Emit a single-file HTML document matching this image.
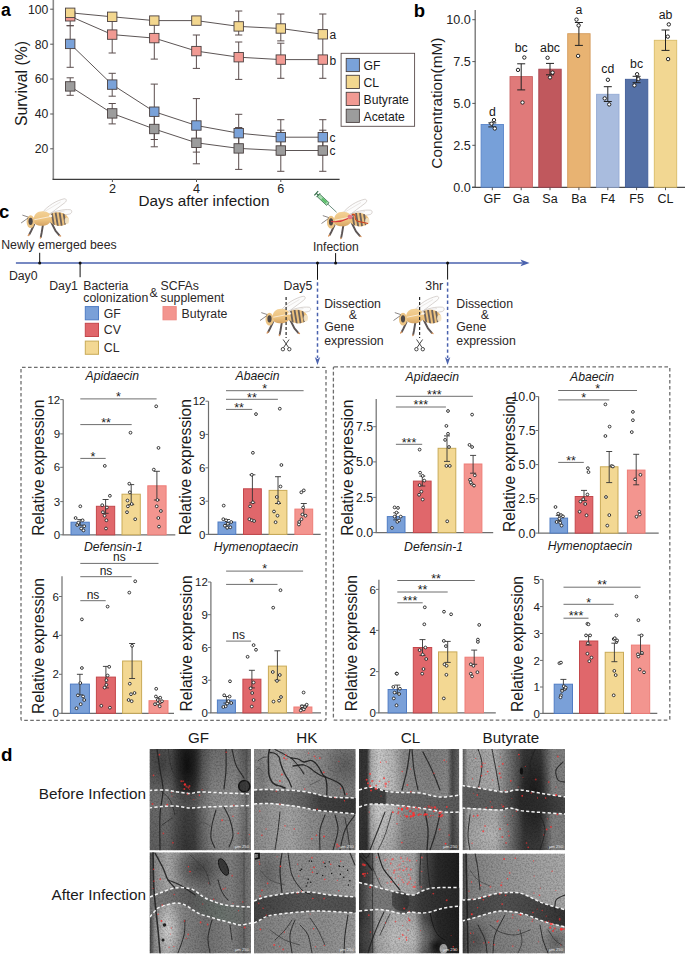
<!DOCTYPE html>
<html><head><meta charset="utf-8"><style>
html,body{margin:0;padding:0;background:#fff;}
svg{display:block;}
text{font-family:"Liberation Sans", sans-serif;}
</style></head><body>
<svg width="685" height="955" viewBox="0 0 685 955">
<defs>
<linearGradient id="thg" x1="0" y1="0" x2="0" y2="1"><stop offset="0" stop-color="#f3d196"/><stop offset="0.6" stop-color="#ecc27f"/><stop offset="1" stop-color="#d5a464"/></linearGradient>
<clipPath id="abdclip"><ellipse cx="38" cy="20.6" rx="10.2" ry="6.8" transform="rotate(8 38 20.6)"/></clipPath>
<filter id="grain" x="0" y="0" width="1" height="1" color-interpolation-filters="sRGB"><feTurbulence type="fractalNoise" baseFrequency="0.6" numOctaves="2" seed="7" result="t"/><feColorMatrix in="t" type="matrix" values="0 0 0 0 0  0 0 0 0 0  0 0 0 0 0  1.6 0 0 0 -0.62"/></filter><clipPath id="clip_gfb"><rect x="149.5" y="749" width="101.5" height="101.4"/></clipPath><linearGradient id="g_gfb" gradientUnits="userSpaceOnUse" x1="149.5" y1="0" x2="251" y2="0"><stop offset="0" stop-color="#626262" stop-opacity="1"/><stop offset="0.18" stop-color="#666" stop-opacity="1"/><stop offset="0.27" stop-color="#474747" stop-opacity="1"/><stop offset="0.35" stop-color="#383838" stop-opacity="1"/><stop offset="0.44" stop-color="#3c3c3c" stop-opacity="1"/><stop offset="0.52" stop-color="#626262" stop-opacity="1"/><stop offset="0.62" stop-color="#858585" stop-opacity="1"/><stop offset="0.85" stop-color="#8c8c8c" stop-opacity="1"/><stop offset="0.93" stop-color="#6e6e6e" stop-opacity="1"/><stop offset="1" stop-color="#808080" stop-opacity="1"/></linearGradient><linearGradient id="v_gfb" gradientUnits="userSpaceOnUse" x1="0" y1="749" x2="0" y2="850.4"><stop offset="0" stop-color="#000" stop-opacity="0.18"/><stop offset="0.4" stop-color="#000" stop-opacity="0.02"/><stop offset="0.6" stop-color="#fff" stop-opacity="0.04"/><stop offset="1" stop-color="#000" stop-opacity="0.04"/></linearGradient><radialGradient id="b_gfb1"><stop offset="0" stop-color="#0a0a0a" stop-opacity="0.85"/><stop offset="1" stop-color="#0a0a0a" stop-opacity="0"/></radialGradient><radialGradient id="b_gfb2"><stop offset="0" stop-color="#222" stop-opacity="0.4"/><stop offset="1" stop-color="#222" stop-opacity="0"/></radialGradient><clipPath id="clip_hkb"><rect x="254" y="749" width="101.7" height="101.2"/></clipPath><linearGradient id="g_hkb" gradientUnits="userSpaceOnUse" x1="254" y1="0" x2="355.7" y2="0"><stop offset="0" stop-color="#8a8a8a" stop-opacity="1"/><stop offset="0.2" stop-color="#9a9a9a" stop-opacity="1"/><stop offset="0.35" stop-color="#a4a4a4" stop-opacity="1"/><stop offset="0.55" stop-color="#8e8e8e" stop-opacity="1"/><stop offset="0.8" stop-color="#7e7e7e" stop-opacity="1"/><stop offset="1" stop-color="#7a7a7a" stop-opacity="1"/></linearGradient><radialGradient id="b_hkb1"><stop offset="0" stop-color="#333" stop-opacity="0.4"/><stop offset="1" stop-color="#333" stop-opacity="0"/></radialGradient><linearGradient id="gut_hkb" gradientUnits="userSpaceOnUse" x1="254" y1="0" x2="355.7" y2="0"><stop offset="0" stop-color="#5a5a5a" stop-opacity="1"/><stop offset="0.3" stop-color="#6e6e6e" stop-opacity="1"/><stop offset="0.5" stop-color="#5e5e5e" stop-opacity="1"/><stop offset="0.65" stop-color="#3e3e3e" stop-opacity="1"/><stop offset="1" stop-color="#363636" stop-opacity="1"/></linearGradient><radialGradient id="b_hkb2"><stop offset="0" stop-color="#444" stop-opacity="0.3"/><stop offset="1" stop-color="#444" stop-opacity="0"/></radialGradient><clipPath id="clip_clb"><rect x="359" y="749" width="100.3" height="101.2"/></clipPath><linearGradient id="g_clb" gradientUnits="userSpaceOnUse" x1="359" y1="0" x2="459.3" y2="0"><stop offset="0" stop-color="#3a3a3a" stop-opacity="1"/><stop offset="0.08" stop-color="#363636" stop-opacity="1"/><stop offset="0.12" stop-color="#b0b0b0" stop-opacity="1"/><stop offset="0.2" stop-color="#d2d2d2" stop-opacity="1"/><stop offset="0.34" stop-color="#bcbcbc" stop-opacity="1"/><stop offset="0.45" stop-color="#8e8e8e" stop-opacity="1"/><stop offset="0.7" stop-color="#848484" stop-opacity="1"/><stop offset="0.88" stop-color="#8a8a8a" stop-opacity="1"/><stop offset="0.93" stop-color="#4a4a4a" stop-opacity="1"/><stop offset="1" stop-color="#6e6e6e" stop-opacity="1"/></linearGradient><linearGradient id="v_clb" gradientUnits="userSpaceOnUse" x1="0" y1="749" x2="0" y2="850.2"><stop offset="0" stop-color="#000" stop-opacity="0.05"/><stop offset="0.5" stop-color="#000" stop-opacity="0"/><stop offset="1" stop-color="#000" stop-opacity="0.14"/></linearGradient><linearGradient id="gut_clb" gradientUnits="userSpaceOnUse" x1="359" y1="0" x2="459.3" y2="0"><stop offset="0" stop-color="#3a3a3a" stop-opacity="1"/><stop offset="0.26" stop-color="#383838" stop-opacity="1"/><stop offset="0.28" stop-color="#6e6e6e" stop-opacity="1"/><stop offset="0.6" stop-color="#666" stop-opacity="1"/><stop offset="1" stop-color="#5a5a5a" stop-opacity="1"/></linearGradient><clipPath id="clip_bub"><rect x="462.5" y="749" width="102.5" height="101.2"/></clipPath><linearGradient id="g_bub" gradientUnits="userSpaceOnUse" x1="462.5" y1="0" x2="565" y2="0"><stop offset="0" stop-color="#5a5a5a" stop-opacity="1"/><stop offset="0.05" stop-color="#9e9e9e" stop-opacity="1"/><stop offset="0.32" stop-color="#aaaaaa" stop-opacity="1"/><stop offset="0.45" stop-color="#767676" stop-opacity="1"/><stop offset="0.6" stop-color="#363636" stop-opacity="1"/><stop offset="0.76" stop-color="#3a3a3a" stop-opacity="1"/><stop offset="0.88" stop-color="#808080" stop-opacity="1"/><stop offset="1" stop-color="#7e7e7e" stop-opacity="1"/></linearGradient><radialGradient id="b_bub1"><stop offset="0" stop-color="#0a0a0a" stop-opacity="0.65"/><stop offset="1" stop-color="#0a0a0a" stop-opacity="0"/></radialGradient><radialGradient id="b_bub2"><stop offset="0" stop-color="#ccc" stop-opacity="0.35"/><stop offset="1" stop-color="#ccc" stop-opacity="0"/></radialGradient><linearGradient id="gut_bub" gradientUnits="userSpaceOnUse" x1="462.5" y1="0" x2="565" y2="0"><stop offset="0" stop-color="#5e5e5e" stop-opacity="1"/><stop offset="0.38" stop-color="#5a5a5a" stop-opacity="1"/><stop offset="0.56" stop-color="#2a2a2a" stop-opacity="1"/><stop offset="0.8" stop-color="#303030" stop-opacity="1"/><stop offset="1" stop-color="#444" stop-opacity="1"/></linearGradient><clipPath id="clip_gfa"><rect x="149.5" y="852.3" width="101.5" height="101.2"/></clipPath><linearGradient id="g_gfa" gradientUnits="userSpaceOnUse" x1="149.5" y1="0" x2="251" y2="0"><stop offset="0" stop-color="#3a3a3a" stop-opacity="1"/><stop offset="0.05" stop-color="#8a8a8a" stop-opacity="1"/><stop offset="0.18" stop-color="#a8a8a8" stop-opacity="1"/><stop offset="0.35" stop-color="#828282" stop-opacity="1"/><stop offset="0.55" stop-color="#707070" stop-opacity="1"/><stop offset="0.8" stop-color="#808080" stop-opacity="1"/><stop offset="0.92" stop-color="#6a6a6a" stop-opacity="1"/><stop offset="1" stop-color="#7a7a7a" stop-opacity="1"/></linearGradient><radialGradient id="b_gfa1"><stop offset="0" stop-color="#222" stop-opacity="0.55"/><stop offset="1" stop-color="#222" stop-opacity="0"/></radialGradient><radialGradient id="b_gfa2"><stop offset="0" stop-color="#e6e6e6" stop-opacity="0.65"/><stop offset="1" stop-color="#e6e6e6" stop-opacity="0"/></radialGradient><linearGradient id="gut_gfa" gradientUnits="userSpaceOnUse" x1="149.5" y1="0" x2="251" y2="0"><stop offset="0" stop-color="#7a7a7a" stop-opacity="1"/><stop offset="0.4" stop-color="#555" stop-opacity="1"/><stop offset="0.7" stop-color="#66706a" stop-opacity="1"/><stop offset="1" stop-color="#707070" stop-opacity="1"/></linearGradient><clipPath id="clip_hka"><rect x="254" y="852.8" width="101.7" height="100.7"/></clipPath><linearGradient id="g_hka" gradientUnits="userSpaceOnUse" x1="254" y1="0" x2="355.7" y2="0"><stop offset="0" stop-color="#7e7e7e" stop-opacity="1"/><stop offset="0.3" stop-color="#8a8a8a" stop-opacity="1"/><stop offset="0.7" stop-color="#8e8e8e" stop-opacity="1"/><stop offset="1" stop-color="#9a9a9a" stop-opacity="1"/></linearGradient><radialGradient id="b_hka1"><stop offset="0" stop-color="#333" stop-opacity="0.35"/><stop offset="1" stop-color="#333" stop-opacity="0"/></radialGradient><linearGradient id="gut_hka" gradientUnits="userSpaceOnUse" x1="254" y1="0" x2="355.7" y2="0"><stop offset="0" stop-color="#3e3e3e" stop-opacity="1"/><stop offset="0.5" stop-color="#525252" stop-opacity="1"/><stop offset="1" stop-color="#4a4a4a" stop-opacity="1"/></linearGradient><clipPath id="clip_cla"><rect x="359" y="852.8" width="100.3" height="100.7"/></clipPath><linearGradient id="g_cla" gradientUnits="userSpaceOnUse" x1="359" y1="0" x2="459.3" y2="0"><stop offset="0" stop-color="#2e2e2e" stop-opacity="1"/><stop offset="0.11" stop-color="#484848" stop-opacity="1"/><stop offset="0.17" stop-color="#9a9a9a" stop-opacity="1"/><stop offset="0.35" stop-color="#b0b0b0" stop-opacity="1"/><stop offset="0.55" stop-color="#a2a2a2" stop-opacity="1"/><stop offset="0.64" stop-color="#505050" stop-opacity="1"/><stop offset="0.78" stop-color="#2a2a2a" stop-opacity="1"/><stop offset="1" stop-color="#1e1e1e" stop-opacity="1"/></linearGradient><radialGradient id="b_cla1"><stop offset="0" stop-color="#cfcfcf" stop-opacity="0.6"/><stop offset="1" stop-color="#cfcfcf" stop-opacity="0"/></radialGradient><radialGradient id="b_cla2"><stop offset="0" stop-color="#000" stop-opacity="0.6"/><stop offset="1" stop-color="#000" stop-opacity="0"/></radialGradient><radialGradient id="b_cla3"><stop offset="0" stop-color="#555" stop-opacity="0.5"/><stop offset="1" stop-color="#555" stop-opacity="0"/></radialGradient><linearGradient id="gut_cla" gradientUnits="userSpaceOnUse" x1="359" y1="0" x2="459.3" y2="0"><stop offset="0" stop-color="#3a3a3a" stop-opacity="1"/><stop offset="0.14" stop-color="#777" stop-opacity="1"/><stop offset="0.34" stop-color="#747474" stop-opacity="1"/><stop offset="0.45" stop-color="#454545" stop-opacity="1"/><stop offset="0.6" stop-color="#383838" stop-opacity="1"/><stop offset="1" stop-color="#2a2a2a" stop-opacity="1"/></linearGradient><clipPath id="clip_bua"><rect x="462.5" y="853.5" width="102.5" height="100.0"/></clipPath><linearGradient id="g_bua" gradientUnits="userSpaceOnUse" x1="462.5" y1="0" x2="565" y2="0"><stop offset="0" stop-color="#404040" stop-opacity="1"/><stop offset="0.06" stop-color="#7e7e7e" stop-opacity="1"/><stop offset="0.3" stop-color="#909090" stop-opacity="1"/><stop offset="0.7" stop-color="#a0a0a0" stop-opacity="1"/><stop offset="1" stop-color="#aaaaaa" stop-opacity="1"/></linearGradient><linearGradient id="v_bua" gradientUnits="userSpaceOnUse" x1="0" y1="900" x2="0" y2="953.5"><stop offset="0" stop-color="#000" stop-opacity="0"/><stop offset="0.3" stop-color="#000" stop-opacity="0.1"/><stop offset="1" stop-color="#000" stop-opacity="0.15"/></linearGradient><radialGradient id="b_bua1"><stop offset="0" stop-color="#222" stop-opacity="0.4"/><stop offset="1" stop-color="#222" stop-opacity="0"/></radialGradient><radialGradient id="b_bua2"><stop offset="0" stop-color="#222" stop-opacity="0.4"/><stop offset="1" stop-color="#222" stop-opacity="0"/></radialGradient><linearGradient id="gut_bua" gradientUnits="userSpaceOnUse" x1="462.5" y1="0" x2="565" y2="0"><stop offset="0" stop-color="#404040" stop-opacity="1"/><stop offset="0.4" stop-color="#4c4c4c" stop-opacity="1"/><stop offset="0.7" stop-color="#3e3e3e" stop-opacity="1"/><stop offset="1" stop-color="#282828" stop-opacity="1"/></linearGradient></defs>
<text x="1.0" y="15.9" font-size="17.6" text-anchor="start" font-weight="bold" fill="#000" >a</text>
<line x1="53.3" y1="0.0" x2="53.3" y2="179.3" stroke="#8a8a8a" stroke-width="1.6" />
<line x1="52.5" y1="179.3" x2="339.6" y2="179.3" stroke="#3c3c3c" stroke-width="1.2" />
<line x1="50.2" y1="9.2" x2="53.3" y2="9.2" stroke="#555" stroke-width="1" />
<text x="48.3" y="13.5" font-size="12.2" text-anchor="end" fill="#222" >100</text>
<line x1="50.2" y1="44.2" x2="53.3" y2="44.2" stroke="#555" stroke-width="1" />
<text x="48.3" y="48.5" font-size="12.2" text-anchor="end" fill="#222" >80</text>
<line x1="50.2" y1="79.0" x2="53.3" y2="79.0" stroke="#555" stroke-width="1" />
<text x="48.3" y="83.3" font-size="12.2" text-anchor="end" fill="#222" >60</text>
<line x1="50.2" y1="114.0" x2="53.3" y2="114.0" stroke="#555" stroke-width="1" />
<text x="48.3" y="118.3" font-size="12.2" text-anchor="end" fill="#222" >40</text>
<line x1="50.2" y1="148.8" x2="53.3" y2="148.8" stroke="#555" stroke-width="1" />
<text x="48.3" y="153.1" font-size="12.2" text-anchor="end" fill="#222" >20</text>
<line x1="112.4" y1="179.3" x2="112.4" y2="182.0" stroke="#555" stroke-width="1" />
<text x="112.4" y="192.8" font-size="12.6" text-anchor="middle" fill="#222" >2</text>
<line x1="196.5" y1="179.3" x2="196.5" y2="182.0" stroke="#555" stroke-width="1" />
<text x="196.5" y="192.8" font-size="12.6" text-anchor="middle" fill="#222" >4</text>
<line x1="280.8" y1="179.3" x2="280.8" y2="182.0" stroke="#555" stroke-width="1" />
<text x="280.8" y="192.8" font-size="12.6" text-anchor="middle" fill="#222" >6</text>
<text x="204.0" y="205.6" font-size="15.3" text-anchor="middle" fill="#1a1a1a" >Days after infection</text>
<text transform="translate(26.5,83.5) rotate(-90)" font-size="15.8" text-anchor="middle" fill="#1a1a1a">Survival (%)</text>
<line x1="238.7" y1="11.0" x2="238.7" y2="35.0" stroke="#5b4d4d" stroke-width="1" />
<line x1="235.1" y1="11.0" x2="242.3" y2="11.0" stroke="#5b4d4d" stroke-width="1" />
<line x1="235.1" y1="35.0" x2="242.3" y2="35.0" stroke="#5b4d4d" stroke-width="1" />
<line x1="280.8" y1="14.0" x2="280.8" y2="40.9" stroke="#5b4d4d" stroke-width="1" />
<line x1="277.2" y1="14.0" x2="284.4" y2="14.0" stroke="#5b4d4d" stroke-width="1" />
<line x1="277.2" y1="40.9" x2="284.4" y2="40.9" stroke="#5b4d4d" stroke-width="1" />
<line x1="322.8" y1="14.0" x2="322.8" y2="57.5" stroke="#5b4d4d" stroke-width="1" />
<line x1="319.2" y1="14.0" x2="326.4" y2="14.0" stroke="#5b4d4d" stroke-width="1" />
<line x1="319.2" y1="57.5" x2="326.4" y2="57.5" stroke="#5b4d4d" stroke-width="1" />
<line x1="70.2" y1="16.3" x2="70.2" y2="25.7" stroke="#5b4d4d" stroke-width="1" />
<line x1="66.6" y1="16.3" x2="73.8" y2="16.3" stroke="#5b4d4d" stroke-width="1" />
<line x1="66.6" y1="25.7" x2="73.8" y2="25.7" stroke="#5b4d4d" stroke-width="1" />
<line x1="112.2" y1="16.8" x2="112.2" y2="53.0" stroke="#5b4d4d" stroke-width="1" />
<line x1="108.6" y1="16.8" x2="115.8" y2="16.8" stroke="#5b4d4d" stroke-width="1" />
<line x1="108.6" y1="53.0" x2="115.8" y2="53.0" stroke="#5b4d4d" stroke-width="1" />
<line x1="154.3" y1="20.6" x2="154.3" y2="59.1" stroke="#5b4d4d" stroke-width="1" />
<line x1="150.7" y1="20.6" x2="157.9" y2="20.6" stroke="#5b4d4d" stroke-width="1" />
<line x1="150.7" y1="59.1" x2="157.9" y2="59.1" stroke="#5b4d4d" stroke-width="1" />
<line x1="196.4" y1="35.0" x2="196.4" y2="68.4" stroke="#5b4d4d" stroke-width="1" />
<line x1="192.8" y1="35.0" x2="200.0" y2="35.0" stroke="#5b4d4d" stroke-width="1" />
<line x1="192.8" y1="68.4" x2="200.0" y2="68.4" stroke="#5b4d4d" stroke-width="1" />
<line x1="238.7" y1="42.0" x2="238.7" y2="79.4" stroke="#5b4d4d" stroke-width="1" />
<line x1="235.1" y1="42.0" x2="242.3" y2="42.0" stroke="#5b4d4d" stroke-width="1" />
<line x1="235.1" y1="79.4" x2="242.3" y2="79.4" stroke="#5b4d4d" stroke-width="1" />
<line x1="280.8" y1="43.2" x2="280.8" y2="78.3" stroke="#5b4d4d" stroke-width="1" />
<line x1="277.2" y1="43.2" x2="284.4" y2="43.2" stroke="#5b4d4d" stroke-width="1" />
<line x1="277.2" y1="78.3" x2="284.4" y2="78.3" stroke="#5b4d4d" stroke-width="1" />
<line x1="322.8" y1="59.6" x2="322.8" y2="78.3" stroke="#5b4d4d" stroke-width="1" />
<line x1="319.2" y1="59.6" x2="326.4" y2="59.6" stroke="#5b4d4d" stroke-width="1" />
<line x1="319.2" y1="78.3" x2="326.4" y2="78.3" stroke="#5b4d4d" stroke-width="1" />
<line x1="70.2" y1="25.7" x2="70.2" y2="67.3" stroke="#5b4d4d" stroke-width="1" />
<line x1="66.6" y1="25.7" x2="73.8" y2="25.7" stroke="#5b4d4d" stroke-width="1" />
<line x1="66.6" y1="67.3" x2="73.8" y2="67.3" stroke="#5b4d4d" stroke-width="1" />
<line x1="112.2" y1="73.3" x2="112.2" y2="96.2" stroke="#5b4d4d" stroke-width="1" />
<line x1="108.6" y1="73.3" x2="115.8" y2="73.3" stroke="#5b4d4d" stroke-width="1" />
<line x1="108.6" y1="96.2" x2="115.8" y2="96.2" stroke="#5b4d4d" stroke-width="1" />
<line x1="154.3" y1="84.1" x2="154.3" y2="139.5" stroke="#5b4d4d" stroke-width="1" />
<line x1="150.7" y1="84.1" x2="157.9" y2="84.1" stroke="#5b4d4d" stroke-width="1" />
<line x1="150.7" y1="139.5" x2="157.9" y2="139.5" stroke="#5b4d4d" stroke-width="1" />
<line x1="196.4" y1="98.6" x2="196.4" y2="152.1" stroke="#5b4d4d" stroke-width="1" />
<line x1="192.8" y1="98.6" x2="200.0" y2="98.6" stroke="#5b4d4d" stroke-width="1" />
<line x1="192.8" y1="152.1" x2="200.0" y2="152.1" stroke="#5b4d4d" stroke-width="1" />
<line x1="238.7" y1="114.3" x2="238.7" y2="152.0" stroke="#5b4d4d" stroke-width="1" />
<line x1="235.1" y1="114.3" x2="242.3" y2="114.3" stroke="#5b4d4d" stroke-width="1" />
<line x1="235.1" y1="152.0" x2="242.3" y2="152.0" stroke="#5b4d4d" stroke-width="1" />
<line x1="280.8" y1="119.7" x2="280.8" y2="155.0" stroke="#5b4d4d" stroke-width="1" />
<line x1="277.2" y1="119.7" x2="284.4" y2="119.7" stroke="#5b4d4d" stroke-width="1" />
<line x1="277.2" y1="155.0" x2="284.4" y2="155.0" stroke="#5b4d4d" stroke-width="1" />
<line x1="322.8" y1="119.7" x2="322.8" y2="155.0" stroke="#5b4d4d" stroke-width="1" />
<line x1="319.2" y1="119.7" x2="326.4" y2="119.7" stroke="#5b4d4d" stroke-width="1" />
<line x1="319.2" y1="155.0" x2="326.4" y2="155.0" stroke="#5b4d4d" stroke-width="1" />
<line x1="70.2" y1="77.8" x2="70.2" y2="95.3" stroke="#5b4d4d" stroke-width="1" />
<line x1="66.6" y1="77.8" x2="73.8" y2="77.8" stroke="#5b4d4d" stroke-width="1" />
<line x1="66.6" y1="95.3" x2="73.8" y2="95.3" stroke="#5b4d4d" stroke-width="1" />
<line x1="112.2" y1="103.5" x2="112.2" y2="123.9" stroke="#5b4d4d" stroke-width="1" />
<line x1="108.6" y1="103.5" x2="115.8" y2="103.5" stroke="#5b4d4d" stroke-width="1" />
<line x1="108.6" y1="123.9" x2="115.8" y2="123.9" stroke="#5b4d4d" stroke-width="1" />
<line x1="154.3" y1="112.0" x2="154.3" y2="146.8" stroke="#5b4d4d" stroke-width="1" />
<line x1="150.7" y1="112.0" x2="157.9" y2="112.0" stroke="#5b4d4d" stroke-width="1" />
<line x1="150.7" y1="146.8" x2="157.9" y2="146.8" stroke="#5b4d4d" stroke-width="1" />
<line x1="196.4" y1="125.0" x2="196.4" y2="163.8" stroke="#5b4d4d" stroke-width="1" />
<line x1="192.8" y1="125.0" x2="200.0" y2="125.0" stroke="#5b4d4d" stroke-width="1" />
<line x1="192.8" y1="163.8" x2="200.0" y2="163.8" stroke="#5b4d4d" stroke-width="1" />
<line x1="238.7" y1="127.5" x2="238.7" y2="169.4" stroke="#5b4d4d" stroke-width="1" />
<line x1="235.1" y1="127.5" x2="242.3" y2="127.5" stroke="#5b4d4d" stroke-width="1" />
<line x1="235.1" y1="169.4" x2="242.3" y2="169.4" stroke="#5b4d4d" stroke-width="1" />
<line x1="280.8" y1="130.2" x2="280.8" y2="171.3" stroke="#5b4d4d" stroke-width="1" />
<line x1="277.2" y1="130.2" x2="284.4" y2="130.2" stroke="#5b4d4d" stroke-width="1" />
<line x1="277.2" y1="171.3" x2="284.4" y2="171.3" stroke="#5b4d4d" stroke-width="1" />
<line x1="322.8" y1="130.2" x2="322.8" y2="171.3" stroke="#5b4d4d" stroke-width="1" />
<line x1="319.2" y1="130.2" x2="326.4" y2="130.2" stroke="#5b4d4d" stroke-width="1" />
<line x1="319.2" y1="171.3" x2="326.4" y2="171.3" stroke="#5b4d4d" stroke-width="1" />
<polyline points="70.2,12.8 112.2,16.8 154.3,20.6 196.4,20.6 238.7,26.4 280.8,28.5 322.8,34.3" fill="none" stroke="#4a4242" stroke-width="0.9"/>
<polyline points="70.2,16.3 112.2,34.6 154.3,38.1 196.4,51.1 238.7,57.2 280.8,59.6 322.8,59.6" fill="none" stroke="#4a4242" stroke-width="0.9"/>
<polyline points="70.2,43.9 112.2,84.6 154.3,111.7 196.4,125.5 238.7,133.2 280.8,137.2 322.8,137.2" fill="none" stroke="#4a4242" stroke-width="0.9"/>
<polyline points="70.2,86.4 112.2,113.4 154.3,129.0 196.4,142.8 238.7,148.4 280.8,150.5 322.8,150.5" fill="none" stroke="#4a4242" stroke-width="0.9"/>
<rect x="65.5" y="81.7" width="9.4" height="9.4" fill="#9c9c9c" stroke="#4a4040" stroke-width="0.9" />
<rect x="107.5" y="108.7" width="9.4" height="9.4" fill="#9c9c9c" stroke="#4a4040" stroke-width="0.9" />
<rect x="149.6" y="124.3" width="9.4" height="9.4" fill="#9c9c9c" stroke="#4a4040" stroke-width="0.9" />
<rect x="191.7" y="138.1" width="9.4" height="9.4" fill="#9c9c9c" stroke="#4a4040" stroke-width="0.9" />
<rect x="234.0" y="143.7" width="9.4" height="9.4" fill="#9c9c9c" stroke="#4a4040" stroke-width="0.9" />
<rect x="276.1" y="145.8" width="9.4" height="9.4" fill="#9c9c9c" stroke="#4a4040" stroke-width="0.9" />
<rect x="318.1" y="145.8" width="9.4" height="9.4" fill="#9c9c9c" stroke="#4a4040" stroke-width="0.9" />
<rect x="65.5" y="39.2" width="9.4" height="9.4" fill="#7aa2d9" stroke="#4a4040" stroke-width="0.9" />
<rect x="107.5" y="79.9" width="9.4" height="9.4" fill="#7aa2d9" stroke="#4a4040" stroke-width="0.9" />
<rect x="149.6" y="107.0" width="9.4" height="9.4" fill="#7aa2d9" stroke="#4a4040" stroke-width="0.9" />
<rect x="191.7" y="120.8" width="9.4" height="9.4" fill="#7aa2d9" stroke="#4a4040" stroke-width="0.9" />
<rect x="234.0" y="128.5" width="9.4" height="9.4" fill="#7aa2d9" stroke="#4a4040" stroke-width="0.9" />
<rect x="276.1" y="132.5" width="9.4" height="9.4" fill="#7aa2d9" stroke="#4a4040" stroke-width="0.9" />
<rect x="318.1" y="132.5" width="9.4" height="9.4" fill="#7aa2d9" stroke="#4a4040" stroke-width="0.9" />
<rect x="65.5" y="11.6" width="9.4" height="9.4" fill="#f19a93" stroke="#4a4040" stroke-width="0.9" />
<rect x="107.5" y="29.9" width="9.4" height="9.4" fill="#f19a93" stroke="#4a4040" stroke-width="0.9" />
<rect x="149.6" y="33.4" width="9.4" height="9.4" fill="#f19a93" stroke="#4a4040" stroke-width="0.9" />
<rect x="191.7" y="46.4" width="9.4" height="9.4" fill="#f19a93" stroke="#4a4040" stroke-width="0.9" />
<rect x="234.0" y="52.5" width="9.4" height="9.4" fill="#f19a93" stroke="#4a4040" stroke-width="0.9" />
<rect x="276.1" y="54.9" width="9.4" height="9.4" fill="#f19a93" stroke="#4a4040" stroke-width="0.9" />
<rect x="318.1" y="54.9" width="9.4" height="9.4" fill="#f19a93" stroke="#4a4040" stroke-width="0.9" />
<rect x="65.5" y="8.1" width="9.4" height="9.4" fill="#f3d78f" stroke="#4a4040" stroke-width="0.9" />
<rect x="107.5" y="12.1" width="9.4" height="9.4" fill="#f3d78f" stroke="#4a4040" stroke-width="0.9" />
<rect x="149.6" y="15.9" width="9.4" height="9.4" fill="#f3d78f" stroke="#4a4040" stroke-width="0.9" />
<rect x="191.7" y="15.9" width="9.4" height="9.4" fill="#f3d78f" stroke="#4a4040" stroke-width="0.9" />
<rect x="234.0" y="21.7" width="9.4" height="9.4" fill="#f3d78f" stroke="#4a4040" stroke-width="0.9" />
<rect x="276.1" y="23.8" width="9.4" height="9.4" fill="#f3d78f" stroke="#4a4040" stroke-width="0.9" />
<rect x="318.1" y="29.6" width="9.4" height="9.4" fill="#f3d78f" stroke="#4a4040" stroke-width="0.9" />
<text x="329.5" y="39.0" font-size="12" text-anchor="start" fill="#222" >a</text>
<text x="329.5" y="65.2" font-size="12" text-anchor="start" fill="#222" >b</text>
<text x="329.5" y="141.6" font-size="12" text-anchor="start" fill="#222" >c</text>
<text x="329.5" y="155.1" font-size="12" text-anchor="start" fill="#222" >c</text>
<rect x="341.1" y="53.3" width="73.5" height="73.0" fill="#fff" stroke="#5a4c4c" stroke-width="0.9" />
<rect x="346.2" y="58.4" width="13.2" height="13.2" fill="#7aa2d9" stroke="#4a4040" stroke-width="0.9" />
<text x="363.5" y="69.7" font-size="12.2" text-anchor="start" fill="#1a1a1a" >GF</text>
<rect x="346.2" y="75.3" width="13.2" height="13.2" fill="#f3d78f" stroke="#4a4040" stroke-width="0.9" />
<text x="363.5" y="86.6" font-size="12.2" text-anchor="start" fill="#1a1a1a" >CL</text>
<rect x="346.2" y="92.3" width="13.2" height="13.2" fill="#f19a93" stroke="#4a4040" stroke-width="0.9" />
<text x="363.5" y="103.6" font-size="12.2" text-anchor="start" fill="#1a1a1a" >Butyrate</text>
<rect x="346.2" y="109.2" width="13.2" height="13.2" fill="#9c9c9c" stroke="#4a4040" stroke-width="0.9" />
<text x="363.5" y="120.5" font-size="12.2" text-anchor="start" fill="#1a1a1a" >Acetate</text>
<text x="413.8" y="16.8" font-size="18.5" text-anchor="start" font-weight="bold" fill="#000" >b</text>
<line x1="475.2" y1="10.0" x2="475.2" y2="187.4" stroke="#6e6e6e" stroke-width="1.3" />
<line x1="472.0" y1="187.4" x2="685.0" y2="187.4" stroke="#4a4a4a" stroke-width="1.2" />
<line x1="472.3" y1="187.2" x2="475.3" y2="187.2" stroke="#555" stroke-width="1" />
<text x="470.8" y="191.6" font-size="12.6" text-anchor="end" fill="#222" >0.0</text>
<line x1="472.3" y1="145.3" x2="475.3" y2="145.3" stroke="#555" stroke-width="1" />
<text x="470.8" y="149.7" font-size="12.6" text-anchor="end" fill="#222" >2.5</text>
<line x1="472.3" y1="103.4" x2="475.3" y2="103.4" stroke="#555" stroke-width="1" />
<text x="470.8" y="107.8" font-size="12.6" text-anchor="end" fill="#222" >5.0</text>
<line x1="472.3" y1="61.6" x2="475.3" y2="61.6" stroke="#555" stroke-width="1" />
<text x="470.8" y="66.0" font-size="12.6" text-anchor="end" fill="#222" >7.5</text>
<line x1="472.3" y1="19.7" x2="475.3" y2="19.7" stroke="#555" stroke-width="1" />
<text x="470.8" y="24.1" font-size="12.6" text-anchor="end" fill="#222" >10.0</text>
<text transform="translate(441.8,103.2) rotate(-90)" font-size="15.3" text-anchor="middle" fill="#1a1a1a">Concentration(mM)</text>
<rect x="481.1" y="124.5" width="22.4" height="62.7" fill="#77a0d9" stroke="#5a86cb" stroke-width="0.9" />
<line x1="492.3" y1="187.4" x2="492.3" y2="190.2" stroke="#555" stroke-width="1" />
<text x="492.3" y="202.6" font-size="12.5" text-anchor="middle" fill="#1a1a1a" >GF</text>
<rect x="510.0" y="76.6" width="22.4" height="110.6" fill="#e07a7a" stroke="#c96464" stroke-width="0.9" />
<line x1="521.2" y1="187.4" x2="521.2" y2="190.2" stroke="#555" stroke-width="1" />
<text x="521.2" y="202.6" font-size="12.5" text-anchor="middle" fill="#1a1a1a" >Ga</text>
<rect x="538.8" y="69.2" width="22.4" height="118.0" fill="#c0585d" stroke="#a84650" stroke-width="0.9" />
<line x1="550.0" y1="187.4" x2="550.0" y2="190.2" stroke="#555" stroke-width="1" />
<text x="550.0" y="202.6" font-size="12.5" text-anchor="middle" fill="#1a1a1a" >Sa</text>
<rect x="567.7" y="33.7" width="22.4" height="153.5" fill="#e8b372" stroke="#d49c5c" stroke-width="0.9" />
<line x1="578.9" y1="187.4" x2="578.9" y2="190.2" stroke="#555" stroke-width="1" />
<text x="578.9" y="202.6" font-size="12.5" text-anchor="middle" fill="#1a1a1a" >Ba</text>
<rect x="596.6" y="94.3" width="22.4" height="92.9" fill="#a9bcde" stroke="#94aad4" stroke-width="0.9" />
<line x1="607.8" y1="187.4" x2="607.8" y2="190.2" stroke="#555" stroke-width="1" />
<text x="607.8" y="202.6" font-size="12.5" text-anchor="middle" fill="#1a1a1a" >F4</text>
<rect x="625.4" y="79.3" width="22.4" height="107.9" fill="#5470a6" stroke="#405c98" stroke-width="0.9" />
<line x1="636.6" y1="187.4" x2="636.6" y2="190.2" stroke="#555" stroke-width="1" />
<text x="636.6" y="202.6" font-size="12.5" text-anchor="middle" fill="#1a1a1a" >F5</text>
<rect x="654.3" y="40.3" width="22.4" height="146.9" fill="#f2d792" stroke="#d8bb66" stroke-width="0.9" />
<line x1="665.5" y1="187.4" x2="665.5" y2="190.2" stroke="#555" stroke-width="1" />
<text x="665.5" y="202.6" font-size="12.5" text-anchor="middle" fill="#1a1a1a" >CL</text>
<line x1="492.3" y1="122.9" x2="492.3" y2="126.9" stroke="#222" stroke-width="1" />
<line x1="488.3" y1="122.9" x2="496.3" y2="122.9" stroke="#222" stroke-width="1" />
<line x1="488.3" y1="126.9" x2="496.3" y2="126.9" stroke="#222" stroke-width="1" />
<circle cx="494.0" cy="120.1" r="1.7" fill="#fff" stroke="#222" stroke-width="1.0"/>
<circle cx="491.5" cy="123.7" r="1.7" fill="#fff" stroke="#222" stroke-width="1.0"/>
<circle cx="494.8" cy="128.5" r="1.7" fill="#fff" stroke="#222" stroke-width="1.0"/>
<text x="492.3" y="115.6" font-size="12.3" text-anchor="middle" fill="#1a1a1a" >d</text>
<line x1="521.2" y1="63.8" x2="521.2" y2="89.9" stroke="#222" stroke-width="1" />
<line x1="517.2" y1="63.8" x2="525.2" y2="63.8" stroke="#222" stroke-width="1" />
<line x1="517.2" y1="89.9" x2="525.2" y2="89.9" stroke="#222" stroke-width="1" />
<circle cx="524.3" cy="57.5" r="1.7" fill="#fff" stroke="#222" stroke-width="1.0"/>
<circle cx="518.0" cy="69.9" r="1.7" fill="#fff" stroke="#222" stroke-width="1.0"/>
<circle cx="522.5" cy="102.5" r="1.7" fill="#fff" stroke="#222" stroke-width="1.0"/>
<text x="521.2" y="51.7" font-size="12.3" text-anchor="middle" fill="#1a1a1a" >bc</text>
<line x1="550.0" y1="63.4" x2="550.0" y2="74.8" stroke="#222" stroke-width="1" />
<line x1="546.0" y1="63.4" x2="554.0" y2="63.4" stroke="#222" stroke-width="1" />
<line x1="546.0" y1="74.8" x2="554.0" y2="74.8" stroke="#222" stroke-width="1" />
<circle cx="547.6" cy="57.8" r="1.7" fill="#fff" stroke="#222" stroke-width="1.0"/>
<circle cx="552.6" cy="72.6" r="1.7" fill="#fff" stroke="#222" stroke-width="1.0"/>
<circle cx="550.0" cy="77.4" r="1.7" fill="#fff" stroke="#222" stroke-width="1.0"/>
<text x="550.0" y="51.7" font-size="12.3" text-anchor="middle" fill="#1a1a1a" >abc</text>
<line x1="578.9" y1="22.5" x2="578.9" y2="45.4" stroke="#222" stroke-width="1" />
<line x1="574.9" y1="22.5" x2="582.9" y2="22.5" stroke="#222" stroke-width="1" />
<line x1="574.9" y1="45.4" x2="582.9" y2="45.4" stroke="#222" stroke-width="1" />
<circle cx="576.5" cy="19.6" r="1.7" fill="#fff" stroke="#222" stroke-width="1.0"/>
<circle cx="578.6" cy="25.4" r="1.7" fill="#fff" stroke="#222" stroke-width="1.0"/>
<circle cx="578.1" cy="55.9" r="1.7" fill="#fff" stroke="#222" stroke-width="1.0"/>
<text x="578.9" y="14.1" font-size="12.3" text-anchor="middle" fill="#1a1a1a" >a</text>
<line x1="607.8" y1="86.7" x2="607.8" y2="101.5" stroke="#222" stroke-width="1" />
<line x1="603.8" y1="86.7" x2="611.8" y2="86.7" stroke="#222" stroke-width="1" />
<line x1="603.8" y1="101.5" x2="611.8" y2="101.5" stroke="#222" stroke-width="1" />
<circle cx="607.9" cy="79.8" r="1.7" fill="#fff" stroke="#222" stroke-width="1.0"/>
<circle cx="604.7" cy="98.4" r="1.7" fill="#fff" stroke="#222" stroke-width="1.0"/>
<circle cx="609.2" cy="104.4" r="1.7" fill="#fff" stroke="#222" stroke-width="1.0"/>
<text x="607.8" y="72.6" font-size="12.3" text-anchor="middle" fill="#1a1a1a" >cd</text>
<line x1="636.6" y1="76.3" x2="636.6" y2="82.7" stroke="#222" stroke-width="1" />
<line x1="632.6" y1="76.3" x2="640.6" y2="76.3" stroke="#222" stroke-width="1" />
<line x1="632.6" y1="82.7" x2="640.6" y2="82.7" stroke="#222" stroke-width="1" />
<circle cx="637.1" cy="74.2" r="1.7" fill="#fff" stroke="#222" stroke-width="1.0"/>
<circle cx="638.4" cy="79.0" r="1.7" fill="#fff" stroke="#222" stroke-width="1.0"/>
<circle cx="634.4" cy="85.4" r="1.7" fill="#fff" stroke="#222" stroke-width="1.0"/>
<text x="636.6" y="68.3" font-size="12.3" text-anchor="middle" fill="#1a1a1a" >bc</text>
<line x1="665.5" y1="30.0" x2="665.5" y2="50.4" stroke="#222" stroke-width="1" />
<line x1="661.5" y1="30.0" x2="669.5" y2="30.0" stroke="#222" stroke-width="1" />
<line x1="661.5" y1="50.4" x2="669.5" y2="50.4" stroke="#222" stroke-width="1" />
<circle cx="668.8" cy="24.4" r="1.7" fill="#fff" stroke="#222" stroke-width="1.0"/>
<circle cx="667.8" cy="36.6" r="1.7" fill="#fff" stroke="#222" stroke-width="1.0"/>
<circle cx="668.1" cy="59.1" r="1.7" fill="#fff" stroke="#222" stroke-width="1.0"/>
<text x="665.5" y="18.9" font-size="12.3" text-anchor="middle" fill="#1a1a1a" >ab</text>
<text x="-0.9" y="218.4" font-size="18.5" text-anchor="start" font-weight="bold" fill="#000" >c</text>
<g transform="translate(20.6,198.5)">
  <path d="M21,15 C27,7 36,2 43.5,0.3 C46.2,0 46.4,2.6 44.2,4.2 C38,9 32,13 28.5,16.5 Z" fill="#fbfbfb" fill-opacity="0.75" stroke="#bfb7b1" stroke-width="0.6"/>
  <path d="M26,16.5 C34,12.5 43,10.5 49.5,11.2 C52,11.6 51.6,15 48.8,15.6 C42,16.8 35,17.5 29,18.8 Z" fill="#fbfbfb" fill-opacity="0.75" stroke="#bfb7b1" stroke-width="0.6"/>
  <path d="M24,13 L40,3.5 M29,15 L44,12.5" stroke="#d0c8c2" stroke-width="0.4" fill="none"/>
  <g stroke="#5c5555" stroke-width="1.9" fill="none" stroke-linecap="round">
    <path d="M13.5,26 L10.5,32.5 L8.8,35.8"/>
    <path d="M22.5,25.5 L21,34.5 L20.2,38.6"/>
    <path d="M30.5,23.5 L35,32.5 L38.8,36.8"/>
  </g>
  <g stroke="#d9935a" stroke-width="1.2" stroke-linecap="round"><path d="M8.6,36 L7.6,37"/><path d="M20.1,38.8 L19.8,39.6"/><path d="M39,37 L40,37.6"/></g>
  <ellipse cx="38" cy="20.6" rx="10.2" ry="6.8" transform="rotate(8 38 20.6)" fill="#ecc07c"/>
  <g clip-path="url(#abdclip)" stroke="#6d625d" stroke-width="1.8">
    <line x1="33.5" y1="28" x2="31" y2="13"/>
    <line x1="37.5" y1="29" x2="35" y2="14"/>
    <line x1="41.5" y1="30" x2="39" y2="14"/>
    <line x1="45.5" y1="30" x2="43" y2="15"/>
  </g>
  <ellipse cx="46.3" cy="22.3" rx="2.2" ry="3.2" fill="#f4e4c6" fill-opacity="0.9"/>
  <path d="M13,22 C13,15.5 16.5,12.8 22,12.8 C27.5,12.8 30.5,16 30.5,20 C30.5,24.5 27,27.3 21.5,27.3 C16,27.3 13,25.5 13,22 Z" fill="url(#thg)"/>
  <path d="M12.5,21.5 L29,18.2" stroke="#fff" stroke-width="0.9" stroke-opacity="0.7"/>
  <ellipse cx="30" cy="17.5" rx="1.6" ry="1.3" fill="#fff" fill-opacity="0.85"/>
  <ellipse cx="10" cy="23.2" rx="4" ry="6.4" fill="#ebc383"/>
  <ellipse cx="10" cy="22.8" rx="2.1" ry="3.6" fill="#4d4848"/>
  <path d="M7.5,19.5 L0.5,24.5 M7.8,18.6 L1.8,16.6" stroke="#5a5555" stroke-width="0.7" fill="none"/>
</g>
<g transform="translate(321,199)">
  <path d="M21,15 C27,7 36,2 43.5,0.3 C46.2,0 46.4,2.6 44.2,4.2 C38,9 32,13 28.5,16.5 Z" fill="#fbfbfb" fill-opacity="0.75" stroke="#bfb7b1" stroke-width="0.6"/>
  <path d="M26,16.5 C34,12.5 43,10.5 49.5,11.2 C52,11.6 51.6,15 48.8,15.6 C42,16.8 35,17.5 29,18.8 Z" fill="#fbfbfb" fill-opacity="0.75" stroke="#bfb7b1" stroke-width="0.6"/>
  <path d="M24,13 L40,3.5 M29,15 L44,12.5" stroke="#d0c8c2" stroke-width="0.4" fill="none"/>
  <g stroke="#5c5555" stroke-width="1.9" fill="none" stroke-linecap="round">
    <path d="M13.5,26 L10.5,32.5 L8.8,35.8"/>
    <path d="M22.5,25.5 L21,34.5 L20.2,38.6"/>
    <path d="M30.5,23.5 L35,32.5 L38.8,36.8"/>
  </g>
  <g stroke="#d9935a" stroke-width="1.2" stroke-linecap="round"><path d="M8.6,36 L7.6,37"/><path d="M20.1,38.8 L19.8,39.6"/><path d="M39,37 L40,37.6"/></g>
  <ellipse cx="38" cy="20.6" rx="10.2" ry="6.8" transform="rotate(8 38 20.6)" fill="#ecc07c"/>
  <g clip-path="url(#abdclip)" stroke="#6d625d" stroke-width="1.8">
    <line x1="33.5" y1="28" x2="31" y2="13"/>
    <line x1="37.5" y1="29" x2="35" y2="14"/>
    <line x1="41.5" y1="30" x2="39" y2="14"/>
    <line x1="45.5" y1="30" x2="43" y2="15"/>
  </g>
  <ellipse cx="46.3" cy="22.3" rx="2.2" ry="3.2" fill="#f4e4c6" fill-opacity="0.9"/>
  <path d="M13,22 C13,15.5 16.5,12.8 22,12.8 C27.5,12.8 30.5,16 30.5,20 C30.5,24.5 27,27.3 21.5,27.3 C16,27.3 13,25.5 13,22 Z" fill="url(#thg)"/>
  <path d="M12.5,21.5 L29,18.2" stroke="#fff" stroke-width="0.9" stroke-opacity="0.7"/>
  <ellipse cx="30" cy="17.5" rx="1.6" ry="1.3" fill="#fff" fill-opacity="0.85"/>
  <ellipse cx="10" cy="23.2" rx="4" ry="6.4" fill="#ebc383"/>
  <ellipse cx="10" cy="22.8" rx="2.1" ry="3.6" fill="#4d4848"/>
  <path d="M7.5,19.5 L0.5,24.5 M7.8,18.6 L1.8,16.6" stroke="#5a5555" stroke-width="0.7" fill="none"/>
</g>
<g transform="translate(259.5,296)">
  <path d="M21,15 C27,7 36,2 43.5,0.3 C46.2,0 46.4,2.6 44.2,4.2 C38,9 32,13 28.5,16.5 Z" fill="#fbfbfb" fill-opacity="0.75" stroke="#bfb7b1" stroke-width="0.6"/>
  <path d="M26,16.5 C34,12.5 43,10.5 49.5,11.2 C52,11.6 51.6,15 48.8,15.6 C42,16.8 35,17.5 29,18.8 Z" fill="#fbfbfb" fill-opacity="0.75" stroke="#bfb7b1" stroke-width="0.6"/>
  <path d="M24,13 L40,3.5 M29,15 L44,12.5" stroke="#d0c8c2" stroke-width="0.4" fill="none"/>
  <g stroke="#5c5555" stroke-width="1.9" fill="none" stroke-linecap="round">
    <path d="M13.5,26 L10.5,32.5 L8.8,35.8"/>
    <path d="M22.5,25.5 L21,34.5 L20.2,38.6"/>
    <path d="M30.5,23.5 L35,32.5 L38.8,36.8"/>
  </g>
  <g stroke="#d9935a" stroke-width="1.2" stroke-linecap="round"><path d="M8.6,36 L7.6,37"/><path d="M20.1,38.8 L19.8,39.6"/><path d="M39,37 L40,37.6"/></g>
  <ellipse cx="38" cy="20.6" rx="10.2" ry="6.8" transform="rotate(8 38 20.6)" fill="#ecc07c"/>
  <g clip-path="url(#abdclip)" stroke="#6d625d" stroke-width="1.8">
    <line x1="33.5" y1="28" x2="31" y2="13"/>
    <line x1="37.5" y1="29" x2="35" y2="14"/>
    <line x1="41.5" y1="30" x2="39" y2="14"/>
    <line x1="45.5" y1="30" x2="43" y2="15"/>
  </g>
  <ellipse cx="46.3" cy="22.3" rx="2.2" ry="3.2" fill="#f4e4c6" fill-opacity="0.9"/>
  <path d="M13,22 C13,15.5 16.5,12.8 22,12.8 C27.5,12.8 30.5,16 30.5,20 C30.5,24.5 27,27.3 21.5,27.3 C16,27.3 13,25.5 13,22 Z" fill="url(#thg)"/>
  <path d="M12.5,21.5 L29,18.2" stroke="#fff" stroke-width="0.9" stroke-opacity="0.7"/>
  <ellipse cx="30" cy="17.5" rx="1.6" ry="1.3" fill="#fff" fill-opacity="0.85"/>
  <ellipse cx="10" cy="23.2" rx="4" ry="6.4" fill="#ebc383"/>
  <ellipse cx="10" cy="22.8" rx="2.1" ry="3.6" fill="#4d4848"/>
  <path d="M7.5,19.5 L0.5,24.5 M7.8,18.6 L1.8,16.6" stroke="#5a5555" stroke-width="0.7" fill="none"/>
</g>
<g transform="translate(393,296)">
  <path d="M21,15 C27,7 36,2 43.5,0.3 C46.2,0 46.4,2.6 44.2,4.2 C38,9 32,13 28.5,16.5 Z" fill="#fbfbfb" fill-opacity="0.75" stroke="#bfb7b1" stroke-width="0.6"/>
  <path d="M26,16.5 C34,12.5 43,10.5 49.5,11.2 C52,11.6 51.6,15 48.8,15.6 C42,16.8 35,17.5 29,18.8 Z" fill="#fbfbfb" fill-opacity="0.75" stroke="#bfb7b1" stroke-width="0.6"/>
  <path d="M24,13 L40,3.5 M29,15 L44,12.5" stroke="#d0c8c2" stroke-width="0.4" fill="none"/>
  <g stroke="#5c5555" stroke-width="1.9" fill="none" stroke-linecap="round">
    <path d="M13.5,26 L10.5,32.5 L8.8,35.8"/>
    <path d="M22.5,25.5 L21,34.5 L20.2,38.6"/>
    <path d="M30.5,23.5 L35,32.5 L38.8,36.8"/>
  </g>
  <g stroke="#d9935a" stroke-width="1.2" stroke-linecap="round"><path d="M8.6,36 L7.6,37"/><path d="M20.1,38.8 L19.8,39.6"/><path d="M39,37 L40,37.6"/></g>
  <ellipse cx="38" cy="20.6" rx="10.2" ry="6.8" transform="rotate(8 38 20.6)" fill="#ecc07c"/>
  <g clip-path="url(#abdclip)" stroke="#6d625d" stroke-width="1.8">
    <line x1="33.5" y1="28" x2="31" y2="13"/>
    <line x1="37.5" y1="29" x2="35" y2="14"/>
    <line x1="41.5" y1="30" x2="39" y2="14"/>
    <line x1="45.5" y1="30" x2="43" y2="15"/>
  </g>
  <ellipse cx="46.3" cy="22.3" rx="2.2" ry="3.2" fill="#f4e4c6" fill-opacity="0.9"/>
  <path d="M13,22 C13,15.5 16.5,12.8 22,12.8 C27.5,12.8 30.5,16 30.5,20 C30.5,24.5 27,27.3 21.5,27.3 C16,27.3 13,25.5 13,22 Z" fill="url(#thg)"/>
  <path d="M12.5,21.5 L29,18.2" stroke="#fff" stroke-width="0.9" stroke-opacity="0.7"/>
  <ellipse cx="30" cy="17.5" rx="1.6" ry="1.3" fill="#fff" fill-opacity="0.85"/>
  <ellipse cx="10" cy="23.2" rx="4" ry="6.4" fill="#ebc383"/>
  <ellipse cx="10" cy="22.8" rx="2.1" ry="3.6" fill="#4d4848"/>
  <path d="M7.5,19.5 L0.5,24.5 M7.8,18.6 L1.8,16.6" stroke="#5a5555" stroke-width="0.7" fill="none"/>
</g>
<g transform="translate(318.3,195.2) rotate(43)"><rect x="0" y="-1.8" width="13" height="3.6" fill="#a8dcb0" stroke="#2f6a44" stroke-width="0.7"/><rect x="5" y="-1.2" width="6" height="2.4" fill="#5cbf6a"/><line x1="-2.8" y1="0" x2="0" y2="0" stroke="#2f6a44" stroke-width="1.1"/><line x1="-2.8" y1="-2.8" x2="-2.8" y2="2.8" stroke="#2f6a44" stroke-width="1.1"/><line x1="0" y1="-2.6" x2="0" y2="2.6" stroke="#2f6a44" stroke-width="0.9"/><line x1="13" y1="0" x2="25" y2="0" stroke="#3d6a55" stroke-width="0.7"/></g>
<path d="M331,221.5 Q340,222.8 348,218.5" stroke="#d8343c" stroke-width="1.1" fill="none"/>
<path d="M352,214.5 Q356,213.8 355.2,218 Q355.5,221.5 361,222 L368,223.5" stroke="#d0401e" stroke-width="1.1" fill="none"/>
<ellipse cx="350" cy="217" rx="2.4" ry="2.2" fill="#e0607a" fill-opacity="0.85"/>
<text x="1.2" y="249.2" font-size="12.3" text-anchor="start" fill="#2c2727" >Newly emerged bees</text>
<text x="335.8" y="250.8" font-size="12.1" text-anchor="middle" fill="#2c2727" >Infection</text>
<line x1="15.9" y1="263.1" x2="522.0" y2="263.1" stroke="#4a62ae" stroke-width="1.5" />
<path d="M520.5,259.6 L529.6,262.9 L520.5,266.2 L522.5,262.9 Z" fill="#4a62ae"/>
<line x1="39.7" y1="252.8" x2="39.7" y2="262.9" stroke="#111" stroke-width="1" />
<line x1="80.1" y1="262.9" x2="80.1" y2="277.2" stroke="#111" stroke-width="1" />
<line x1="335.6" y1="253.1" x2="335.6" y2="262.9" stroke="#111" stroke-width="1" />
<line x1="317.5" y1="262.9" x2="317.5" y2="279.8" stroke="#111" stroke-width="1" />
<line x1="447.6" y1="262.9" x2="447.6" y2="279.6" stroke="#111" stroke-width="1" />
<circle cx="39.7" cy="262.9" r="1.5" fill="#111" stroke="none" stroke-width="0"/>
<circle cx="80.1" cy="262.9" r="1.5" fill="#111" stroke="none" stroke-width="0"/>
<circle cx="335.6" cy="262.9" r="1.5" fill="#111" stroke="none" stroke-width="0"/>
<circle cx="317.5" cy="262.9" r="1.5" fill="#111" stroke="none" stroke-width="0"/>
<circle cx="447.6" cy="262.9" r="1.5" fill="#111" stroke="none" stroke-width="0"/>
<line x1="317.5" y1="282.3" x2="317.5" y2="358.0" stroke="#4a62ae" stroke-width="1.5" stroke-dasharray="3.4 2.7"/>
<path d="M314.8,357 L317.5,365 L320.2,357 L317.5,359.3 Z" fill="#4a62ae"/>
<line x1="447.6" y1="282.3" x2="447.6" y2="358.0" stroke="#4a62ae" stroke-width="1.5" stroke-dasharray="3.4 2.7"/>
<path d="M444.9,357 L447.6,365 L450.3,357 L447.6,359.3 Z" fill="#4a62ae"/>
<text x="8.9" y="279.6" font-size="12.3" text-anchor="start" fill="#2c2727" >Day0</text>
<text x="49.2" y="289.9" font-size="12.3" text-anchor="start" fill="#2c2727" >Day1</text>
<text x="83.3" y="289.9" font-size="12.3" text-anchor="start" fill="#2c2727" >Bacteria</text>
<text x="83.3" y="301.5" font-size="12.3" text-anchor="start" fill="#2c2727" >colonization</text>
<text x="149.4" y="296.5" font-size="12.3" text-anchor="start" fill="#2c2727" >&amp;</text>
<text x="160.6" y="289.9" font-size="12.3" text-anchor="start" fill="#2c2727" >SCFAs</text>
<text x="160.6" y="301.5" font-size="12.3" text-anchor="start" fill="#2c2727" >supplement</text>
<rect x="85.3" y="306.6" width="13.2" height="13.2" fill="#7aa0d8" stroke="#4f7cc4" stroke-width="1" />
<text x="103.8" y="317.6" font-size="12.3" text-anchor="start" fill="#2c2727" >GF</text>
<rect x="85.3" y="323.3" width="13.2" height="13.2" fill="#e0666a" stroke="#c4474b" stroke-width="1" />
<text x="103.8" y="334.3" font-size="12.3" text-anchor="start" fill="#2c2727" >CV</text>
<rect x="85.3" y="341.1" width="13.2" height="13.2" fill="#f3d893" stroke="#c9aa57" stroke-width="1" />
<text x="103.8" y="352.1" font-size="12.3" text-anchor="start" fill="#2c2727" >CL</text>
<rect x="163.0" y="306.6" width="13.2" height="13.2" fill="#f3958f" stroke="#ee8a84" stroke-width="1" />
<text x="181.6" y="317.6" font-size="12.3" text-anchor="start" fill="#2c2727" >Butyrate</text>
<text x="283.6" y="289.9" font-size="12.3" text-anchor="start" fill="#2c2727" >Day5</text>
<text x="425.3" y="289.9" font-size="12.3" text-anchor="start" fill="#2c2727" >3hr</text>
<text x="324.2" y="308.1" font-size="12.3" text-anchor="start" fill="#2c2727" >Dissection</text>
<text x="352.8" y="319.2" font-size="12.3" text-anchor="middle" fill="#2c2727" >&amp;</text>
<text x="324.2" y="330.7" font-size="12.3" text-anchor="start" fill="#2c2727" >Gene</text>
<text x="324.2" y="344.9" font-size="12.3" text-anchor="start" fill="#2c2727" >expression</text>
<text x="456.3" y="308.1" font-size="12.3" text-anchor="start" fill="#2c2727" >Dissection</text>
<text x="484.9" y="319.2" font-size="12.3" text-anchor="middle" fill="#2c2727" >&amp;</text>
<text x="456.3" y="330.7" font-size="12.3" text-anchor="start" fill="#2c2727" >Gene</text>
<text x="456.3" y="344.9" font-size="12.3" text-anchor="start" fill="#2c2727" >expression</text>
<line x1="286.1" y1="297.0" x2="286.1" y2="338.0" stroke="#2a2a2a" stroke-width="1.2" stroke-dasharray="3 2"/>
<g stroke="#333" stroke-width="0.9" fill="none"><path d="M283.1,339.5 L288.6,347.5 M289.1,339.5 L283.6,347.5"/><circle cx="282.9" cy="349.2" r="1.7"/><circle cx="289.3" cy="349.2" r="1.7"/></g>
<line x1="419.6" y1="297.0" x2="419.6" y2="338.0" stroke="#2a2a2a" stroke-width="1.2" stroke-dasharray="3 2"/>
<g stroke="#333" stroke-width="0.9" fill="none"><path d="M416.6,339.5 L422.1,347.5 M422.6,339.5 L417.1,347.5"/><circle cx="416.4" cy="349.2" r="1.7"/><circle cx="422.8" cy="349.2" r="1.7"/></g>
<rect x="21" y="367.3" width="305" height="353" fill="none" stroke="#6e6e6e" stroke-width="1.3" stroke-dasharray="3.6 2.4" rx="1"/>
<rect x="333.4" y="366.8" width="336.4" height="353.3" fill="none" stroke="#6e6e6e" stroke-width="1.3" stroke-dasharray="3.6 2.4" rx="1"/>
<text x="112.3" y="380.2" font-size="12.2" text-anchor="middle" font-style="italic" fill="#1a1a1a" >Apidaecin</text>
<line x1="63.2" y1="399.6" x2="63.2" y2="534.8" stroke="#6e6e6e" stroke-width="1.2" />
<line x1="62.6" y1="534.8" x2="175.3" y2="534.8" stroke="#6e6e6e" stroke-width="1.2" />
<line x1="60.2" y1="534.8" x2="63.2" y2="534.8" stroke="#6e6e6e" stroke-width="1" />
<text x="60.2" y="538.9" font-size="11.5" text-anchor="end" fill="#1a1a1a" >0</text>
<line x1="60.2" y1="501.6" x2="63.2" y2="501.6" stroke="#6e6e6e" stroke-width="1" />
<text x="60.2" y="505.7" font-size="11.5" text-anchor="end" fill="#1a1a1a" >3</text>
<line x1="60.2" y1="467.3" x2="63.2" y2="467.3" stroke="#6e6e6e" stroke-width="1" />
<text x="60.2" y="471.4" font-size="11.5" text-anchor="end" fill="#1a1a1a" >6</text>
<line x1="60.2" y1="433.9" x2="63.2" y2="433.9" stroke="#6e6e6e" stroke-width="1" />
<text x="60.2" y="438.0" font-size="11.5" text-anchor="end" fill="#1a1a1a" >9</text>
<line x1="60.2" y1="399.6" x2="63.2" y2="399.6" stroke="#6e6e6e" stroke-width="1" />
<text x="60.2" y="403.7" font-size="11.5" text-anchor="end" fill="#1a1a1a" >12</text>
<text transform="translate(44.2,467.6) rotate(-90)" font-size="15.6" text-anchor="middle" fill="#1a1a1a">Relative expression</text>
<rect x="71.0" y="522.2" width="18.3" height="12.6" fill="#7aa0d8" stroke="#4f7cc4" stroke-width="1" />
<rect x="96.4" y="506.3" width="18.3" height="28.5" fill="#e0676b" stroke="#c4474b" stroke-width="1" />
<rect x="122.0" y="494.2" width="18.3" height="40.6" fill="#f3d893" stroke="#c9aa57" stroke-width="1" />
<rect x="147.8" y="485.8" width="18.3" height="49.0" fill="#f3958f" stroke="#ee7d77" stroke-width="1" />
<line x1="80.2" y1="519.6" x2="80.2" y2="525.2" stroke="#333" stroke-width="0.9" />
<line x1="77.2" y1="519.6" x2="83.2" y2="519.6" stroke="#333" stroke-width="0.9" />
<line x1="77.2" y1="525.2" x2="83.2" y2="525.2" stroke="#333" stroke-width="0.9" />
<circle cx="80.3" cy="506.3" r="1.4" fill="#fff" stroke="#222" stroke-width="0.9"/>
<circle cx="75.6" cy="518.0" r="1.4" fill="#fff" stroke="#222" stroke-width="0.9"/>
<circle cx="82.6" cy="520.3" r="1.4" fill="#fff" stroke="#222" stroke-width="0.9"/>
<circle cx="77.2" cy="525.0" r="1.4" fill="#fff" stroke="#222" stroke-width="0.9"/>
<circle cx="84.2" cy="526.2" r="1.4" fill="#fff" stroke="#222" stroke-width="0.9"/>
<circle cx="81.2" cy="528.5" r="1.4" fill="#fff" stroke="#222" stroke-width="0.9"/>
<circle cx="78.4" cy="522.7" r="1.4" fill="#fff" stroke="#222" stroke-width="0.9"/>
<circle cx="83.5" cy="530.4" r="1.4" fill="#fff" stroke="#222" stroke-width="0.9"/>
<line x1="105.6" y1="499.5" x2="105.6" y2="513.3" stroke="#333" stroke-width="0.9" />
<line x1="102.6" y1="499.5" x2="108.6" y2="499.5" stroke="#333" stroke-width="0.9" />
<line x1="102.6" y1="513.3" x2="108.6" y2="513.3" stroke="#333" stroke-width="0.9" />
<circle cx="104.8" cy="465.9" r="1.4" fill="#fff" stroke="#222" stroke-width="0.9"/>
<circle cx="109.9" cy="495.8" r="1.4" fill="#fff" stroke="#222" stroke-width="0.9"/>
<circle cx="102.2" cy="505.2" r="1.4" fill="#fff" stroke="#222" stroke-width="0.9"/>
<circle cx="106.9" cy="507.5" r="1.4" fill="#fff" stroke="#222" stroke-width="0.9"/>
<circle cx="102.9" cy="512.2" r="1.4" fill="#fff" stroke="#222" stroke-width="0.9"/>
<circle cx="104.6" cy="515.7" r="1.4" fill="#fff" stroke="#222" stroke-width="0.9"/>
<circle cx="106.4" cy="520.3" r="1.4" fill="#fff" stroke="#222" stroke-width="0.9"/>
<circle cx="106.0" cy="528.5" r="1.4" fill="#fff" stroke="#222" stroke-width="0.9"/>
<line x1="131.2" y1="484.6" x2="131.2" y2="504.7" stroke="#333" stroke-width="0.9" />
<line x1="128.2" y1="484.6" x2="134.2" y2="484.6" stroke="#333" stroke-width="0.9" />
<line x1="128.2" y1="504.7" x2="134.2" y2="504.7" stroke="#333" stroke-width="0.9" />
<circle cx="130.5" cy="432.7" r="1.4" fill="#fff" stroke="#222" stroke-width="0.9"/>
<circle cx="129.3" cy="483.7" r="1.4" fill="#fff" stroke="#222" stroke-width="0.9"/>
<circle cx="129.8" cy="492.3" r="1.4" fill="#fff" stroke="#222" stroke-width="0.9"/>
<circle cx="127.5" cy="500.5" r="1.4" fill="#fff" stroke="#222" stroke-width="0.9"/>
<circle cx="127.9" cy="506.3" r="1.4" fill="#fff" stroke="#222" stroke-width="0.9"/>
<circle cx="127.0" cy="512.2" r="1.4" fill="#fff" stroke="#222" stroke-width="0.9"/>
<circle cx="135.2" cy="519.2" r="1.4" fill="#fff" stroke="#222" stroke-width="0.9"/>
<circle cx="131.7" cy="504.0" r="1.4" fill="#fff" stroke="#222" stroke-width="0.9"/>
<line x1="156.9" y1="471.3" x2="156.9" y2="500.0" stroke="#333" stroke-width="0.9" />
<line x1="153.9" y1="471.3" x2="159.9" y2="471.3" stroke="#333" stroke-width="0.9" />
<line x1="153.9" y1="500.0" x2="159.9" y2="500.0" stroke="#333" stroke-width="0.9" />
<circle cx="156.2" cy="406.3" r="1.4" fill="#fff" stroke="#222" stroke-width="0.9"/>
<circle cx="158.5" cy="447.9" r="1.4" fill="#fff" stroke="#222" stroke-width="0.9"/>
<circle cx="153.8" cy="469.6" r="1.4" fill="#fff" stroke="#222" stroke-width="0.9"/>
<circle cx="157.4" cy="500.0" r="1.4" fill="#fff" stroke="#222" stroke-width="0.9"/>
<circle cx="156.7" cy="506.3" r="1.4" fill="#fff" stroke="#222" stroke-width="0.9"/>
<circle cx="160.9" cy="511.0" r="1.4" fill="#fff" stroke="#222" stroke-width="0.9"/>
<circle cx="158.3" cy="518.0" r="1.4" fill="#fff" stroke="#222" stroke-width="0.9"/>
<circle cx="159.0" cy="526.6" r="1.4" fill="#fff" stroke="#222" stroke-width="0.9"/>
<line x1="80.3" y1="398.9" x2="156.6" y2="398.9" stroke="#6e6e6e" stroke-width="1" />
<text x="118.4" y="401.1" font-size="12.5" text-anchor="middle" fill="#1a1a1a" >*</text>
<line x1="80.3" y1="424.6" x2="131.7" y2="424.6" stroke="#6e6e6e" stroke-width="1" />
<text x="106.0" y="426.8" font-size="12.5" text-anchor="middle" fill="#1a1a1a" >**</text>
<line x1="80.3" y1="458.4" x2="105.7" y2="458.4" stroke="#6e6e6e" stroke-width="1" />
<text x="93.0" y="460.6" font-size="12.5" text-anchor="middle" fill="#1a1a1a" >*</text>
<text x="257.6" y="380.2" font-size="12.2" text-anchor="middle" font-style="italic" fill="#1a1a1a" >Abaecin</text>
<line x1="208.5" y1="401.2" x2="208.5" y2="534.4" stroke="#6e6e6e" stroke-width="1.2" />
<line x1="207.9" y1="534.4" x2="320.7" y2="534.4" stroke="#6e6e6e" stroke-width="1.2" />
<line x1="205.5" y1="534.4" x2="208.5" y2="534.4" stroke="#6e6e6e" stroke-width="1" />
<text x="205.5" y="538.5" font-size="11.5" text-anchor="end" fill="#1a1a1a" >0</text>
<line x1="205.5" y1="501.2" x2="208.5" y2="501.2" stroke="#6e6e6e" stroke-width="1" />
<text x="205.5" y="505.3" font-size="11.5" text-anchor="end" fill="#1a1a1a" >3</text>
<line x1="205.5" y1="467.8" x2="208.5" y2="467.8" stroke="#6e6e6e" stroke-width="1" />
<text x="205.5" y="471.9" font-size="11.5" text-anchor="end" fill="#1a1a1a" >6</text>
<line x1="205.5" y1="434.4" x2="208.5" y2="434.4" stroke="#6e6e6e" stroke-width="1" />
<text x="205.5" y="438.5" font-size="11.5" text-anchor="end" fill="#1a1a1a" >9</text>
<line x1="205.5" y1="401.2" x2="208.5" y2="401.2" stroke="#6e6e6e" stroke-width="1" />
<text x="205.5" y="405.3" font-size="11.5" text-anchor="end" fill="#1a1a1a" >12</text>
<text transform="translate(191.3,467.1) rotate(-90)" font-size="15.6" text-anchor="middle" fill="#1a1a1a">Relative expression</text>
<rect x="218.0" y="522.0" width="17.8" height="12.4" fill="#7aa0d8" stroke="#4f7cc4" stroke-width="1" />
<rect x="243.5" y="488.8" width="17.8" height="45.6" fill="#e0676b" stroke="#c4474b" stroke-width="1" />
<rect x="269.1" y="490.4" width="17.8" height="44.0" fill="#f3d893" stroke="#c9aa57" stroke-width="1" />
<rect x="294.9" y="509.1" width="17.8" height="25.3" fill="#f3958f" stroke="#ee7d77" stroke-width="1" />
<line x1="226.9" y1="519.5" x2="226.9" y2="524.4" stroke="#333" stroke-width="0.9" />
<line x1="223.9" y1="519.5" x2="229.9" y2="519.5" stroke="#333" stroke-width="0.9" />
<line x1="223.9" y1="524.4" x2="229.9" y2="524.4" stroke="#333" stroke-width="0.9" />
<circle cx="223.7" cy="505.6" r="1.4" fill="#fff" stroke="#222" stroke-width="0.9"/>
<circle cx="223.3" cy="519.2" r="1.4" fill="#fff" stroke="#222" stroke-width="0.9"/>
<circle cx="226.1" cy="520.3" r="1.4" fill="#fff" stroke="#222" stroke-width="0.9"/>
<circle cx="231.2" cy="522.0" r="1.4" fill="#fff" stroke="#222" stroke-width="0.9"/>
<circle cx="227.9" cy="523.8" r="1.4" fill="#fff" stroke="#222" stroke-width="0.9"/>
<circle cx="230.3" cy="527.3" r="1.4" fill="#fff" stroke="#222" stroke-width="0.9"/>
<circle cx="227.2" cy="527.8" r="1.4" fill="#fff" stroke="#222" stroke-width="0.9"/>
<circle cx="224.9" cy="525.7" r="1.4" fill="#fff" stroke="#222" stroke-width="0.9"/>
<line x1="252.4" y1="474.8" x2="252.4" y2="502.8" stroke="#333" stroke-width="0.9" />
<line x1="249.4" y1="474.8" x2="255.4" y2="474.8" stroke="#333" stroke-width="0.9" />
<line x1="249.4" y1="502.8" x2="255.4" y2="502.8" stroke="#333" stroke-width="0.9" />
<circle cx="256.0" cy="414.1" r="1.4" fill="#fff" stroke="#222" stroke-width="0.9"/>
<circle cx="252.9" cy="452.8" r="1.4" fill="#fff" stroke="#222" stroke-width="0.9"/>
<circle cx="252.9" cy="502.3" r="1.4" fill="#fff" stroke="#222" stroke-width="0.9"/>
<circle cx="250.1" cy="506.3" r="1.4" fill="#fff" stroke="#222" stroke-width="0.9"/>
<circle cx="249.4" cy="519.2" r="1.4" fill="#fff" stroke="#222" stroke-width="0.9"/>
<circle cx="251.8" cy="520.3" r="1.4" fill="#fff" stroke="#222" stroke-width="0.9"/>
<circle cx="254.1" cy="521.0" r="1.4" fill="#fff" stroke="#222" stroke-width="0.9"/>
<circle cx="251.8" cy="474.8" r="1.4" fill="#fff" stroke="#222" stroke-width="0.9"/>
<line x1="278.0" y1="476.7" x2="278.0" y2="503.5" stroke="#333" stroke-width="0.9" />
<line x1="275.0" y1="476.7" x2="281.0" y2="476.7" stroke="#333" stroke-width="0.9" />
<line x1="275.0" y1="503.5" x2="281.0" y2="503.5" stroke="#333" stroke-width="0.9" />
<circle cx="279.8" cy="408.7" r="1.4" fill="#fff" stroke="#222" stroke-width="0.9"/>
<circle cx="281.4" cy="465.0" r="1.4" fill="#fff" stroke="#222" stroke-width="0.9"/>
<circle cx="280.5" cy="486.5" r="1.4" fill="#fff" stroke="#222" stroke-width="0.9"/>
<circle cx="276.8" cy="497.0" r="1.4" fill="#fff" stroke="#222" stroke-width="0.9"/>
<circle cx="274.0" cy="511.5" r="1.4" fill="#fff" stroke="#222" stroke-width="0.9"/>
<circle cx="277.5" cy="515.7" r="1.4" fill="#fff" stroke="#222" stroke-width="0.9"/>
<circle cx="275.6" cy="522.2" r="1.4" fill="#fff" stroke="#222" stroke-width="0.9"/>
<circle cx="278.6" cy="502.8" r="1.4" fill="#fff" stroke="#222" stroke-width="0.9"/>
<line x1="303.8" y1="503.5" x2="303.8" y2="514.5" stroke="#333" stroke-width="0.9" />
<line x1="300.8" y1="503.5" x2="306.8" y2="503.5" stroke="#333" stroke-width="0.9" />
<line x1="300.8" y1="514.5" x2="306.8" y2="514.5" stroke="#333" stroke-width="0.9" />
<circle cx="301.3" cy="492.3" r="1.4" fill="#fff" stroke="#222" stroke-width="0.9"/>
<circle cx="303.8" cy="490.4" r="1.4" fill="#fff" stroke="#222" stroke-width="0.9"/>
<circle cx="302.4" cy="514.5" r="1.4" fill="#fff" stroke="#222" stroke-width="0.9"/>
<circle cx="305.5" cy="515.7" r="1.4" fill="#fff" stroke="#222" stroke-width="0.9"/>
<circle cx="301.5" cy="519.2" r="1.4" fill="#fff" stroke="#222" stroke-width="0.9"/>
<circle cx="299.2" cy="522.0" r="1.4" fill="#fff" stroke="#222" stroke-width="0.9"/>
<circle cx="298.9" cy="524.5" r="1.4" fill="#fff" stroke="#222" stroke-width="0.9"/>
<circle cx="303.1" cy="507.5" r="1.4" fill="#fff" stroke="#222" stroke-width="0.9"/>
<line x1="226.0" y1="390.7" x2="303.6" y2="390.7" stroke="#6e6e6e" stroke-width="1" />
<text x="264.8" y="392.9" font-size="12.5" text-anchor="middle" fill="#1a1a1a" >*</text>
<line x1="226.0" y1="399.3" x2="277.9" y2="399.3" stroke="#6e6e6e" stroke-width="1" />
<text x="251.9" y="401.5" font-size="12.5" text-anchor="middle" fill="#1a1a1a" >**</text>
<line x1="226.0" y1="409.4" x2="252.2" y2="409.4" stroke="#6e6e6e" stroke-width="1" />
<text x="239.1" y="411.6" font-size="12.5" text-anchor="middle" fill="#1a1a1a" >**</text>
<text x="113.4" y="551.0" font-size="12.2" text-anchor="middle" font-style="italic" fill="#1a1a1a" >Defensin-1</text>
<line x1="62.0" y1="576.2" x2="62.0" y2="713.3" stroke="#6e6e6e" stroke-width="1.2" />
<line x1="61.4" y1="713.3" x2="174.0" y2="713.3" stroke="#6e6e6e" stroke-width="1.2" />
<line x1="59.0" y1="713.3" x2="62.0" y2="713.3" stroke="#6e6e6e" stroke-width="1" />
<text x="59.0" y="717.4" font-size="11.5" text-anchor="end" fill="#1a1a1a" >0</text>
<line x1="59.0" y1="674.3" x2="62.0" y2="674.3" stroke="#6e6e6e" stroke-width="1" />
<text x="59.0" y="678.4" font-size="11.5" text-anchor="end" fill="#1a1a1a" >2</text>
<line x1="59.0" y1="635.3" x2="62.0" y2="635.3" stroke="#6e6e6e" stroke-width="1" />
<text x="59.0" y="639.4" font-size="11.5" text-anchor="end" fill="#1a1a1a" >4</text>
<line x1="59.0" y1="596.5" x2="62.0" y2="596.5" stroke="#6e6e6e" stroke-width="1" />
<text x="59.0" y="600.6" font-size="11.5" text-anchor="end" fill="#1a1a1a" >6</text>
<text transform="translate(44.2,646.0) rotate(-90)" font-size="15.6" text-anchor="middle" fill="#1a1a1a">Relative expression</text>
<rect x="70.4" y="684.1" width="19.0" height="29.2" fill="#7aa0d8" stroke="#4f7cc4" stroke-width="1" />
<rect x="96.4" y="677.1" width="19.0" height="36.2" fill="#e0676b" stroke="#c4474b" stroke-width="1" />
<rect x="122.6" y="661.0" width="19.0" height="52.3" fill="#f3d893" stroke="#c9aa57" stroke-width="1" />
<rect x="149.0" y="700.7" width="19.0" height="12.6" fill="#f3958f" stroke="#ee7d77" stroke-width="1" />
<line x1="79.9" y1="674.3" x2="79.9" y2="694.9" stroke="#333" stroke-width="0.9" />
<line x1="76.9" y1="674.3" x2="82.9" y2="674.3" stroke="#333" stroke-width="0.9" />
<line x1="76.9" y1="694.9" x2="82.9" y2="694.9" stroke="#333" stroke-width="0.9" />
<circle cx="81.9" cy="619.4" r="1.4" fill="#fff" stroke="#222" stroke-width="0.9"/>
<circle cx="81.9" cy="668.0" r="1.4" fill="#fff" stroke="#222" stroke-width="0.9"/>
<circle cx="80.3" cy="683.0" r="1.4" fill="#fff" stroke="#222" stroke-width="0.9"/>
<circle cx="77.9" cy="695.3" r="1.4" fill="#fff" stroke="#222" stroke-width="0.9"/>
<circle cx="84.2" cy="700.0" r="1.4" fill="#fff" stroke="#222" stroke-width="0.9"/>
<circle cx="80.7" cy="704.2" r="1.4" fill="#fff" stroke="#222" stroke-width="0.9"/>
<circle cx="76.5" cy="708.2" r="1.4" fill="#fff" stroke="#222" stroke-width="0.9"/>
<circle cx="83.1" cy="696.5" r="1.4" fill="#fff" stroke="#222" stroke-width="0.9"/>
<line x1="105.9" y1="666.4" x2="105.9" y2="687.9" stroke="#333" stroke-width="0.9" />
<line x1="102.9" y1="666.4" x2="108.9" y2="666.4" stroke="#333" stroke-width="0.9" />
<line x1="102.9" y1="687.9" x2="108.9" y2="687.9" stroke="#333" stroke-width="0.9" />
<circle cx="107.6" cy="606.6" r="1.4" fill="#fff" stroke="#222" stroke-width="0.9"/>
<circle cx="109.2" cy="666.8" r="1.4" fill="#fff" stroke="#222" stroke-width="0.9"/>
<circle cx="107.6" cy="675.5" r="1.4" fill="#fff" stroke="#222" stroke-width="0.9"/>
<circle cx="106.4" cy="684.8" r="1.4" fill="#fff" stroke="#222" stroke-width="0.9"/>
<circle cx="104.6" cy="687.6" r="1.4" fill="#fff" stroke="#222" stroke-width="0.9"/>
<circle cx="101.3" cy="705.8" r="1.4" fill="#fff" stroke="#222" stroke-width="0.9"/>
<circle cx="109.9" cy="707.7" r="1.4" fill="#fff" stroke="#222" stroke-width="0.9"/>
<circle cx="106.4" cy="680.2" r="1.4" fill="#fff" stroke="#222" stroke-width="0.9"/>
<line x1="132.1" y1="643.5" x2="132.1" y2="678.5" stroke="#333" stroke-width="0.9" />
<line x1="129.1" y1="643.5" x2="135.1" y2="643.5" stroke="#333" stroke-width="0.9" />
<line x1="129.1" y1="678.5" x2="135.1" y2="678.5" stroke="#333" stroke-width="0.9" />
<circle cx="135.2" cy="581.3" r="1.4" fill="#fff" stroke="#222" stroke-width="0.9"/>
<circle cx="129.3" cy="592.6" r="1.4" fill="#fff" stroke="#222" stroke-width="0.9"/>
<circle cx="132.1" cy="645.8" r="1.4" fill="#fff" stroke="#222" stroke-width="0.9"/>
<circle cx="129.8" cy="683.7" r="1.4" fill="#fff" stroke="#222" stroke-width="0.9"/>
<circle cx="134.5" cy="693.0" r="1.4" fill="#fff" stroke="#222" stroke-width="0.9"/>
<circle cx="131.0" cy="694.2" r="1.4" fill="#fff" stroke="#222" stroke-width="0.9"/>
<circle cx="128.6" cy="700.0" r="1.4" fill="#fff" stroke="#222" stroke-width="0.9"/>
<circle cx="131.7" cy="701.2" r="1.4" fill="#fff" stroke="#222" stroke-width="0.9"/>
<line x1="158.5" y1="697.7" x2="158.5" y2="703.5" stroke="#333" stroke-width="0.9" />
<line x1="155.5" y1="697.7" x2="161.5" y2="697.7" stroke="#333" stroke-width="0.9" />
<line x1="155.5" y1="703.5" x2="161.5" y2="703.5" stroke="#333" stroke-width="0.9" />
<circle cx="156.2" cy="688.8" r="1.4" fill="#fff" stroke="#222" stroke-width="0.9"/>
<circle cx="155.9" cy="696.5" r="1.4" fill="#fff" stroke="#222" stroke-width="0.9"/>
<circle cx="160.2" cy="697.7" r="1.4" fill="#fff" stroke="#222" stroke-width="0.9"/>
<circle cx="157.8" cy="700.0" r="1.4" fill="#fff" stroke="#222" stroke-width="0.9"/>
<circle cx="162.0" cy="701.2" r="1.4" fill="#fff" stroke="#222" stroke-width="0.9"/>
<circle cx="155.0" cy="704.2" r="1.4" fill="#fff" stroke="#222" stroke-width="0.9"/>
<circle cx="159.7" cy="706.3" r="1.4" fill="#fff" stroke="#222" stroke-width="0.9"/>
<circle cx="157.8" cy="703.5" r="1.4" fill="#fff" stroke="#222" stroke-width="0.9"/>
<line x1="80.3" y1="563.4" x2="158.5" y2="563.4" stroke="#6e6e6e" stroke-width="1" />
<text x="119.4" y="561.2" font-size="12" text-anchor="middle" fill="#1a1a1a" >ns</text>
<line x1="80.3" y1="576.7" x2="131.7" y2="576.7" stroke="#6e6e6e" stroke-width="1" />
<text x="106.0" y="574.5" font-size="12" text-anchor="middle" fill="#1a1a1a" >ns</text>
<line x1="80.3" y1="600.7" x2="105.7" y2="600.7" stroke="#6e6e6e" stroke-width="1" />
<text x="93.0" y="598.5" font-size="12" text-anchor="middle" fill="#1a1a1a" >ns</text>
<text x="256.0" y="550.5" font-size="12.2" text-anchor="middle" font-style="italic" fill="#1a1a1a" >Hymenoptaecin</text>
<line x1="210.9" y1="582.0" x2="210.9" y2="712.9" stroke="#6e6e6e" stroke-width="1.2" />
<line x1="210.3" y1="712.9" x2="321.0" y2="712.9" stroke="#6e6e6e" stroke-width="1.2" />
<line x1="207.9" y1="712.9" x2="210.9" y2="712.9" stroke="#6e6e6e" stroke-width="1" />
<text x="207.9" y="717.0" font-size="11.5" text-anchor="end" fill="#1a1a1a" >0</text>
<line x1="207.9" y1="680.2" x2="210.9" y2="680.2" stroke="#6e6e6e" stroke-width="1" />
<text x="207.9" y="684.3" font-size="11.5" text-anchor="end" fill="#1a1a1a" >3</text>
<line x1="207.9" y1="647.5" x2="210.9" y2="647.5" stroke="#6e6e6e" stroke-width="1" />
<text x="207.9" y="651.6" font-size="11.5" text-anchor="end" fill="#1a1a1a" >6</text>
<line x1="207.9" y1="614.7" x2="210.9" y2="614.7" stroke="#6e6e6e" stroke-width="1" />
<text x="207.9" y="618.8" font-size="11.5" text-anchor="end" fill="#1a1a1a" >9</text>
<line x1="207.9" y1="582.0" x2="210.9" y2="582.0" stroke="#6e6e6e" stroke-width="1" />
<text x="207.9" y="586.1" font-size="11.5" text-anchor="end" fill="#1a1a1a" >12</text>
<text transform="translate(192.0,643.4) rotate(-90)" font-size="15.6" text-anchor="middle" fill="#1a1a1a">Relative expression</text>
<rect x="217.4" y="700.0" width="18.0" height="12.9" fill="#7aa0d8" stroke="#4f7cc4" stroke-width="1" />
<rect x="242.9" y="679.2" width="18.0" height="33.7" fill="#e0676b" stroke="#c4474b" stroke-width="1" />
<rect x="268.4" y="666.1" width="18.0" height="46.8" fill="#f3d893" stroke="#c9aa57" stroke-width="1" />
<rect x="293.9" y="707.0" width="18.0" height="5.9" fill="#f3958f" stroke="#ee7d77" stroke-width="1" />
<line x1="226.4" y1="696.5" x2="226.4" y2="703.1" stroke="#333" stroke-width="0.9" />
<line x1="223.4" y1="696.5" x2="229.4" y2="696.5" stroke="#333" stroke-width="0.9" />
<line x1="223.4" y1="703.1" x2="229.4" y2="703.1" stroke="#333" stroke-width="0.9" />
<circle cx="230.0" cy="681.3" r="1.4" fill="#fff" stroke="#222" stroke-width="0.9"/>
<circle cx="224.2" cy="695.3" r="1.4" fill="#fff" stroke="#222" stroke-width="0.9"/>
<circle cx="229.6" cy="696.5" r="1.4" fill="#fff" stroke="#222" stroke-width="0.9"/>
<circle cx="231.2" cy="703.0" r="1.4" fill="#fff" stroke="#222" stroke-width="0.9"/>
<circle cx="225.6" cy="706.3" r="1.4" fill="#fff" stroke="#222" stroke-width="0.9"/>
<circle cx="223.3" cy="707.0" r="1.4" fill="#fff" stroke="#222" stroke-width="0.9"/>
<circle cx="227.2" cy="703.5" r="1.4" fill="#fff" stroke="#222" stroke-width="0.9"/>
<circle cx="228.4" cy="701.2" r="1.4" fill="#fff" stroke="#222" stroke-width="0.9"/>
<line x1="251.9" y1="670.3" x2="251.9" y2="687.9" stroke="#333" stroke-width="0.9" />
<line x1="248.9" y1="670.3" x2="254.9" y2="670.3" stroke="#333" stroke-width="0.9" />
<line x1="248.9" y1="687.9" x2="254.9" y2="687.9" stroke="#333" stroke-width="0.9" />
<circle cx="253.6" cy="645.1" r="1.4" fill="#fff" stroke="#222" stroke-width="0.9"/>
<circle cx="256.0" cy="649.8" r="1.4" fill="#fff" stroke="#222" stroke-width="0.9"/>
<circle cx="247.6" cy="656.8" r="1.4" fill="#fff" stroke="#222" stroke-width="0.9"/>
<circle cx="253.6" cy="682.5" r="1.4" fill="#fff" stroke="#222" stroke-width="0.9"/>
<circle cx="252.2" cy="693.0" r="1.4" fill="#fff" stroke="#222" stroke-width="0.9"/>
<circle cx="253.6" cy="700.0" r="1.4" fill="#fff" stroke="#222" stroke-width="0.9"/>
<circle cx="251.8" cy="706.5" r="1.4" fill="#fff" stroke="#222" stroke-width="0.9"/>
<circle cx="250.6" cy="688.3" r="1.4" fill="#fff" stroke="#222" stroke-width="0.9"/>
<line x1="277.4" y1="650.8" x2="277.4" y2="680.2" stroke="#333" stroke-width="0.9" />
<line x1="274.4" y1="650.8" x2="280.4" y2="650.8" stroke="#333" stroke-width="0.9" />
<line x1="274.4" y1="680.2" x2="280.4" y2="680.2" stroke="#333" stroke-width="0.9" />
<circle cx="280.5" cy="590.2" r="1.4" fill="#fff" stroke="#222" stroke-width="0.9"/>
<circle cx="273.2" cy="607.7" r="1.4" fill="#fff" stroke="#222" stroke-width="0.9"/>
<circle cx="272.8" cy="672.0" r="1.4" fill="#fff" stroke="#222" stroke-width="0.9"/>
<circle cx="279.8" cy="675.0" r="1.4" fill="#fff" stroke="#222" stroke-width="0.9"/>
<circle cx="277.0" cy="680.9" r="1.4" fill="#fff" stroke="#222" stroke-width="0.9"/>
<circle cx="279.1" cy="700.7" r="1.4" fill="#fff" stroke="#222" stroke-width="0.9"/>
<circle cx="273.5" cy="701.6" r="1.4" fill="#fff" stroke="#222" stroke-width="0.9"/>
<circle cx="281.0" cy="697.0" r="1.4" fill="#fff" stroke="#222" stroke-width="0.9"/>
<line x1="302.9" y1="705.3" x2="302.9" y2="708.5" stroke="#333" stroke-width="0.9" />
<line x1="299.9" y1="705.3" x2="305.9" y2="705.3" stroke="#333" stroke-width="0.9" />
<line x1="299.9" y1="708.5" x2="305.9" y2="708.5" stroke="#333" stroke-width="0.9" />
<circle cx="303.6" cy="692.5" r="1.4" fill="#fff" stroke="#222" stroke-width="0.9"/>
<circle cx="306.0" cy="705.8" r="1.4" fill="#fff" stroke="#222" stroke-width="0.9"/>
<circle cx="302.7" cy="708.2" r="1.4" fill="#fff" stroke="#222" stroke-width="0.9"/>
<circle cx="300.8" cy="710.5" r="1.4" fill="#fff" stroke="#222" stroke-width="0.9"/>
<circle cx="303.8" cy="709.4" r="1.4" fill="#fff" stroke="#222" stroke-width="0.9"/>
<circle cx="305.0" cy="707.0" r="1.4" fill="#fff" stroke="#222" stroke-width="0.9"/>
<circle cx="302.0" cy="706.3" r="1.4" fill="#fff" stroke="#222" stroke-width="0.9"/>
<circle cx="306.7" cy="704.7" r="1.4" fill="#fff" stroke="#222" stroke-width="0.9"/>
<line x1="226.1" y1="571.1" x2="303.1" y2="571.1" stroke="#6e6e6e" stroke-width="1" />
<text x="264.6" y="573.3" font-size="12.5" text-anchor="middle" fill="#1a1a1a" >*</text>
<line x1="226.1" y1="584.4" x2="277.5" y2="584.4" stroke="#6e6e6e" stroke-width="1" />
<text x="251.8" y="586.6" font-size="12.5" text-anchor="middle" fill="#1a1a1a" >*</text>
<line x1="226.1" y1="641.1" x2="251.1" y2="641.1" stroke="#6e6e6e" stroke-width="1" />
<text x="238.6" y="638.9" font-size="12" text-anchor="middle" fill="#1a1a1a" >ns</text>
<text x="432.3" y="380.5" font-size="12.2" text-anchor="middle" font-style="italic" fill="#1a1a1a" >Apidaecin</text>
<line x1="376.2" y1="399.1" x2="376.2" y2="532.6" stroke="#6e6e6e" stroke-width="1.2" />
<line x1="375.6" y1="532.6" x2="493.2" y2="532.6" stroke="#6e6e6e" stroke-width="1.2" />
<line x1="373.2" y1="532.6" x2="376.2" y2="532.6" stroke="#6e6e6e" stroke-width="1" />
<text x="373.2" y="537.0" font-size="12.4" text-anchor="end" fill="#1a1a1a" >0.0</text>
<line x1="373.2" y1="497.4" x2="376.2" y2="497.4" stroke="#6e6e6e" stroke-width="1" />
<text x="373.2" y="501.8" font-size="12.4" text-anchor="end" fill="#1a1a1a" >2.5</text>
<line x1="373.2" y1="461.9" x2="376.2" y2="461.9" stroke="#6e6e6e" stroke-width="1" />
<text x="373.2" y="466.3" font-size="12.4" text-anchor="end" fill="#1a1a1a" >5.0</text>
<line x1="373.2" y1="426.7" x2="376.2" y2="426.7" stroke="#6e6e6e" stroke-width="1" />
<text x="373.2" y="431.1" font-size="12.4" text-anchor="end" fill="#1a1a1a" >7.5</text>
<text transform="translate(353.1,467.7) rotate(-90)" font-size="15.6" text-anchor="middle" fill="#1a1a1a">Relative expression</text>
<rect x="387.3" y="516.6" width="17.7" height="16.0" fill="#7aa0d8" stroke="#4f7cc4" stroke-width="1" />
<rect x="413.4" y="481.1" width="17.7" height="51.5" fill="#e0676b" stroke="#c4474b" stroke-width="1" />
<rect x="438.1" y="448.3" width="17.7" height="84.3" fill="#f3d893" stroke="#c9aa57" stroke-width="1" />
<rect x="464.2" y="464.0" width="17.7" height="68.6" fill="#f3958f" stroke="#ee7d77" stroke-width="1" />
<line x1="396.2" y1="512.8" x2="396.2" y2="519.9" stroke="#333" stroke-width="0.9" />
<line x1="393.2" y1="512.8" x2="399.2" y2="512.8" stroke="#333" stroke-width="0.9" />
<line x1="393.2" y1="519.9" x2="399.2" y2="519.9" stroke="#333" stroke-width="0.9" />
<circle cx="394.6" cy="507.4" r="1.4" fill="#fff" stroke="#222" stroke-width="0.9"/>
<circle cx="398.0" cy="507.9" r="1.4" fill="#fff" stroke="#222" stroke-width="0.9"/>
<circle cx="396.5" cy="512.6" r="1.4" fill="#fff" stroke="#222" stroke-width="0.9"/>
<circle cx="394.6" cy="516.6" r="1.4" fill="#fff" stroke="#222" stroke-width="0.9"/>
<circle cx="400.7" cy="516.6" r="1.4" fill="#fff" stroke="#222" stroke-width="0.9"/>
<circle cx="397.3" cy="521.8" r="1.4" fill="#fff" stroke="#222" stroke-width="0.9"/>
<circle cx="392.0" cy="527.9" r="1.4" fill="#fff" stroke="#222" stroke-width="0.9"/>
<circle cx="399.1" cy="520.5" r="1.4" fill="#fff" stroke="#222" stroke-width="0.9"/>
<line x1="422.3" y1="476.1" x2="422.3" y2="486.0" stroke="#333" stroke-width="0.9" />
<line x1="419.3" y1="476.1" x2="425.3" y2="476.1" stroke="#333" stroke-width="0.9" />
<line x1="419.3" y1="486.0" x2="425.3" y2="486.0" stroke="#333" stroke-width="0.9" />
<circle cx="419.6" cy="449.6" r="1.4" fill="#fff" stroke="#222" stroke-width="0.9"/>
<circle cx="420.1" cy="472.7" r="1.4" fill="#fff" stroke="#222" stroke-width="0.9"/>
<circle cx="422.7" cy="475.9" r="1.4" fill="#fff" stroke="#222" stroke-width="0.9"/>
<circle cx="424.3" cy="480.6" r="1.4" fill="#fff" stroke="#222" stroke-width="0.9"/>
<circle cx="419.6" cy="485.1" r="1.4" fill="#fff" stroke="#222" stroke-width="0.9"/>
<circle cx="421.4" cy="491.6" r="1.4" fill="#fff" stroke="#222" stroke-width="0.9"/>
<circle cx="419.1" cy="494.8" r="1.4" fill="#fff" stroke="#222" stroke-width="0.9"/>
<circle cx="422.7" cy="499.5" r="1.4" fill="#fff" stroke="#222" stroke-width="0.9"/>
<line x1="447.0" y1="435.9" x2="447.0" y2="461.4" stroke="#333" stroke-width="0.9" />
<line x1="444.0" y1="435.9" x2="450.0" y2="435.9" stroke="#333" stroke-width="0.9" />
<line x1="444.0" y1="461.4" x2="450.0" y2="461.4" stroke="#333" stroke-width="0.9" />
<circle cx="448.0" cy="411.0" r="1.4" fill="#fff" stroke="#222" stroke-width="0.9"/>
<circle cx="446.4" cy="425.9" r="1.4" fill="#fff" stroke="#222" stroke-width="0.9"/>
<circle cx="445.1" cy="439.9" r="1.4" fill="#fff" stroke="#222" stroke-width="0.9"/>
<circle cx="449.0" cy="447.0" r="1.4" fill="#fff" stroke="#222" stroke-width="0.9"/>
<circle cx="446.4" cy="465.9" r="1.4" fill="#fff" stroke="#222" stroke-width="0.9"/>
<circle cx="449.8" cy="465.9" r="1.4" fill="#fff" stroke="#222" stroke-width="0.9"/>
<circle cx="447.2" cy="521.3" r="1.4" fill="#fff" stroke="#222" stroke-width="0.9"/>
<circle cx="448.0" cy="433.8" r="1.4" fill="#fff" stroke="#222" stroke-width="0.9"/>
<line x1="473.1" y1="455.4" x2="473.1" y2="473.2" stroke="#333" stroke-width="0.9" />
<line x1="470.1" y1="455.4" x2="476.1" y2="455.4" stroke="#333" stroke-width="0.9" />
<line x1="470.1" y1="473.2" x2="476.1" y2="473.2" stroke="#333" stroke-width="0.9" />
<circle cx="472.1" cy="414.6" r="1.4" fill="#fff" stroke="#222" stroke-width="0.9"/>
<circle cx="469.5" cy="444.9" r="1.4" fill="#fff" stroke="#222" stroke-width="0.9"/>
<circle cx="472.1" cy="447.0" r="1.4" fill="#fff" stroke="#222" stroke-width="0.9"/>
<circle cx="474.8" cy="475.3" r="1.4" fill="#fff" stroke="#222" stroke-width="0.9"/>
<circle cx="470.0" cy="479.8" r="1.4" fill="#fff" stroke="#222" stroke-width="0.9"/>
<circle cx="471.6" cy="483.7" r="1.4" fill="#fff" stroke="#222" stroke-width="0.9"/>
<circle cx="474.0" cy="485.6" r="1.4" fill="#fff" stroke="#222" stroke-width="0.9"/>
<circle cx="470.8" cy="482.4" r="1.4" fill="#fff" stroke="#222" stroke-width="0.9"/>
<line x1="395.9" y1="396.3" x2="472.9" y2="396.3" stroke="#6e6e6e" stroke-width="1" />
<text x="434.4" y="398.5" font-size="12.5" text-anchor="middle" fill="#1a1a1a" >***</text>
<line x1="395.9" y1="407.0" x2="445.9" y2="407.0" stroke="#6e6e6e" stroke-width="1" />
<text x="420.9" y="409.2" font-size="12.5" text-anchor="middle" fill="#1a1a1a" >***</text>
<line x1="395.9" y1="444.3" x2="422.2" y2="444.3" stroke="#6e6e6e" stroke-width="1" />
<text x="409.0" y="446.5" font-size="12.5" text-anchor="middle" fill="#1a1a1a" >***</text>
<text x="592.1" y="380.5" font-size="12.2" text-anchor="middle" font-style="italic" fill="#1a1a1a" >Abaecin</text>
<line x1="538.6" y1="396.6" x2="538.6" y2="533.1" stroke="#6e6e6e" stroke-width="1.2" />
<line x1="538.0" y1="533.1" x2="658.7" y2="533.1" stroke="#6e6e6e" stroke-width="1.2" />
<line x1="535.6" y1="533.1" x2="538.6" y2="533.1" stroke="#6e6e6e" stroke-width="1" />
<text x="535.6" y="537.5" font-size="12.4" text-anchor="end" fill="#1a1a1a" >0.0</text>
<line x1="535.6" y1="498.7" x2="538.6" y2="498.7" stroke="#6e6e6e" stroke-width="1" />
<text x="535.6" y="503.1" font-size="12.4" text-anchor="end" fill="#1a1a1a" >2.5</text>
<line x1="535.6" y1="464.6" x2="538.6" y2="464.6" stroke="#6e6e6e" stroke-width="1" />
<text x="535.6" y="469.0" font-size="12.4" text-anchor="end" fill="#1a1a1a" >5.0</text>
<line x1="535.6" y1="430.5" x2="538.6" y2="430.5" stroke="#6e6e6e" stroke-width="1" />
<text x="535.6" y="434.9" font-size="12.4" text-anchor="end" fill="#1a1a1a" >7.5</text>
<line x1="535.6" y1="396.6" x2="538.6" y2="396.6" stroke="#6e6e6e" stroke-width="1" />
<text x="535.6" y="401.0" font-size="12.4" text-anchor="end" fill="#1a1a1a" >10.0</text>
<text transform="translate(514.5,464.0) rotate(-90)" font-size="15.6" text-anchor="middle" fill="#1a1a1a">Relative expression</text>
<rect x="550.0" y="518.1" width="17.6" height="15.0" fill="#7aa0d8" stroke="#4f7cc4" stroke-width="1" />
<rect x="575.2" y="496.5" width="17.6" height="36.6" fill="#e0676b" stroke="#c4474b" stroke-width="1" />
<rect x="600.4" y="466.8" width="17.6" height="66.3" fill="#f3d893" stroke="#c9aa57" stroke-width="1" />
<rect x="627.4" y="470.1" width="17.6" height="63.0" fill="#f3958f" stroke="#ee7d77" stroke-width="1" />
<line x1="558.8" y1="515.4" x2="558.8" y2="520.8" stroke="#333" stroke-width="0.9" />
<line x1="555.8" y1="515.4" x2="561.8" y2="515.4" stroke="#333" stroke-width="0.9" />
<line x1="555.8" y1="520.8" x2="561.8" y2="520.8" stroke="#333" stroke-width="0.9" />
<circle cx="555.5" cy="507.0" r="1.4" fill="#fff" stroke="#222" stroke-width="0.9"/>
<circle cx="558.2" cy="513.7" r="1.4" fill="#fff" stroke="#222" stroke-width="0.9"/>
<circle cx="561.0" cy="515.1" r="1.4" fill="#fff" stroke="#222" stroke-width="0.9"/>
<circle cx="563.0" cy="516.4" r="1.4" fill="#fff" stroke="#222" stroke-width="0.9"/>
<circle cx="559.4" cy="518.7" r="1.4" fill="#fff" stroke="#222" stroke-width="0.9"/>
<circle cx="556.6" cy="522.0" r="1.4" fill="#fff" stroke="#222" stroke-width="0.9"/>
<circle cx="561.6" cy="525.6" r="1.4" fill="#fff" stroke="#222" stroke-width="0.9"/>
<circle cx="560.2" cy="522.8" r="1.4" fill="#fff" stroke="#222" stroke-width="0.9"/>
<line x1="584.0" y1="490.4" x2="584.0" y2="500.6" stroke="#333" stroke-width="0.9" />
<line x1="581.0" y1="490.4" x2="587.0" y2="490.4" stroke="#333" stroke-width="0.9" />
<line x1="581.0" y1="500.6" x2="587.0" y2="500.6" stroke="#333" stroke-width="0.9" />
<circle cx="587.9" cy="468.2" r="1.4" fill="#fff" stroke="#222" stroke-width="0.9"/>
<circle cx="588.5" cy="472.1" r="1.4" fill="#fff" stroke="#222" stroke-width="0.9"/>
<circle cx="587.4" cy="494.5" r="1.4" fill="#fff" stroke="#222" stroke-width="0.9"/>
<circle cx="580.4" cy="501.5" r="1.4" fill="#fff" stroke="#222" stroke-width="0.9"/>
<circle cx="585.2" cy="504.0" r="1.4" fill="#fff" stroke="#222" stroke-width="0.9"/>
<circle cx="579.6" cy="511.7" r="1.4" fill="#fff" stroke="#222" stroke-width="0.9"/>
<circle cx="586.5" cy="515.3" r="1.4" fill="#fff" stroke="#222" stroke-width="0.9"/>
<circle cx="583.2" cy="499.2" r="1.4" fill="#fff" stroke="#222" stroke-width="0.9"/>
<line x1="609.2" y1="451.5" x2="609.2" y2="482.6" stroke="#333" stroke-width="0.9" />
<line x1="606.2" y1="451.5" x2="612.2" y2="451.5" stroke="#333" stroke-width="0.9" />
<line x1="606.2" y1="482.6" x2="612.2" y2="482.6" stroke="#333" stroke-width="0.9" />
<circle cx="605.4" cy="404.4" r="1.4" fill="#fff" stroke="#222" stroke-width="0.9"/>
<circle cx="609.6" cy="426.6" r="1.4" fill="#fff" stroke="#222" stroke-width="0.9"/>
<circle cx="605.4" cy="436.0" r="1.4" fill="#fff" stroke="#222" stroke-width="0.9"/>
<circle cx="611.5" cy="466.0" r="1.4" fill="#fff" stroke="#222" stroke-width="0.9"/>
<circle cx="606.0" cy="497.0" r="1.4" fill="#fff" stroke="#222" stroke-width="0.9"/>
<circle cx="609.3" cy="515.1" r="1.4" fill="#fff" stroke="#222" stroke-width="0.9"/>
<circle cx="607.3" cy="525.6" r="1.4" fill="#fff" stroke="#222" stroke-width="0.9"/>
<circle cx="612.9" cy="466.5" r="1.4" fill="#fff" stroke="#222" stroke-width="0.9"/>
<line x1="636.2" y1="454.3" x2="636.2" y2="484.8" stroke="#333" stroke-width="0.9" />
<line x1="633.2" y1="454.3" x2="639.2" y2="454.3" stroke="#333" stroke-width="0.9" />
<line x1="633.2" y1="484.8" x2="639.2" y2="484.8" stroke="#333" stroke-width="0.9" />
<circle cx="632.9" cy="411.9" r="1.4" fill="#fff" stroke="#222" stroke-width="0.9"/>
<circle cx="632.9" cy="420.2" r="1.4" fill="#fff" stroke="#222" stroke-width="0.9"/>
<circle cx="631.8" cy="432.1" r="1.4" fill="#fff" stroke="#222" stroke-width="0.9"/>
<circle cx="640.4" cy="474.8" r="1.4" fill="#fff" stroke="#222" stroke-width="0.9"/>
<circle cx="635.1" cy="479.3" r="1.4" fill="#fff" stroke="#222" stroke-width="0.9"/>
<circle cx="639.2" cy="511.7" r="1.4" fill="#fff" stroke="#222" stroke-width="0.9"/>
<circle cx="636.5" cy="516.7" r="1.4" fill="#fff" stroke="#222" stroke-width="0.9"/>
<circle cx="639.8" cy="514.5" r="1.4" fill="#fff" stroke="#222" stroke-width="0.9"/>
<line x1="558.2" y1="390.5" x2="637.0" y2="390.5" stroke="#6e6e6e" stroke-width="1" />
<text x="597.6" y="392.7" font-size="12.5" text-anchor="middle" fill="#1a1a1a" >*</text>
<line x1="558.2" y1="399.9" x2="609.3" y2="399.9" stroke="#6e6e6e" stroke-width="1" />
<text x="583.8" y="402.1" font-size="12.5" text-anchor="middle" fill="#1a1a1a" >*</text>
<line x1="558.2" y1="462.4" x2="583.8" y2="462.4" stroke="#6e6e6e" stroke-width="1" />
<text x="571.0" y="464.6" font-size="12.5" text-anchor="middle" fill="#1a1a1a" >**</text>
<text x="433.6" y="550.8" font-size="12.2" text-anchor="middle" font-style="italic" fill="#1a1a1a" >Defensin-1</text>
<line x1="378.9" y1="579.7" x2="378.9" y2="712.9" stroke="#6e6e6e" stroke-width="1.2" />
<line x1="378.3" y1="712.9" x2="495.8" y2="712.9" stroke="#6e6e6e" stroke-width="1.2" />
<line x1="375.9" y1="712.9" x2="378.9" y2="712.9" stroke="#6e6e6e" stroke-width="1" />
<text x="375.9" y="717.0" font-size="11.5" text-anchor="end" fill="#1a1a1a" >0</text>
<line x1="375.9" y1="671.6" x2="378.9" y2="671.6" stroke="#6e6e6e" stroke-width="1" />
<text x="375.9" y="675.7" font-size="11.5" text-anchor="end" fill="#1a1a1a" >2</text>
<line x1="375.9" y1="630.4" x2="378.9" y2="630.4" stroke="#6e6e6e" stroke-width="1" />
<text x="375.9" y="634.5" font-size="11.5" text-anchor="end" fill="#1a1a1a" >4</text>
<line x1="375.9" y1="589.4" x2="378.9" y2="589.4" stroke="#6e6e6e" stroke-width="1" />
<text x="375.9" y="593.5" font-size="11.5" text-anchor="end" fill="#1a1a1a" >6</text>
<text transform="translate(357.0,643.1) rotate(-90)" font-size="15.6" text-anchor="middle" fill="#1a1a1a">Relative expression</text>
<rect x="388.1" y="689.5" width="18.4" height="23.4" fill="#7aa0d8" stroke="#4f7cc4" stroke-width="1" />
<rect x="413.3" y="647.5" width="18.4" height="65.4" fill="#e0676b" stroke="#c4474b" stroke-width="1" />
<rect x="438.5" y="651.9" width="18.4" height="61.0" fill="#f3d893" stroke="#c9aa57" stroke-width="1" />
<rect x="465.0" y="657.2" width="18.4" height="55.7" fill="#f3958f" stroke="#ee7d77" stroke-width="1" />
<line x1="397.3" y1="685.1" x2="397.3" y2="693.3" stroke="#333" stroke-width="0.9" />
<line x1="394.3" y1="685.1" x2="400.3" y2="685.1" stroke="#333" stroke-width="0.9" />
<line x1="394.3" y1="693.3" x2="400.3" y2="693.3" stroke="#333" stroke-width="0.9" />
<circle cx="396.5" cy="673.5" r="1.4" fill="#fff" stroke="#222" stroke-width="0.9"/>
<circle cx="393.3" cy="686.9" r="1.4" fill="#fff" stroke="#222" stroke-width="0.9"/>
<circle cx="399.9" cy="688.7" r="1.4" fill="#fff" stroke="#222" stroke-width="0.9"/>
<circle cx="394.6" cy="692.6" r="1.4" fill="#fff" stroke="#222" stroke-width="0.9"/>
<circle cx="399.1" cy="694.0" r="1.4" fill="#fff" stroke="#222" stroke-width="0.9"/>
<circle cx="393.8" cy="698.4" r="1.4" fill="#fff" stroke="#222" stroke-width="0.9"/>
<circle cx="396.5" cy="705.3" r="1.4" fill="#fff" stroke="#222" stroke-width="0.9"/>
<circle cx="397.0" cy="673.7" r="1.4" fill="#fff" stroke="#222" stroke-width="0.9"/>
<line x1="422.5" y1="639.6" x2="422.5" y2="655.3" stroke="#333" stroke-width="0.9" />
<line x1="419.5" y1="639.6" x2="425.5" y2="639.6" stroke="#333" stroke-width="0.9" />
<line x1="419.5" y1="655.3" x2="425.5" y2="655.3" stroke="#333" stroke-width="0.9" />
<circle cx="424.8" cy="607.3" r="1.4" fill="#fff" stroke="#222" stroke-width="0.9"/>
<circle cx="424.3" cy="624.3" r="1.4" fill="#fff" stroke="#222" stroke-width="0.9"/>
<circle cx="419.6" cy="650.1" r="1.4" fill="#fff" stroke="#222" stroke-width="0.9"/>
<circle cx="425.4" cy="647.5" r="1.4" fill="#fff" stroke="#222" stroke-width="0.9"/>
<circle cx="422.7" cy="654.5" r="1.4" fill="#fff" stroke="#222" stroke-width="0.9"/>
<circle cx="426.2" cy="659.0" r="1.4" fill="#fff" stroke="#222" stroke-width="0.9"/>
<circle cx="423.5" cy="669.0" r="1.4" fill="#fff" stroke="#222" stroke-width="0.9"/>
<circle cx="422.2" cy="673.7" r="1.4" fill="#fff" stroke="#222" stroke-width="0.9"/>
<line x1="447.7" y1="641.4" x2="447.7" y2="662.4" stroke="#333" stroke-width="0.9" />
<line x1="444.7" y1="641.4" x2="450.7" y2="641.4" stroke="#333" stroke-width="0.9" />
<line x1="444.7" y1="662.4" x2="450.7" y2="662.4" stroke="#333" stroke-width="0.9" />
<circle cx="444.0" cy="611.7" r="1.4" fill="#fff" stroke="#222" stroke-width="0.9"/>
<circle cx="451.1" cy="614.3" r="1.4" fill="#fff" stroke="#222" stroke-width="0.9"/>
<circle cx="443.8" cy="640.9" r="1.4" fill="#fff" stroke="#222" stroke-width="0.9"/>
<circle cx="445.9" cy="646.1" r="1.4" fill="#fff" stroke="#222" stroke-width="0.9"/>
<circle cx="444.5" cy="664.3" r="1.4" fill="#fff" stroke="#222" stroke-width="0.9"/>
<circle cx="446.6" cy="665.8" r="1.4" fill="#fff" stroke="#222" stroke-width="0.9"/>
<circle cx="446.4" cy="674.8" r="1.4" fill="#fff" stroke="#222" stroke-width="0.9"/>
<circle cx="443.8" cy="698.4" r="1.4" fill="#fff" stroke="#222" stroke-width="0.9"/>
<line x1="474.2" y1="650.1" x2="474.2" y2="664.3" stroke="#333" stroke-width="0.9" />
<line x1="471.2" y1="650.1" x2="477.2" y2="650.1" stroke="#333" stroke-width="0.9" />
<line x1="471.2" y1="664.3" x2="477.2" y2="664.3" stroke="#333" stroke-width="0.9" />
<circle cx="479.2" cy="624.9" r="1.4" fill="#fff" stroke="#222" stroke-width="0.9"/>
<circle cx="477.9" cy="639.6" r="1.4" fill="#fff" stroke="#222" stroke-width="0.9"/>
<circle cx="477.9" cy="641.9" r="1.4" fill="#fff" stroke="#222" stroke-width="0.9"/>
<circle cx="470.8" cy="664.3" r="1.4" fill="#fff" stroke="#222" stroke-width="0.9"/>
<circle cx="473.4" cy="665.8" r="1.4" fill="#fff" stroke="#222" stroke-width="0.9"/>
<circle cx="477.4" cy="672.2" r="1.4" fill="#fff" stroke="#222" stroke-width="0.9"/>
<circle cx="470.8" cy="673.7" r="1.4" fill="#fff" stroke="#222" stroke-width="0.9"/>
<circle cx="472.1" cy="676.4" r="1.4" fill="#fff" stroke="#222" stroke-width="0.9"/>
<line x1="397.3" y1="580.5" x2="474.8" y2="580.5" stroke="#6e6e6e" stroke-width="1" />
<text x="436.1" y="582.7" font-size="12.5" text-anchor="middle" fill="#1a1a1a" >**</text>
<line x1="397.3" y1="592.0" x2="447.7" y2="592.0" stroke="#6e6e6e" stroke-width="1" />
<text x="422.5" y="594.2" font-size="12.5" text-anchor="middle" fill="#1a1a1a" >**</text>
<line x1="397.3" y1="602.8" x2="422.7" y2="602.8" stroke="#6e6e6e" stroke-width="1" />
<text x="410.0" y="605.0" font-size="12.5" text-anchor="middle" fill="#1a1a1a" >***</text>
<text x="590.0" y="550.3" font-size="12.2" text-anchor="middle" font-style="italic" fill="#1a1a1a" >Hymenoptaecin</text>
<line x1="543.0" y1="579.4" x2="543.0" y2="713.4" stroke="#6e6e6e" stroke-width="1.2" />
<line x1="542.4" y1="713.4" x2="657.3" y2="713.4" stroke="#6e6e6e" stroke-width="1.2" />
<line x1="540.0" y1="713.4" x2="543.0" y2="713.4" stroke="#6e6e6e" stroke-width="1" />
<text x="540.0" y="717.5" font-size="11.5" text-anchor="end" fill="#1a1a1a" >0</text>
<line x1="540.0" y1="687.0" x2="543.0" y2="687.0" stroke="#6e6e6e" stroke-width="1" />
<text x="540.0" y="691.1" font-size="11.5" text-anchor="end" fill="#1a1a1a" >1</text>
<line x1="540.0" y1="660.4" x2="543.0" y2="660.4" stroke="#6e6e6e" stroke-width="1" />
<text x="540.0" y="664.5" font-size="11.5" text-anchor="end" fill="#1a1a1a" >2</text>
<line x1="540.0" y1="633.5" x2="543.0" y2="633.5" stroke="#6e6e6e" stroke-width="1" />
<text x="540.0" y="637.6" font-size="11.5" text-anchor="end" fill="#1a1a1a" >3</text>
<line x1="540.0" y1="606.6" x2="543.0" y2="606.6" stroke="#6e6e6e" stroke-width="1" />
<text x="540.0" y="610.7" font-size="11.5" text-anchor="end" fill="#1a1a1a" >4</text>
<line x1="540.0" y1="579.4" x2="543.0" y2="579.4" stroke="#6e6e6e" stroke-width="1" />
<text x="540.0" y="583.5" font-size="11.5" text-anchor="end" fill="#1a1a1a" >5</text>
<text transform="translate(522.6,644.0) rotate(-90)" font-size="15.6" text-anchor="middle" fill="#1a1a1a">Relative expression</text>
<rect x="554.2" y="684.2" width="18.3" height="29.2" fill="#7aa0d8" stroke="#4f7cc4" stroke-width="1" />
<rect x="579.5" y="641.0" width="18.3" height="72.4" fill="#e0676b" stroke="#c4474b" stroke-width="1" />
<rect x="605.2" y="652.3" width="18.3" height="61.1" fill="#f3d893" stroke="#c9aa57" stroke-width="1" />
<rect x="631.4" y="645.1" width="18.3" height="68.3" fill="#f3958f" stroke="#ee7d77" stroke-width="1" />
<line x1="563.4" y1="679.4" x2="563.4" y2="689.3" stroke="#333" stroke-width="0.9" />
<line x1="560.4" y1="679.4" x2="566.4" y2="679.4" stroke="#333" stroke-width="0.9" />
<line x1="560.4" y1="689.3" x2="566.4" y2="689.3" stroke="#333" stroke-width="0.9" />
<circle cx="559.4" cy="663.2" r="1.4" fill="#fff" stroke="#222" stroke-width="0.9"/>
<circle cx="561.0" cy="662.6" r="1.4" fill="#fff" stroke="#222" stroke-width="0.9"/>
<circle cx="563.8" cy="686.2" r="1.4" fill="#fff" stroke="#222" stroke-width="0.9"/>
<circle cx="564.9" cy="689.0" r="1.4" fill="#fff" stroke="#222" stroke-width="0.9"/>
<circle cx="562.1" cy="690.9" r="1.4" fill="#fff" stroke="#222" stroke-width="0.9"/>
<circle cx="561.0" cy="695.3" r="1.4" fill="#fff" stroke="#222" stroke-width="0.9"/>
<circle cx="560.5" cy="697.3" r="1.4" fill="#fff" stroke="#222" stroke-width="0.9"/>
<circle cx="565.7" cy="687.6" r="1.4" fill="#fff" stroke="#222" stroke-width="0.9"/>
<line x1="588.6" y1="635.1" x2="588.6" y2="645.1" stroke="#333" stroke-width="0.9" />
<line x1="585.6" y1="635.1" x2="591.6" y2="635.1" stroke="#333" stroke-width="0.9" />
<line x1="585.6" y1="645.1" x2="591.6" y2="645.1" stroke="#333" stroke-width="0.9" />
<circle cx="587.4" cy="623.8" r="1.4" fill="#fff" stroke="#222" stroke-width="0.9"/>
<circle cx="588.5" cy="624.3" r="1.4" fill="#fff" stroke="#222" stroke-width="0.9"/>
<circle cx="586.0" cy="635.4" r="1.4" fill="#fff" stroke="#222" stroke-width="0.9"/>
<circle cx="590.1" cy="635.4" r="1.4" fill="#fff" stroke="#222" stroke-width="0.9"/>
<circle cx="587.4" cy="653.7" r="1.4" fill="#fff" stroke="#222" stroke-width="0.9"/>
<circle cx="591.5" cy="657.6" r="1.4" fill="#fff" stroke="#222" stroke-width="0.9"/>
<circle cx="589.3" cy="661.2" r="1.4" fill="#fff" stroke="#222" stroke-width="0.9"/>
<circle cx="587.9" cy="643.2" r="1.4" fill="#fff" stroke="#222" stroke-width="0.9"/>
<line x1="614.4" y1="643.2" x2="614.4" y2="661.7" stroke="#333" stroke-width="0.9" />
<line x1="611.4" y1="643.2" x2="617.4" y2="643.2" stroke="#333" stroke-width="0.9" />
<line x1="611.4" y1="661.7" x2="617.4" y2="661.7" stroke="#333" stroke-width="0.9" />
<circle cx="616.5" cy="615.4" r="1.4" fill="#fff" stroke="#222" stroke-width="0.9"/>
<circle cx="613.7" cy="639.0" r="1.4" fill="#fff" stroke="#222" stroke-width="0.9"/>
<circle cx="616.5" cy="641.8" r="1.4" fill="#fff" stroke="#222" stroke-width="0.9"/>
<circle cx="614.8" cy="638.2" r="1.4" fill="#fff" stroke="#222" stroke-width="0.9"/>
<circle cx="614.3" cy="670.9" r="1.4" fill="#fff" stroke="#222" stroke-width="0.9"/>
<circle cx="615.7" cy="675.1" r="1.4" fill="#fff" stroke="#222" stroke-width="0.9"/>
<circle cx="613.7" cy="695.3" r="1.4" fill="#fff" stroke="#222" stroke-width="0.9"/>
<circle cx="617.1" cy="640.4" r="1.4" fill="#fff" stroke="#222" stroke-width="0.9"/>
<line x1="640.5" y1="635.1" x2="640.5" y2="654.4" stroke="#333" stroke-width="0.9" />
<line x1="637.5" y1="635.1" x2="643.5" y2="635.1" stroke="#333" stroke-width="0.9" />
<line x1="637.5" y1="654.4" x2="643.5" y2="654.4" stroke="#333" stroke-width="0.9" />
<circle cx="636.5" cy="596.6" r="1.4" fill="#fff" stroke="#222" stroke-width="0.9"/>
<circle cx="638.4" cy="620.2" r="1.4" fill="#fff" stroke="#222" stroke-width="0.9"/>
<circle cx="641.5" cy="635.4" r="1.4" fill="#fff" stroke="#222" stroke-width="0.9"/>
<circle cx="642.0" cy="652.9" r="1.4" fill="#fff" stroke="#222" stroke-width="0.9"/>
<circle cx="638.4" cy="656.5" r="1.4" fill="#fff" stroke="#222" stroke-width="0.9"/>
<circle cx="639.8" cy="669.5" r="1.4" fill="#fff" stroke="#222" stroke-width="0.9"/>
<circle cx="644.0" cy="672.3" r="1.4" fill="#fff" stroke="#222" stroke-width="0.9"/>
<circle cx="637.9" cy="654.3" r="1.4" fill="#fff" stroke="#222" stroke-width="0.9"/>
<line x1="563.5" y1="587.2" x2="640.6" y2="587.2" stroke="#6e6e6e" stroke-width="1" />
<text x="602.0" y="589.4" font-size="12.5" text-anchor="middle" fill="#1a1a1a" >**</text>
<line x1="563.5" y1="604.3" x2="613.7" y2="604.3" stroke="#6e6e6e" stroke-width="1" />
<text x="588.6" y="606.5" font-size="12.5" text-anchor="middle" fill="#1a1a1a" >*</text>
<line x1="563.5" y1="618.2" x2="588.5" y2="618.2" stroke="#6e6e6e" stroke-width="1" />
<text x="576.0" y="620.4" font-size="12.5" text-anchor="middle" fill="#1a1a1a" >***</text>
<text x="1.0" y="761.4" font-size="18.8" text-anchor="start" font-weight="bold" fill="#000" >d</text>
<text x="198.6" y="742.5" font-size="15.2" text-anchor="middle" fill="#1a1a1a" >GF</text>
<text x="306.9" y="742.5" font-size="15.2" text-anchor="middle" fill="#1a1a1a" >HK</text>
<text x="410.4" y="742.5" font-size="15.2" text-anchor="middle" fill="#1a1a1a" >CL</text>
<text x="510.9" y="742.5" font-size="15.2" text-anchor="middle" fill="#1a1a1a" >Butyrate</text>
<text x="146.0" y="799.3" font-size="15.3" text-anchor="end" fill="#1a1a1a" >Before Infection</text>
<text x="146.0" y="899.7" font-size="15.3" text-anchor="end" fill="#1a1a1a" >After Infection</text>
<g clip-path="url(#clip_gfb)">
<rect x="149.5" y="749.0" width="101.5" height="101.4" fill="url(#g_gfb)" stroke="none" stroke-width="1" />
<rect x="149.5" y="749.0" width="101.5" height="101.4" fill="url(#v_gfb)" stroke="none" stroke-width="1" />
<ellipse cx="187" cy="765" rx="16" ry="40" fill="url(#b_gfb1)"/>
<ellipse cx="162" cy="765" rx="16" ry="24" fill="url(#b_gfb2)"/>
<path d="M149.0,790.5 C153.8,790.6 169.5,790.5 178.0,791.0 C186.5,791.5 192.2,793.2 200.0,793.5 C207.8,793.8 216.3,792.9 225.0,793.0 C233.7,793.1 247.5,793.8 252.0,794.0 L252.0,805.5 C247.5,805.7 233.7,806.1 225.0,806.5 C216.3,806.9 208.3,808.0 200.0,808.0 C191.7,808.0 183.5,806.6 175.0,806.5 C166.5,806.4 153.3,807.3 149.0,807.5 Z" fill="#a0a0a0" fill-opacity="0.22"/>
<path d="M157.0,749.0 C157.5,752.5 159.0,763.2 160.0,770.0 C161.0,776.8 163.0,782.5 163.0,790.0 C163.0,797.5 160.5,805.0 160.0,815.0 C159.5,825.0 160.0,844.2 160.0,850.0" fill="none" stroke="#262626" stroke-width="1.3" stroke-opacity="0.9" stroke-linecap="round"/>
<path d="M160.0,790.0 C161.7,791.7 167.5,795.8 170.0,800.0 C172.5,804.2 174.2,812.5 175.0,815.0" fill="none" stroke="#262626" stroke-width="0.8" stroke-opacity="0.9" stroke-linecap="round"/>
<path d="M162.0,825.0 C163.7,823.8 170.3,819.2 172.0,818.0" fill="none" stroke="#262626" stroke-width="0.7" stroke-opacity="0.9" stroke-linecap="round"/>
<path d="M168.0,749.0 C168.7,752.5 169.7,764.0 172.0,770.0 C174.3,776.0 180.3,782.5 182.0,785.0" fill="none" stroke="#333" stroke-width="0.7" stroke-opacity="0.9" stroke-linecap="round"/>
<path d="M226.0,749.0 C226.0,752.5 226.3,763.3 226.0,770.0 C225.7,776.7 224.3,785.8 224.0,789.0" fill="none" stroke="#262626" stroke-width="1.2" stroke-opacity="0.9" stroke-linecap="round"/>
<path d="M232.0,749.0 C232.7,751.7 234.0,760.2 236.0,765.0 C238.0,769.8 242.7,775.8 244.0,778.0" fill="none" stroke="#262626" stroke-width="1.1" stroke-opacity="0.9" stroke-linecap="round"/>
<path d="M216.0,810.0 C215.3,812.5 212.8,820.3 212.0,825.0 C211.2,829.7 210.5,834.2 211.0,838.0 C211.5,841.8 214.3,846.3 215.0,848.0" fill="none" stroke="#262626" stroke-width="1.1" stroke-opacity="0.9" stroke-linecap="round"/>
<path d="M224.0,807.0 C225.0,809.2 228.5,815.3 230.0,820.0 C231.5,824.7 233.2,830.5 233.0,835.0 C232.8,839.5 229.7,845.0 229.0,847.0" fill="none" stroke="#262626" stroke-width="1.1" stroke-opacity="0.9" stroke-linecap="round"/>
<path d="M196.0,828.0 C197.0,827.0 199.7,822.3 202.0,822.0 C204.3,821.7 208.7,825.3 210.0,826.0" fill="none" stroke="#444" stroke-width="0.6" stroke-opacity="0.9" stroke-linecap="round"/>
<circle cx="244.3" cy="786.2" r="5.6" fill="#3a3a3a" stroke="#161616" stroke-width="1.5"/>
<line x1="246.5" y1="749.0" x2="246.5" y2="850.0" stroke="#444" stroke-width="2" stroke-opacity="0.5"/>
<rect x="149.5" y="749" width="101.5" height="101.4" fill="#000" filter="url(#grain)" opacity="0.3"/>
<path d="M149.0,790.5 C151.7,790.4 160.2,789.8 165.0,790.0 C169.8,790.2 173.8,791.4 178.0,792.0 C182.2,792.6 186.3,793.5 190.0,793.5 C193.7,793.5 194.2,792.1 200.0,792.0 C205.8,791.9 216.3,792.7 225.0,793.0 C233.7,793.3 247.5,793.8 252.0,794.0" fill="none" stroke="#f4f4f4" stroke-width="1.5" stroke-dasharray="3.2 2.2"/>
<path d="M149.0,808.0 C151.2,807.8 157.7,806.8 162.0,806.5 C166.3,806.2 170.3,805.8 175.0,806.0 C179.7,806.2 185.0,807.8 190.0,808.0 C195.0,808.2 200.0,807.2 205.0,807.0 C210.0,806.8 212.2,806.8 220.0,806.5 C227.8,806.2 246.7,805.7 252.0,805.5" fill="none" stroke="#f4f4f4" stroke-width="1.5" stroke-dasharray="3.2 2.2"/>
<circle cx="163.4" cy="833.4" r="0.9" fill="#ff3030" fill-opacity="0.60"/>
<circle cx="199.5" cy="795.2" r="0.8" fill="#ff3030" fill-opacity="0.82"/>
<circle cx="159.4" cy="754.7" r="0.9" fill="#ff3030" fill-opacity="0.67"/>
<circle cx="226.2" cy="752.2" r="0.7" fill="#ff3030" fill-opacity="0.79"/>
<circle cx="172.9" cy="842.7" r="1.0" fill="#ff3030" fill-opacity="0.51"/>
<circle cx="152.5" cy="804.0" r="1.0" fill="#ff3030" fill-opacity="0.65"/>
<circle cx="171.7" cy="792.5" r="0.5" fill="#ff3030" fill-opacity="0.59"/>
<circle cx="193.8" cy="799.6" r="0.6" fill="#ff3030" fill-opacity="0.59"/>
<circle cx="171.9" cy="796.1" r="0.6" fill="#ff3030" fill-opacity="0.51"/>
<circle cx="233.8" cy="805.4" r="0.8" fill="#ff3030" fill-opacity="0.57"/>
<circle cx="249.3" cy="834.6" r="0.6" fill="#ff3030" fill-opacity="0.63"/>
<circle cx="222.1" cy="820.3" r="1.0" fill="#ff3030" fill-opacity="0.67"/>
<circle cx="233.0" cy="816.3" r="0.7" fill="#ff3030" fill-opacity="0.74"/>
<circle cx="238.2" cy="833.2" r="0.8" fill="#ff3030" fill-opacity="0.74"/>
<circle cx="153.5" cy="775.3" r="0.9" fill="#ff3030" fill-opacity="0.67"/>
<circle cx="167.3" cy="804.7" r="0.9" fill="#ff3030" fill-opacity="0.77"/>
<circle cx="187.5" cy="794.1" r="0.8" fill="#ff3030" fill-opacity="0.81"/>
<circle cx="202.1" cy="789.8" r="0.7" fill="#ff3030" fill-opacity="0.51"/>
<circle cx="189.6" cy="789.5" r="0.6" fill="#ff3030" fill-opacity="0.53"/>
<circle cx="188.5" cy="787.6" r="1.1" fill="#ff3030" fill-opacity="0.62"/>
<circle cx="186.5" cy="786.5" r="1.1" fill="#ff3030" fill-opacity="0.56"/>
<circle cx="184.9" cy="784.5" r="1.2" fill="#ff3030" fill-opacity="0.90"/>
<circle cx="189.5" cy="785.9" r="1.0" fill="#ff3030" fill-opacity="0.61"/>
<circle cx="181.3" cy="781.2" r="1.0" fill="#ff3030" fill-opacity="0.63"/>
<circle cx="184.4" cy="789.0" r="1.0" fill="#ff3030" fill-opacity="0.72"/>
<circle cx="183.1" cy="781.2" r="0.9" fill="#ff3030" fill-opacity="0.55"/>
<text x="249.0" y="848.2" font-size="4.2" text-anchor="end" fill="#e6e6e6">μm 250</text>
</g>
<g clip-path="url(#clip_hkb)">
<rect x="254.0" y="749.0" width="101.7" height="101.2" fill="url(#g_hkb)" stroke="none" stroke-width="1" />
<ellipse cx="345" cy="765" rx="22" ry="25" fill="url(#b_hkb1)"/>
<path d="M254.0,790.0 C257.5,789.9 268.2,789.5 275.0,789.5 C281.8,789.5 288.8,789.4 295.0,790.0 C301.2,790.6 306.2,791.8 312.0,793.0 C317.8,794.2 322.7,796.2 330.0,797.0 C337.3,797.8 351.7,797.8 356.0,798.0 L356.0,814.0 C351.7,813.7 337.3,812.7 330.0,812.0 C322.7,811.3 317.8,811.0 312.0,810.0 C306.2,809.0 301.2,807.1 295.0,806.0 C288.8,804.9 281.8,803.8 275.0,803.5 C268.2,803.2 257.5,803.9 254.0,804.0 Z" fill="url(#gut_hkb)" fill-opacity="0.95"/>
<ellipse cx="262" cy="775" rx="10" ry="22" fill="url(#b_hkb2)"/>
<path d="M269.6,749.0 C269.4,750.0 268.7,752.3 268.5,755.0 C268.3,757.7 268.4,761.7 268.5,765.0 C268.6,768.3 268.4,772.2 269.0,775.0 C269.6,777.8 270.8,780.3 272.0,782.0 C273.2,783.7 274.7,784.3 276.0,785.0 C277.3,785.7 278.5,785.5 280.0,786.0 C281.5,786.5 284.2,787.7 285.0,788.0" fill="none" stroke="#1e1e1e" stroke-width="1.5" stroke-opacity="0.9" stroke-linecap="round"/>
<path d="M270.0,752.5 C270.8,752.7 273.5,752.8 275.0,753.5 C276.5,754.2 278.1,755.4 279.0,757.0 C279.9,758.6 279.8,760.8 280.5,763.0 C281.2,765.2 282.1,767.8 283.0,770.0 C283.9,772.2 285.0,774.2 286.0,776.0 C287.0,777.8 288.1,779.2 289.0,781.0 C289.9,782.8 291.1,786.0 291.5,787.0" fill="none" stroke="#1e1e1e" stroke-width="1.3" stroke-opacity="0.9" stroke-linecap="round"/>
<path d="M275.0,749.5 C276.2,750.1 280.0,751.9 282.0,753.0 C284.0,754.1 285.5,755.2 287.0,756.0 C288.5,756.8 289.5,756.8 291.0,758.0 C292.5,759.2 294.5,761.3 296.0,763.0 C297.5,764.7 298.7,766.2 300.0,768.0 C301.3,769.8 303.3,773.0 304.0,774.0" fill="none" stroke="#262626" stroke-width="1.1" stroke-opacity="0.9" stroke-linecap="round"/>
<path d="M291.0,758.0 C292.2,758.2 295.8,758.3 298.0,759.0 C300.2,759.7 301.9,761.8 304.0,762.0 C306.1,762.2 308.9,760.2 310.8,760.4 C312.7,760.6 314.0,761.7 315.4,763.0 C316.8,764.3 317.9,766.0 319.2,768.0 C320.5,770.0 322.0,773.5 323.0,775.0 C324.0,776.5 324.7,775.3 325.3,777.0 C325.9,778.7 326.6,782.0 326.8,785.0 C327.1,788.0 326.8,793.3 326.8,795.0" fill="none" stroke="#1e1e1e" stroke-width="1.3" stroke-opacity="0.9" stroke-linecap="round"/>
<path d="M293.0,766.0 C294.2,765.8 298.2,765.2 300.0,765.0 C301.8,764.8 302.3,764.5 304.0,765.0 C305.7,765.5 308.2,766.8 310.0,768.0 C311.8,769.2 313.0,770.7 315.0,772.0 C317.0,773.3 319.8,775.0 322.0,776.0 C324.2,777.0 325.8,777.2 328.0,778.0 C330.2,778.8 333.0,780.0 335.0,781.0 C337.0,782.0 338.7,782.8 340.0,784.0 C341.3,785.2 342.2,786.2 343.0,788.0 C343.8,789.8 344.7,793.8 345.0,795.0" fill="none" stroke="#1e1e1e" stroke-width="1.3" stroke-opacity="0.9" stroke-linecap="round"/>
<path d="M258.0,761.0 C258.7,760.5 260.7,758.7 262.0,758.0 C263.3,757.3 265.3,757.2 266.0,757.0" fill="none" stroke="#333" stroke-width="0.8" stroke-opacity="0.9" stroke-linecap="round"/>
<path d="M256.0,770.0 C256.5,769.7 258.0,767.8 259.0,768.0 C260.0,768.2 261.5,770.5 262.0,771.0" fill="none" stroke="#444" stroke-width="0.6" stroke-opacity="0.9" stroke-linecap="round"/>
<path d="M310.0,785.0 C311.0,784.5 314.3,782.8 316.0,782.0 C317.7,781.2 319.3,780.3 320.0,780.0" fill="none" stroke="#444" stroke-width="0.6" stroke-opacity="0.9" stroke-linecap="round"/>
<path d="M330.0,770.0 C331.0,770.3 334.0,772.0 336.0,772.0 C338.0,772.0 341.0,770.3 342.0,770.0" fill="none" stroke="#555" stroke-width="0.5" stroke-opacity="0.9" stroke-linecap="round"/>
<path d="M280.0,812.0 C279.7,815.0 278.8,823.7 278.0,830.0 C277.2,836.3 275.5,846.7 275.0,850.0" fill="none" stroke="#262626" stroke-width="1.0" stroke-opacity="0.9" stroke-linecap="round"/>
<path d="M325.0,815.0 C324.2,817.5 320.8,824.2 320.0,830.0 C319.2,835.8 320.0,846.7 320.0,850.0" fill="none" stroke="#262626" stroke-width="1.1" stroke-opacity="0.9" stroke-linecap="round"/>
<path d="M335.0,815.0 C335.5,817.5 338.3,824.2 338.0,830.0 C337.7,835.8 333.8,846.7 333.0,850.0" fill="none" stroke="#262626" stroke-width="1.1" stroke-opacity="0.9" stroke-linecap="round"/>
<path d="M355.0,815.0 C353.3,817.5 347.5,824.2 345.0,830.0 C342.5,835.8 340.8,846.7 340.0,850.0" fill="none" stroke="#262626" stroke-width="1.1" stroke-opacity="0.9" stroke-linecap="round"/>
<path d="M345.0,818.0 C345.5,820.8 347.2,829.7 348.0,835.0 C348.8,840.3 349.7,847.5 350.0,850.0" fill="none" stroke="#262626" stroke-width="0.9" stroke-opacity="0.9" stroke-linecap="round"/>
<rect x="254" y="749" width="101.7" height="101.2" fill="#000" filter="url(#grain)" opacity="0.3"/>
<path d="M254.0,790.0 C255.8,789.9 260.7,789.5 265.0,789.5 C269.3,789.5 275.0,789.8 280.0,790.0 C285.0,790.2 289.7,790.0 295.0,790.5 C300.3,791.0 306.2,791.9 312.0,793.0 C317.8,794.1 322.7,796.2 330.0,797.0 C337.3,797.8 351.7,797.8 356.0,798.0" fill="none" stroke="#f4f4f4" stroke-width="1.5" stroke-dasharray="3.2 2.2"/>
<path d="M254.0,804.0 C256.7,803.9 264.8,803.3 270.0,803.5 C275.2,803.7 280.0,804.4 285.0,805.0 C290.0,805.6 295.0,806.2 300.0,807.0 C305.0,807.8 309.2,809.2 315.0,810.0 C320.8,810.8 328.2,811.3 335.0,812.0 C341.8,812.7 352.5,813.7 356.0,814.0" fill="none" stroke="#f4f4f4" stroke-width="1.5" stroke-dasharray="3.2 2.2"/>
<circle cx="279.9" cy="804.2" r="0.7" fill="#ff3030" fill-opacity="0.74"/>
<circle cx="315.6" cy="758.3" r="0.5" fill="#ff3030" fill-opacity="0.83"/>
<circle cx="281.9" cy="774.5" r="1.0" fill="#ff3030" fill-opacity="0.69"/>
<circle cx="335.0" cy="797.7" r="0.8" fill="#ff3030" fill-opacity="0.56"/>
<circle cx="316.4" cy="835.3" r="0.8" fill="#ff3030" fill-opacity="0.80"/>
<circle cx="319.8" cy="758.1" r="0.9" fill="#ff3030" fill-opacity="0.74"/>
<circle cx="285.7" cy="755.0" r="0.9" fill="#ff3030" fill-opacity="0.69"/>
<circle cx="324.1" cy="836.4" r="0.9" fill="#ff3030" fill-opacity="0.87"/>
<circle cx="294.3" cy="828.9" r="0.7" fill="#ff3030" fill-opacity="0.87"/>
<circle cx="338.9" cy="761.4" r="0.6" fill="#ff3030" fill-opacity="0.59"/>
<circle cx="346.8" cy="793.9" r="0.8" fill="#ff3030" fill-opacity="0.62"/>
<circle cx="304.7" cy="789.0" r="0.7" fill="#ff3030" fill-opacity="0.73"/>
<circle cx="311.8" cy="838.8" r="0.8" fill="#ff3030" fill-opacity="0.87"/>
<circle cx="336.8" cy="847.1" r="0.8" fill="#ff3030" fill-opacity="0.57"/>
<circle cx="337.2" cy="844.6" r="1.0" fill="#ff3030" fill-opacity="0.73"/>
<circle cx="323.7" cy="772.3" r="0.9" fill="#ff3030" fill-opacity="0.73"/>
<circle cx="284.2" cy="758.1" r="0.9" fill="#ff3030" fill-opacity="0.90"/>
<circle cx="266.1" cy="828.9" r="0.7" fill="#ff3030" fill-opacity="0.56"/>
<circle cx="285.0" cy="825.8" r="0.9" fill="#ff3030" fill-opacity="0.52"/>
<circle cx="314.5" cy="756.3" r="0.9" fill="#ff3030" fill-opacity="0.63"/>
<circle cx="339.0" cy="846.1" r="0.8" fill="#ff3030" fill-opacity="0.90"/>
<circle cx="286.5" cy="759.4" r="0.8" fill="#ff3030" fill-opacity="0.51"/>
<circle cx="276.2" cy="791.2" r="0.8" fill="#ff3030" fill-opacity="0.56"/>
<circle cx="261.9" cy="835.3" r="0.7" fill="#ff3030" fill-opacity="0.88"/>
<circle cx="340.5" cy="788.3" r="0.7" fill="#ff3030" fill-opacity="0.71"/>
<circle cx="317.2" cy="809.2" r="0.8" fill="#ff3030" fill-opacity="0.75"/>
<circle cx="344.5" cy="800.7" r="0.7" fill="#ff3030" fill-opacity="0.79"/>
<circle cx="279.9" cy="780.9" r="1.0" fill="#ff3030" fill-opacity="0.71"/>
<circle cx="308.5" cy="753.1" r="0.7" fill="#ff3030" fill-opacity="0.73"/>
<circle cx="259.8" cy="811.1" r="0.8" fill="#ff3030" fill-opacity="0.52"/>
<text x="353.7" y="848.0" font-size="4.2" text-anchor="end" fill="#e6e6e6">μm 250</text>
</g>
<g clip-path="url(#clip_clb)">
<rect x="359.0" y="749.0" width="100.3" height="101.2" fill="url(#g_clb)" stroke="none" stroke-width="1" />
<rect x="359.0" y="749.0" width="100.3" height="101.2" fill="url(#v_clb)" stroke="none" stroke-width="1" />
<path d="M359.0,790.0 C361.2,789.5 367.7,787.0 372.0,787.0 C376.3,787.0 380.3,789.2 385.0,790.0 C389.7,790.8 394.2,791.5 400.0,792.0 C405.8,792.5 413.3,792.2 420.0,793.0 C426.7,793.8 433.3,796.7 440.0,797.0 C446.7,797.3 456.7,795.3 460.0,795.0 L460.0,812.0 C457.5,812.0 451.7,812.7 445.0,812.0 C438.3,811.3 428.3,809.2 420.0,808.0 C411.7,806.8 402.5,805.7 395.0,805.0 C387.5,804.3 381.0,803.7 375.0,804.0 C369.0,804.3 361.7,806.5 359.0,807.0 Z" fill="url(#gut_clb)" fill-opacity="0.95"/>
<path d="M362.0,749.0 C362.0,755.8 361.5,773.2 362.0,790.0 C362.5,806.8 364.5,840.0 365.0,850.0" fill="none" stroke="#333" stroke-width="1.6" stroke-opacity="0.9" stroke-linecap="round"/>
<path d="M410.0,749.0 C409.5,752.5 408.3,763.2 407.0,770.0 C405.7,776.8 402.8,786.7 402.0,790.0" fill="none" stroke="#262626" stroke-width="1.3" stroke-opacity="0.9" stroke-linecap="round"/>
<path d="M412.0,749.0 C412.3,752.5 413.0,763.2 414.0,770.0 C415.0,776.8 417.3,786.7 418.0,790.0" fill="none" stroke="#262626" stroke-width="1.2" stroke-opacity="0.9" stroke-linecap="round"/>
<path d="M423.0,752.0 C424.5,755.0 429.2,763.7 432.0,770.0 C434.8,776.3 438.7,786.7 440.0,790.0" fill="none" stroke="#262626" stroke-width="1.2" stroke-opacity="0.9" stroke-linecap="round"/>
<path d="M385.0,812.0 C383.8,815.0 380.5,823.7 378.0,830.0 C375.5,836.3 371.3,846.7 370.0,850.0" fill="none" stroke="#262626" stroke-width="1.1" stroke-opacity="0.9" stroke-linecap="round"/>
<path d="M392.0,812.0 C390.8,815.8 387.3,828.7 385.0,835.0 C382.7,841.3 379.2,847.5 378.0,850.0" fill="none" stroke="#262626" stroke-width="0.8" stroke-opacity="0.9" stroke-linecap="round"/>
<path d="M425.0,812.0 C425.5,815.0 427.7,823.7 428.0,830.0 C428.3,836.3 427.2,846.7 427.0,850.0" fill="none" stroke="#262626" stroke-width="1.3" stroke-opacity="0.9" stroke-linecap="round"/>
<path d="M440.0,814.0 C439.2,817.5 436.7,829.0 435.0,835.0 C433.3,841.0 430.8,847.5 430.0,850.0" fill="none" stroke="#262626" stroke-width="1.2" stroke-opacity="0.9" stroke-linecap="round"/>
<rect x="359" y="749" width="100.3" height="101.2" fill="#000" filter="url(#grain)" opacity="0.3"/>
<path d="M359.0,790.0 C360.2,789.7 363.5,788.4 366.0,788.0 C368.5,787.6 370.8,787.0 374.0,787.5 C377.2,788.0 380.7,790.2 385.0,791.0 C389.3,791.8 394.2,792.2 400.0,792.5 C405.8,792.8 413.3,792.2 420.0,793.0 C426.7,793.8 433.3,796.7 440.0,797.0 C446.7,797.3 456.7,795.3 460.0,795.0" fill="none" stroke="#f4f4f4" stroke-width="1.5" stroke-dasharray="3.2 2.2"/>
<path d="M359.0,807.0 C360.5,806.6 364.8,805.0 368.0,804.5 C371.2,804.0 373.5,803.9 378.0,804.0 C382.5,804.1 388.0,804.3 395.0,805.0 C402.0,805.7 411.7,806.8 420.0,808.0 C428.3,809.2 438.3,811.3 445.0,812.0 C451.7,812.7 457.5,812.0 460.0,812.0" fill="none" stroke="#f4f4f4" stroke-width="1.5" stroke-dasharray="3.2 2.2"/>
<circle cx="386.2" cy="761.9" r="0.7" fill="#ff3030" fill-opacity="0.56"/>
<circle cx="371.0" cy="790.6" r="1.0" fill="#ff3030" fill-opacity="0.82"/>
<circle cx="433.9" cy="773.3" r="0.8" fill="#ff3030" fill-opacity="0.61"/>
<circle cx="380.5" cy="762.2" r="0.6" fill="#ff3030" fill-opacity="0.87"/>
<circle cx="439.6" cy="829.4" r="0.9" fill="#ff3030" fill-opacity="0.58"/>
<circle cx="392.9" cy="812.2" r="0.9" fill="#ff3030" fill-opacity="0.84"/>
<circle cx="444.2" cy="760.3" r="0.8" fill="#ff3030" fill-opacity="0.77"/>
<circle cx="410.5" cy="769.1" r="0.7" fill="#ff3030" fill-opacity="0.54"/>
<circle cx="449.1" cy="835.1" r="0.8" fill="#ff3030" fill-opacity="0.62"/>
<circle cx="446.8" cy="806.9" r="0.9" fill="#ff3030" fill-opacity="0.84"/>
<circle cx="410.8" cy="791.7" r="0.8" fill="#ff3030" fill-opacity="0.67"/>
<circle cx="379.5" cy="781.3" r="0.9" fill="#ff3030" fill-opacity="0.52"/>
<circle cx="369.2" cy="812.1" r="0.6" fill="#ff3030" fill-opacity="0.71"/>
<circle cx="407.4" cy="784.9" r="1.0" fill="#ff3030" fill-opacity="0.58"/>
<circle cx="402.2" cy="771.5" r="0.8" fill="#ff3030" fill-opacity="0.61"/>
<circle cx="397.0" cy="823.7" r="0.7" fill="#ff3030" fill-opacity="0.72"/>
<circle cx="446.4" cy="761.7" r="0.5" fill="#ff3030" fill-opacity="0.59"/>
<circle cx="433.9" cy="811.1" r="0.6" fill="#ff3030" fill-opacity="0.63"/>
<circle cx="381.0" cy="796.1" r="0.5" fill="#ff3030" fill-opacity="0.78"/>
<circle cx="445.6" cy="843.7" r="0.9" fill="#ff3030" fill-opacity="0.88"/>
<circle cx="366.6" cy="779.7" r="1.0" fill="#ff3030" fill-opacity="0.81"/>
<circle cx="401.9" cy="842.6" r="0.8" fill="#ff3030" fill-opacity="0.83"/>
<circle cx="425.4" cy="814.2" r="1.2" fill="#ff3030" fill-opacity="0.88"/>
<circle cx="430.6" cy="816.1" r="0.6" fill="#ff3030" fill-opacity="0.69"/>
<circle cx="439.5" cy="813.1" r="1.3" fill="#ff3030" fill-opacity="0.55"/>
<circle cx="418.6" cy="808.7" r="1.0" fill="#ff3030" fill-opacity="0.73"/>
<circle cx="398.6" cy="808.4" r="0.8" fill="#ff3030" fill-opacity="0.87"/>
<circle cx="431.7" cy="807.8" r="1.2" fill="#ff3030" fill-opacity="0.56"/>
<circle cx="425.2" cy="807.4" r="0.6" fill="#ff3030" fill-opacity="0.85"/>
<circle cx="407.2" cy="808.4" r="1.4" fill="#ff3030" fill-opacity="0.85"/>
<circle cx="410.7" cy="816.6" r="1.0" fill="#ff3030" fill-opacity="0.77"/>
<circle cx="407.0" cy="816.4" r="1.2" fill="#ff3030" fill-opacity="0.89"/>
<circle cx="437.3" cy="809.3" r="0.9" fill="#ff3030" fill-opacity="0.57"/>
<circle cx="404.4" cy="806.7" r="0.8" fill="#ff3030" fill-opacity="0.74"/>
<circle cx="398.1" cy="813.5" r="0.9" fill="#ff3030" fill-opacity="0.62"/>
<circle cx="434.0" cy="811.3" r="0.9" fill="#ff3030" fill-opacity="0.69"/>
<circle cx="429.0" cy="806.6" r="1.4" fill="#ff3030" fill-opacity="0.51"/>
<circle cx="431.0" cy="815.3" r="0.6" fill="#ff3030" fill-opacity="0.82"/>
<circle cx="414.1" cy="812.4" r="0.6" fill="#ff3030" fill-opacity="0.52"/>
<circle cx="406.0" cy="816.5" r="0.8" fill="#ff3030" fill-opacity="0.80"/>
<circle cx="438.9" cy="816.4" r="0.9" fill="#ff3030" fill-opacity="0.64"/>
<circle cx="421.1" cy="814.5" r="0.7" fill="#ff3030" fill-opacity="0.80"/>
<circle cx="433.1" cy="815.5" r="0.6" fill="#ff3030" fill-opacity="0.88"/>
<circle cx="402.0" cy="809.7" r="1.1" fill="#ff3030" fill-opacity="0.87"/>
<circle cx="413.0" cy="816.2" r="1.0" fill="#ff3030" fill-opacity="0.62"/>
<circle cx="411.9" cy="808.0" r="0.7" fill="#ff3030" fill-opacity="0.56"/>
<circle cx="428.3" cy="817.0" r="0.7" fill="#ff3030" fill-opacity="0.52"/>
<circle cx="441.4" cy="811.9" r="0.9" fill="#ff3030" fill-opacity="0.59"/>
<circle cx="424.1" cy="815.1" r="1.0" fill="#ff3030" fill-opacity="0.67"/>
<circle cx="400.5" cy="816.1" r="0.6" fill="#ff3030" fill-opacity="0.70"/>
<circle cx="434.9" cy="807.4" r="1.2" fill="#ff3030" fill-opacity="0.88"/>
<circle cx="425.7" cy="814.7" r="0.7" fill="#ff3030" fill-opacity="0.67"/>
<circle cx="404.6" cy="815.3" r="0.8" fill="#ff3030" fill-opacity="0.68"/>
<circle cx="442.0" cy="815.4" r="1.4" fill="#ff3030" fill-opacity="0.68"/>
<circle cx="419.5" cy="814.0" r="1.0" fill="#ff3030" fill-opacity="0.62"/>
<circle cx="415.8" cy="807.6" r="0.9" fill="#ff3030" fill-opacity="0.90"/>
<circle cx="440.2" cy="812.9" r="1.0" fill="#ff3030" fill-opacity="0.64"/>
<circle cx="401.9" cy="809.0" r="1.2" fill="#ff3030" fill-opacity="0.85"/>
<circle cx="413.9" cy="814.6" r="1.2" fill="#ff3030" fill-opacity="0.78"/>
<circle cx="427.2" cy="814.4" r="0.9" fill="#ff3030" fill-opacity="0.78"/>
<circle cx="410.4" cy="811.3" r="1.2" fill="#ff3030" fill-opacity="0.78"/>
<circle cx="410.9" cy="816.4" r="1.1" fill="#ff3030" fill-opacity="0.73"/>
<circle cx="398.5" cy="812.0" r="0.8" fill="#ff3030" fill-opacity="0.77"/>
<circle cx="418.4" cy="815.0" r="1.1" fill="#ff3030" fill-opacity="0.82"/>
<circle cx="413.3" cy="813.1" r="1.2" fill="#ff3030" fill-opacity="0.83"/>
<circle cx="413.4" cy="815.3" r="1.3" fill="#ff3030" fill-opacity="0.78"/>
<circle cx="440.9" cy="816.5" r="1.0" fill="#ff3030" fill-opacity="0.71"/>
<circle cx="385.5" cy="786.4" r="1.0" fill="#ff3030" fill-opacity="0.60"/>
<circle cx="368.0" cy="783.3" r="1.0" fill="#ff3030" fill-opacity="0.80"/>
<circle cx="376.2" cy="785.4" r="0.8" fill="#ff3030" fill-opacity="0.82"/>
<circle cx="384.1" cy="778.3" r="1.0" fill="#ff3030" fill-opacity="0.77"/>
<circle cx="372.2" cy="781.1" r="1.2" fill="#ff3030" fill-opacity="0.61"/>
<circle cx="385.7" cy="783.7" r="1.3" fill="#ff3030" fill-opacity="0.63"/>
<circle cx="370.0" cy="786.0" r="1.2" fill="#ff3030" fill-opacity="0.68"/>
<circle cx="370.1" cy="773.9" r="1.1" fill="#ff3030" fill-opacity="0.62"/>
<circle cx="388.9" cy="781.8" r="0.8" fill="#ff3030" fill-opacity="0.76"/>
<circle cx="375.9" cy="788.7" r="1.3" fill="#ff3030" fill-opacity="0.71"/>
<text x="457.3" y="848.0" font-size="4.2" text-anchor="end" fill="#e6e6e6">μm 250</text>
</g>
<g clip-path="url(#clip_bub)">
<rect x="462.5" y="749.0" width="102.5" height="101.2" fill="url(#g_bub)" stroke="none" stroke-width="1" />
<ellipse cx="534" cy="795" rx="18" ry="50" fill="url(#b_bub1)"/>
<ellipse cx="490" cy="835" rx="25" ry="18" fill="url(#b_bub2)"/>
<path d="M462.0,786.0 C465.0,786.3 472.8,787.0 480.0,788.0 C487.2,789.0 498.3,791.7 505.0,792.0 C511.7,792.3 513.3,789.7 520.0,790.0 C526.7,790.3 537.3,792.8 545.0,794.0 C552.7,795.2 562.5,796.5 566.0,797.0 L566.0,814.0 C560.0,813.7 538.5,813.0 530.0,812.0 C521.5,811.0 519.2,808.3 515.0,808.0 C510.8,807.7 509.2,809.8 505.0,810.0 C500.8,810.2 497.2,809.3 490.0,809.0 C482.8,808.7 466.7,808.2 462.0,808.0 Z" fill="url(#gut_bub)" fill-opacity="0.95"/>
<path d="M478.0,749.0 C478.7,751.7 482.0,758.2 482.0,765.0 C482.0,771.8 478.7,785.8 478.0,790.0" fill="none" stroke="#262626" stroke-width="1.0" stroke-opacity="0.9" stroke-linecap="round"/>
<path d="M492.0,749.0 C492.7,752.5 494.7,762.8 496.0,770.0 C497.3,777.2 499.3,788.3 500.0,792.0" fill="none" stroke="#262626" stroke-width="1.0" stroke-opacity="0.9" stroke-linecap="round"/>
<path d="M535.0,749.0 C534.2,751.7 530.0,759.5 530.0,765.0 C530.0,770.5 533.3,777.5 535.0,782.0 C536.7,786.5 539.2,790.3 540.0,792.0" fill="none" stroke="#262626" stroke-width="1.3" stroke-opacity="0.9" stroke-linecap="round"/>
<path d="M563.0,762.0 C561.8,763.3 556.8,767.0 556.0,770.0 C555.2,773.0 556.5,778.0 558.0,780.0 C559.5,782.0 563.8,781.7 565.0,782.0" fill="none" stroke="#262626" stroke-width="1.1" stroke-opacity="0.9" stroke-linecap="round"/>
<path d="M470.0,815.0 C469.7,818.3 468.0,829.2 468.0,835.0 C468.0,840.8 469.7,847.5 470.0,850.0" fill="none" stroke="#262626" stroke-width="1.0" stroke-opacity="0.9" stroke-linecap="round"/>
<path d="M540.0,815.0 C540.8,817.5 545.0,824.2 545.0,830.0 C545.0,835.8 540.8,846.7 540.0,850.0" fill="none" stroke="#262626" stroke-width="1.0" stroke-opacity="0.9" stroke-linecap="round"/>
<ellipse cx="521.5" cy="771" rx="1.6" ry="3.6" fill="#111"/>
<rect x="462.5" y="749" width="102.5" height="101.2" fill="#000" filter="url(#grain)" opacity="0.3"/>
<path d="M462.0,785.5 C464.2,785.8 470.3,786.8 475.0,787.5 C479.7,788.2 485.0,789.2 490.0,790.0 C495.0,790.8 500.8,792.0 505.0,792.0 C509.2,792.0 511.7,790.2 515.0,790.0 C518.3,789.8 520.0,789.8 525.0,790.5 C530.0,791.2 538.2,792.9 545.0,794.0 C551.8,795.1 562.5,796.5 566.0,797.0" fill="none" stroke="#f4f4f4" stroke-width="1.5" stroke-dasharray="3.2 2.2"/>
<path d="M462.0,808.0 C465.0,808.2 473.7,808.7 480.0,809.0 C486.3,809.3 495.0,810.2 500.0,810.0 C505.0,809.8 506.7,807.9 510.0,808.0 C513.3,808.1 515.8,809.8 520.0,810.5 C524.2,811.2 527.3,811.4 535.0,812.0 C542.7,812.6 560.8,813.7 566.0,814.0" fill="none" stroke="#f4f4f4" stroke-width="1.5" stroke-dasharray="3.2 2.2"/>
<circle cx="499.1" cy="766.5" r="0.8" fill="#ff3030" fill-opacity="0.53"/>
<circle cx="518.2" cy="787.1" r="0.5" fill="#ff3030" fill-opacity="0.70"/>
<circle cx="473.4" cy="793.6" r="0.5" fill="#ff3030" fill-opacity="0.54"/>
<circle cx="508.2" cy="831.4" r="0.6" fill="#ff3030" fill-opacity="0.59"/>
<circle cx="526.5" cy="843.0" r="0.8" fill="#ff3030" fill-opacity="0.66"/>
<circle cx="557.9" cy="756.5" r="0.9" fill="#ff3030" fill-opacity="0.62"/>
<circle cx="483.0" cy="763.3" r="0.7" fill="#ff3030" fill-opacity="0.83"/>
<circle cx="486.3" cy="807.8" r="0.8" fill="#ff3030" fill-opacity="0.65"/>
<circle cx="519.3" cy="758.0" r="0.5" fill="#ff3030" fill-opacity="0.58"/>
<circle cx="531.2" cy="793.0" r="0.7" fill="#ff3030" fill-opacity="0.73"/>
<circle cx="510.8" cy="780.8" r="0.9" fill="#ff3030" fill-opacity="0.78"/>
<circle cx="492.0" cy="807.1" r="0.8" fill="#ff3030" fill-opacity="0.85"/>
<circle cx="535.7" cy="779.6" r="1.0" fill="#ff3030" fill-opacity="0.55"/>
<circle cx="507.6" cy="824.7" r="0.6" fill="#ff3030" fill-opacity="0.70"/>
<circle cx="473.5" cy="816.1" r="0.9" fill="#ff3030" fill-opacity="0.73"/>
<circle cx="548.8" cy="782.1" r="0.8" fill="#ff3030" fill-opacity="0.74"/>
<circle cx="522.2" cy="795.8" r="0.9" fill="#ff3030" fill-opacity="0.88"/>
<circle cx="512.7" cy="815.8" r="0.5" fill="#ff3030" fill-opacity="0.78"/>
<circle cx="528.2" cy="847.3" r="0.9" fill="#ff3030" fill-opacity="0.61"/>
<circle cx="504.7" cy="816.2" r="0.5" fill="#ff3030" fill-opacity="0.68"/>
<circle cx="485.1" cy="763.2" r="0.5" fill="#ff3030" fill-opacity="0.81"/>
<circle cx="481.6" cy="775.8" r="0.7" fill="#ff3030" fill-opacity="0.85"/>
<circle cx="477.3" cy="795.1" r="0.8" fill="#ff3030" fill-opacity="0.85"/>
<circle cx="543.7" cy="834.9" r="0.6" fill="#ff3030" fill-opacity="0.67"/>
<circle cx="502.3" cy="836.9" r="1.0" fill="#ff3030" fill-opacity="0.56"/>
<circle cx="485.9" cy="774.3" r="0.6" fill="#ff3030" fill-opacity="0.69"/>
<circle cx="523.0" cy="777.2" r="0.5" fill="#ff3030" fill-opacity="0.67"/>
<circle cx="503.2" cy="806.4" r="1.0" fill="#ff3030" fill-opacity="0.78"/>
<circle cx="516.4" cy="811.3" r="0.8" fill="#ff3030" fill-opacity="0.52"/>
<circle cx="551.0" cy="826.9" r="0.9" fill="#ff3030" fill-opacity="0.82"/>
<circle cx="505.3" cy="790.3" r="0.6" fill="#ff3030" fill-opacity="0.75"/>
<circle cx="475.6" cy="758.5" r="0.6" fill="#ff3030" fill-opacity="0.56"/>
<circle cx="500.6" cy="757.0" r="0.5" fill="#ff3030" fill-opacity="0.56"/>
<circle cx="479.1" cy="786.9" r="0.5" fill="#ff3030" fill-opacity="0.85"/>
<circle cx="525.3" cy="766.3" r="0.6" fill="#ff3030" fill-opacity="0.64"/>
<circle cx="502.8" cy="763.8" r="0.9" fill="#ff3030" fill-opacity="0.90"/>
<circle cx="511.9" cy="798.4" r="0.5" fill="#ff3030" fill-opacity="0.54"/>
<circle cx="500.8" cy="777.4" r="0.9" fill="#ff3030" fill-opacity="0.56"/>
<circle cx="472.1" cy="843.3" r="0.8" fill="#ff3030" fill-opacity="0.56"/>
<circle cx="518.9" cy="754.6" r="0.8" fill="#ff3030" fill-opacity="0.89"/>
<circle cx="547.7" cy="818.8" r="0.6" fill="#ff3030" fill-opacity="0.65"/>
<circle cx="485.0" cy="826.1" r="0.8" fill="#ff3030" fill-opacity="0.81"/>
<circle cx="499.7" cy="773.4" r="0.9" fill="#ff3030" fill-opacity="0.89"/>
<circle cx="546.7" cy="829.4" r="0.9" fill="#ff3030" fill-opacity="0.80"/>
<circle cx="490.4" cy="801.7" r="0.7" fill="#ff3030" fill-opacity="0.51"/>
<circle cx="472.5" cy="778.8" r="0.6" fill="#ff3030" fill-opacity="0.78"/>
<circle cx="556.1" cy="794.9" r="1.0" fill="#ff3030" fill-opacity="0.90"/>
<circle cx="556.0" cy="787.0" r="0.6" fill="#ff3030" fill-opacity="0.59"/>
<circle cx="487.7" cy="771.6" r="0.8" fill="#ff3030" fill-opacity="0.86"/>
<circle cx="545.6" cy="798.0" r="0.8" fill="#ff3030" fill-opacity="0.82"/>
<circle cx="477.6" cy="815.4" r="1.0" fill="#ff3030" fill-opacity="0.81"/>
<circle cx="537.5" cy="797.9" r="0.6" fill="#ff3030" fill-opacity="0.82"/>
<circle cx="499.9" cy="828.9" r="1.0" fill="#ff3030" fill-opacity="0.66"/>
<circle cx="506.1" cy="842.9" r="0.9" fill="#ff3030" fill-opacity="0.57"/>
<circle cx="481.4" cy="766.5" r="1.0" fill="#ff3030" fill-opacity="0.82"/>
<circle cx="483.2" cy="831.3" r="1.0" fill="#ff3030" fill-opacity="0.76"/>
<circle cx="501.5" cy="804.7" r="0.6" fill="#ff3030" fill-opacity="0.51"/>
<circle cx="557.4" cy="814.4" r="0.8" fill="#ff3030" fill-opacity="0.87"/>
<circle cx="509.0" cy="835.7" r="0.9" fill="#ff3030" fill-opacity="0.58"/>
<circle cx="492.7" cy="780.1" r="0.6" fill="#ff3030" fill-opacity="0.73"/>
<text x="563.0" y="848.0" font-size="4.2" text-anchor="end" fill="#e6e6e6">μm 250</text>
</g>
<g clip-path="url(#clip_gfa)">
<rect x="149.5" y="852.3" width="101.5" height="101.2" fill="url(#g_gfa)" stroke="none" stroke-width="1" />
<ellipse cx="198" cy="868" rx="26" ry="22" fill="url(#b_gfa1)"/>
<ellipse cx="168" cy="930" rx="14" ry="28" fill="url(#b_gfa2)"/>
<path d="M150.0,897.0 C151.7,896.3 155.8,894.5 160.0,893.0 C164.2,891.5 170.0,888.8 175.0,888.0 C180.0,887.2 185.0,886.3 190.0,888.0 C195.0,889.7 199.2,895.2 205.0,898.0 C210.8,900.8 217.3,903.5 225.0,905.0 C232.7,906.5 246.7,906.7 251.0,907.0 L251.0,923.0 C249.2,923.3 245.2,925.5 240.0,925.0 C234.8,924.5 226.7,921.8 220.0,920.0 C213.3,918.2 205.0,916.0 200.0,914.0 C195.0,912.0 194.2,909.8 190.0,908.0 C185.8,906.2 180.0,903.2 175.0,903.0 C170.0,902.8 164.2,904.7 160.0,907.0 C155.8,909.3 151.7,915.3 150.0,917.0 Z" fill="url(#gut_gfa)" fill-opacity="0.8"/>
<path d="M153.0,852.0 C153.2,858.3 153.2,877.0 154.0,890.0 C154.8,903.0 157.0,919.5 158.0,930.0 C159.0,940.5 159.7,949.2 160.0,953.0" fill="none" stroke="#222" stroke-width="1.6" stroke-opacity="0.9" stroke-linecap="round"/>
<path d="M155.0,853.0 C156.3,855.5 160.8,863.5 163.0,868.0 C165.2,872.5 166.0,876.7 168.0,880.0 C170.0,883.3 173.8,886.7 175.0,888.0" fill="none" stroke="#222" stroke-width="1.4" stroke-opacity="0.9" stroke-linecap="round"/>
<path d="M168.0,880.0 C170.0,880.8 175.5,882.5 180.0,885.0 C184.5,887.5 192.5,893.3 195.0,895.0" fill="none" stroke="#262626" stroke-width="1.2" stroke-opacity="0.9" stroke-linecap="round"/>
<path d="M190.0,855.0 C192.5,857.5 201.7,865.0 205.0,870.0 C208.3,875.0 209.2,882.5 210.0,885.0" fill="none" stroke="#333" stroke-width="0.8" stroke-opacity="0.9" stroke-linecap="round"/>
<ellipse cx="223.5" cy="867" rx="3.8" ry="9" transform="rotate(-25 223.5 867)" fill="#3a3a3a" stroke="#111" stroke-width="0.8"/>
<path d="M218.0,880.0 C218.7,882.0 220.3,888.7 222.0,892.0 C223.7,895.3 227.0,898.7 228.0,900.0" fill="none" stroke="#262626" stroke-width="1.0" stroke-opacity="0.9" stroke-linecap="round"/>
<path d="M185.0,920.0 C184.8,922.5 185.2,929.5 184.0,935.0 C182.8,940.5 179.0,950.0 178.0,953.0" fill="none" stroke="#262626" stroke-width="1.0" stroke-opacity="0.9" stroke-linecap="round"/>
<path d="M212.0,920.0 C211.3,923.0 208.3,932.5 208.0,938.0 C207.7,943.5 209.7,950.5 210.0,953.0" fill="none" stroke="#262626" stroke-width="1.0" stroke-opacity="0.9" stroke-linecap="round"/>
<path d="M230.0,925.0 C230.3,927.5 231.7,937.5 232.0,940.0" fill="none" stroke="#262626" stroke-width="0.9" stroke-opacity="0.9" stroke-linecap="round"/>
<line x1="244.0" y1="852.0" x2="244.0" y2="953.0" stroke="#444" stroke-width="1.5" stroke-opacity="0.5"/>
<circle cx="164.5" cy="925" r="1.8" fill="#222"/><circle cx="163" cy="940" r="1.5" fill="#222"/>
<rect x="149.5" y="852.3" width="101.5" height="101.2" fill="#000" filter="url(#grain)" opacity="0.3"/>
<path d="M150.0,897.0 C151.7,896.3 155.8,894.5 160.0,893.0 C164.2,891.5 170.0,888.8 175.0,888.0 C180.0,887.2 186.2,887.7 190.0,888.5 C193.8,889.3 195.5,891.4 198.0,893.0 C200.5,894.6 202.2,896.5 205.0,898.0 C207.8,899.5 211.7,900.8 215.0,902.0 C218.3,903.2 220.8,904.2 225.0,905.0 C229.2,905.8 235.7,906.2 240.0,906.5 C244.3,906.8 249.2,906.9 251.0,907.0" fill="none" stroke="#f4f4f4" stroke-width="1.5" stroke-dasharray="3.2 2.2"/>
<path d="M150.0,917.0 C150.8,916.0 153.3,912.7 155.0,911.0 C156.7,909.3 156.7,908.3 160.0,907.0 C163.3,905.7 170.8,903.3 175.0,903.0 C179.2,902.7 182.0,903.8 185.0,905.0 C188.0,906.2 190.5,908.5 193.0,910.0 C195.5,911.5 197.2,912.8 200.0,914.0 C202.8,915.2 206.7,916.0 210.0,917.0 C213.3,918.0 216.3,919.0 220.0,920.0 C223.7,921.0 228.7,922.2 232.0,923.0 C235.3,923.8 236.8,925.0 240.0,925.0 C243.2,925.0 249.2,923.3 251.0,923.0" fill="none" stroke="#f4f4f4" stroke-width="1.5" stroke-dasharray="3.2 2.2"/>
<circle cx="173.8" cy="946.5" r="0.6" fill="#ff3030" fill-opacity="0.78"/>
<circle cx="160.2" cy="879.3" r="1.0" fill="#ff3030" fill-opacity="0.58"/>
<circle cx="213.6" cy="899.2" r="0.7" fill="#ff3030" fill-opacity="0.70"/>
<circle cx="170.5" cy="934.1" r="0.5" fill="#ff3030" fill-opacity="0.59"/>
<circle cx="153.9" cy="881.1" r="0.7" fill="#ff3030" fill-opacity="0.86"/>
<circle cx="188.4" cy="866.7" r="0.6" fill="#ff3030" fill-opacity="0.90"/>
<circle cx="158.1" cy="914.3" r="0.7" fill="#ff3030" fill-opacity="0.76"/>
<circle cx="184.5" cy="921.0" r="0.7" fill="#ff3030" fill-opacity="0.76"/>
<circle cx="238.5" cy="910.7" r="0.6" fill="#ff3030" fill-opacity="0.53"/>
<circle cx="242.8" cy="901.9" r="0.6" fill="#ff3030" fill-opacity="0.88"/>
<circle cx="207.6" cy="924.5" r="0.9" fill="#ff3030" fill-opacity="0.61"/>
<circle cx="186.2" cy="938.5" r="0.6" fill="#ff3030" fill-opacity="0.81"/>
<circle cx="161.4" cy="920.9" r="0.9" fill="#ff3030" fill-opacity="0.88"/>
<circle cx="233.0" cy="903.3" r="0.6" fill="#ff3030" fill-opacity="0.56"/>
<circle cx="202.8" cy="903.9" r="0.5" fill="#ff3030" fill-opacity="0.86"/>
<circle cx="200.7" cy="921.9" r="0.6" fill="#ff3030" fill-opacity="0.60"/>
<circle cx="153.1" cy="888.3" r="0.6" fill="#ff3030" fill-opacity="0.67"/>
<circle cx="188.2" cy="934.4" r="0.9" fill="#ff3030" fill-opacity="0.57"/>
<circle cx="190.0" cy="871.6" r="0.8" fill="#ff3030" fill-opacity="0.89"/>
<circle cx="171.4" cy="928.0" r="0.7" fill="#ff3030" fill-opacity="0.51"/>
<circle cx="225.4" cy="888.1" r="0.6" fill="#ff3030" fill-opacity="0.67"/>
<circle cx="174.2" cy="894.5" r="0.7" fill="#ff3030" fill-opacity="0.67"/>
<circle cx="208.5" cy="883.1" r="0.5" fill="#ff3030" fill-opacity="0.53"/>
<circle cx="162.2" cy="905.0" r="0.7" fill="#ff3030" fill-opacity="0.82"/>
<circle cx="200.5" cy="922.6" r="1.0" fill="#ff3030" fill-opacity="0.53"/>
<circle cx="153.6" cy="869.2" r="0.7" fill="#ff3030" fill-opacity="0.73"/>
<circle cx="223.4" cy="889.0" r="1.0" fill="#ff3030" fill-opacity="0.50"/>
<circle cx="232.2" cy="875.7" r="0.9" fill="#ff3030" fill-opacity="0.51"/>
<circle cx="244.7" cy="927.4" r="1.0" fill="#ff3030" fill-opacity="0.73"/>
<circle cx="169.1" cy="947.2" r="0.7" fill="#ff3030" fill-opacity="0.53"/>
<text x="249.0" y="951.3" font-size="4.2" text-anchor="end" fill="#e6e6e6">μm 250</text>
</g>
<g clip-path="url(#clip_hka)">
<rect x="254.0" y="852.8" width="101.7" height="100.7" fill="url(#g_hka)" stroke="none" stroke-width="1" />
<ellipse cx="268" cy="872" rx="20" ry="26" fill="url(#b_hka1)"/>
<path d="M254.0,901.0 C256.7,900.2 264.0,897.3 270.0,896.0 C276.0,894.7 283.3,893.7 290.0,893.0 C296.7,892.3 303.3,891.7 310.0,892.0 C316.7,892.3 322.3,894.2 330.0,895.0 C337.7,895.8 351.7,896.7 356.0,897.0 L356.0,913.0 C353.3,912.8 346.0,912.3 340.0,912.0 C334.0,911.7 326.7,911.0 320.0,911.0 C313.3,911.0 306.7,911.5 300.0,912.0 C293.3,912.5 285.8,913.0 280.0,914.0 C274.2,915.0 269.3,916.3 265.0,918.0 C260.7,919.7 255.8,923.0 254.0,924.0 Z" fill="url(#gut_hka)" fill-opacity="0.92"/>
<path d="M282.0,853.0 C281.7,855.8 280.0,863.3 280.0,870.0 C280.0,876.7 281.7,889.2 282.0,893.0" fill="none" stroke="#262626" stroke-width="1.2" stroke-opacity="0.9" stroke-linecap="round"/>
<path d="M288.0,853.0 C288.7,856.7 289.7,868.8 292.0,875.0 C294.3,881.2 299.0,886.8 302.0,890.0 C305.0,893.2 308.7,893.3 310.0,894.0" fill="none" stroke="#262626" stroke-width="1.0" stroke-opacity="0.9" stroke-linecap="round"/>
<path d="M295.0,920.0 C294.2,922.5 290.5,929.5 290.0,935.0 C289.5,940.5 291.7,950.0 292.0,953.0" fill="none" stroke="#262626" stroke-width="1.0" stroke-opacity="0.9" stroke-linecap="round"/>
<path d="M292.0,920.0 C290.8,921.7 287.8,926.7 285.0,930.0 C282.2,933.3 276.7,938.3 275.0,940.0" fill="none" stroke="#262626" stroke-width="0.8" stroke-opacity="0.9" stroke-linecap="round"/>
<path d="M310.0,918.0 C311.3,920.0 315.5,925.5 318.0,930.0 C320.5,934.5 323.8,942.5 325.0,945.0" fill="none" stroke="#262626" stroke-width="0.8" stroke-opacity="0.9" stroke-linecap="round"/>
<path d="M300.0,925.0 C301.3,926.7 306.0,930.3 308.0,935.0 C310.0,939.7 311.3,950.0 312.0,953.0" fill="none" stroke="#262626" stroke-width="0.9" stroke-opacity="0.9" stroke-linecap="round"/>
<path d="M270.0,930.0 C272.5,931.7 280.0,937.5 285.0,940.0 C290.0,942.5 297.5,944.2 300.0,945.0" fill="none" stroke="#333" stroke-width="0.7" stroke-opacity="0.9" stroke-linecap="round"/>
<path d="M260.0,870.0 C261.7,871.7 265.8,877.5 270.0,880.0 C274.2,882.5 282.5,884.2 285.0,885.0" fill="none" stroke="#444" stroke-width="0.7" stroke-opacity="0.9" stroke-linecap="round"/>
<path d="M348.0,915.0 C347.5,918.3 345.7,928.7 345.0,935.0 C344.3,941.3 344.2,950.0 344.0,953.0" fill="none" stroke="#262626" stroke-width="1.1" stroke-opacity="0.9" stroke-linecap="round"/>
<path d="M350.0,853.0 C350.8,855.0 354.2,863.0 355.0,865.0" fill="none" stroke="#262626" stroke-width="1.1" stroke-opacity="0.9" stroke-linecap="round"/>
<path d="M255,853 L259,853 L259,858 L255,859" stroke="#111" stroke-width="1.8" fill="none"/>
<circle cx="308.2" cy="879.3" r="0.7" fill="#111"/>
<circle cx="331.7" cy="873.4" r="0.7" fill="#111"/>
<circle cx="310.8" cy="882.2" r="0.7" fill="#111"/>
<circle cx="340.4" cy="874.3" r="0.7" fill="#111"/>
<circle cx="325.3" cy="866.6" r="0.7" fill="#111"/>
<circle cx="300.2" cy="870.4" r="0.7" fill="#111"/>
<circle cx="329.3" cy="861.9" r="0.7" fill="#111"/>
<circle cx="339.7" cy="866.5" r="0.7" fill="#111"/>
<circle cx="311.6" cy="861.2" r="0.7" fill="#111"/>
<circle cx="349.9" cy="880.7" r="0.7" fill="#111"/>
<circle cx="343.8" cy="877.2" r="0.7" fill="#111"/>
<circle cx="301.7" cy="869.2" r="0.7" fill="#111"/>
<circle cx="324.9" cy="863.2" r="0.7" fill="#111"/>
<circle cx="347.6" cy="870.3" r="0.7" fill="#111"/>
<circle cx="307.7" cy="882.9" r="0.7" fill="#111"/>
<circle cx="306.2" cy="886.0" r="0.7" fill="#111"/>
<circle cx="322.7" cy="875.5" r="0.7" fill="#111"/>
<circle cx="317.1" cy="873.6" r="0.7" fill="#111"/>
<circle cx="309.3" cy="861.0" r="0.7" fill="#111"/>
<circle cx="343.3" cy="866.6" r="0.7" fill="#111"/>
<circle cx="339.0" cy="865.8" r="0.7" fill="#111"/>
<circle cx="348.4" cy="885.0" r="0.7" fill="#111"/>
<rect x="254" y="852.8" width="101.7" height="100.7" fill="#000" filter="url(#grain)" opacity="0.3"/>
<path d="M254.0,901.0 C255.3,900.5 259.3,898.8 262.0,898.0 C264.7,897.2 265.3,896.8 270.0,896.0 C274.7,895.2 283.3,893.7 290.0,893.0 C296.7,892.3 303.3,891.7 310.0,892.0 C316.7,892.3 322.3,894.2 330.0,895.0 C337.7,895.8 351.7,896.7 356.0,897.0" fill="none" stroke="#f4f4f4" stroke-width="1.5" stroke-dasharray="3.2 2.2"/>
<path d="M254.0,923.0 C255.0,922.5 257.7,921.2 260.0,920.0 C262.3,918.8 264.7,917.0 268.0,916.0 C271.3,915.0 274.7,914.7 280.0,914.0 C285.3,913.3 293.3,912.5 300.0,912.0 C306.7,911.5 313.3,911.0 320.0,911.0 C326.7,911.0 334.0,911.7 340.0,912.0 C346.0,912.3 353.3,912.8 356.0,913.0" fill="none" stroke="#f4f4f4" stroke-width="1.5" stroke-dasharray="3.2 2.2"/>
<circle cx="301.5" cy="891.1" r="0.6" fill="#ff3030" fill-opacity="0.85"/>
<circle cx="258.6" cy="903.3" r="0.9" fill="#ff3030" fill-opacity="0.53"/>
<circle cx="310.1" cy="914.0" r="0.5" fill="#ff3030" fill-opacity="0.65"/>
<circle cx="324.1" cy="898.5" r="0.9" fill="#ff3030" fill-opacity="0.56"/>
<circle cx="280.4" cy="866.4" r="0.8" fill="#ff3030" fill-opacity="0.87"/>
<circle cx="313.5" cy="928.8" r="0.7" fill="#ff3030" fill-opacity="0.80"/>
<circle cx="267.6" cy="883.4" r="0.8" fill="#ff3030" fill-opacity="0.79"/>
<circle cx="297.6" cy="864.2" r="0.6" fill="#ff3030" fill-opacity="0.58"/>
<circle cx="284.4" cy="932.1" r="0.6" fill="#ff3030" fill-opacity="0.85"/>
<circle cx="340.7" cy="861.2" r="0.7" fill="#ff3030" fill-opacity="0.70"/>
<circle cx="260.2" cy="895.9" r="1.0" fill="#ff3030" fill-opacity="0.54"/>
<circle cx="314.1" cy="867.4" r="0.8" fill="#ff3030" fill-opacity="0.86"/>
<circle cx="277.1" cy="856.8" r="0.5" fill="#ff3030" fill-opacity="0.72"/>
<circle cx="259.6" cy="864.0" r="0.7" fill="#ff3030" fill-opacity="0.87"/>
<circle cx="297.5" cy="893.4" r="0.8" fill="#ff3030" fill-opacity="0.54"/>
<circle cx="312.5" cy="872.2" r="0.8" fill="#ff3030" fill-opacity="0.88"/>
<circle cx="263.1" cy="908.2" r="0.8" fill="#ff3030" fill-opacity="0.56"/>
<circle cx="283.2" cy="949.5" r="1.0" fill="#ff3030" fill-opacity="0.55"/>
<circle cx="324.3" cy="945.4" r="0.6" fill="#ff3030" fill-opacity="0.74"/>
<circle cx="262.0" cy="890.4" r="0.8" fill="#ff3030" fill-opacity="0.74"/>
<circle cx="330.8" cy="864.2" r="0.7" fill="#ff3030" fill-opacity="0.85"/>
<circle cx="312.9" cy="898.4" r="0.7" fill="#ff3030" fill-opacity="0.89"/>
<circle cx="312.0" cy="857.7" r="0.9" fill="#ff3030" fill-opacity="0.63"/>
<circle cx="298.8" cy="876.1" r="0.7" fill="#ff3030" fill-opacity="0.63"/>
<circle cx="266.3" cy="915.2" r="0.6" fill="#ff3030" fill-opacity="0.81"/>
<circle cx="260.4" cy="929.4" r="0.9" fill="#ff3030" fill-opacity="0.70"/>
<circle cx="324.7" cy="879.3" r="0.9" fill="#ff3030" fill-opacity="0.67"/>
<circle cx="279.7" cy="946.6" r="0.7" fill="#ff3030" fill-opacity="0.65"/>
<circle cx="338.8" cy="890.7" r="0.8" fill="#ff3030" fill-opacity="0.57"/>
<circle cx="337.3" cy="880.3" r="0.5" fill="#ff3030" fill-opacity="0.89"/>
<circle cx="274.2" cy="945.0" r="1.0" fill="#ff3030" fill-opacity="0.74"/>
<circle cx="259.1" cy="861.7" r="0.6" fill="#ff3030" fill-opacity="0.66"/>
<circle cx="315.5" cy="946.8" r="0.7" fill="#ff3030" fill-opacity="0.56"/>
<circle cx="310.8" cy="868.9" r="0.5" fill="#ff3030" fill-opacity="0.72"/>
<circle cx="323.4" cy="862.2" r="0.7" fill="#ff3030" fill-opacity="0.78"/>
<text x="353.7" y="951.3" font-size="4.2" text-anchor="end" fill="#e6e6e6">μm 250</text>
</g>
<g clip-path="url(#clip_cla)">
<rect x="359.0" y="852.8" width="100.3" height="100.7" fill="url(#g_cla)" stroke="none" stroke-width="1" />
<ellipse cx="405" cy="938" rx="36" ry="24" fill="url(#b_cla1)"/>
<ellipse cx="436" cy="946" rx="9" ry="8" fill="url(#b_cla2)"/>
<ellipse cx="366" cy="935" rx="10" ry="20" fill="url(#b_cla3)"/>
<path d="M359.0,882.5 C360.8,882.9 366.5,884.1 370.0,885.0 C373.5,885.9 376.3,887.0 380.0,888.0 C383.7,889.0 388.7,890.2 392.0,891.0 C395.3,891.8 396.5,892.3 400.0,893.0 C403.5,893.7 409.3,895.3 413.0,895.0 C416.7,894.7 419.0,892.1 422.0,891.0 C425.0,889.9 427.2,888.8 431.0,888.2 C434.8,887.6 440.2,887.6 445.0,887.5 C449.8,887.4 457.5,887.4 460.0,887.4 L460.0,906.0 C458.3,906.2 453.3,906.5 450.0,907.0 C446.7,907.5 443.3,908.2 440.0,909.0 C436.7,909.8 433.3,911.3 430.0,912.0 C426.7,912.7 423.3,913.0 420.0,913.0 C416.7,913.0 412.5,911.9 410.0,912.0 C407.5,912.1 407.0,913.3 405.0,913.5 C403.0,913.7 400.5,913.4 398.0,913.0 C395.5,912.6 393.0,911.6 390.0,911.0 C387.0,910.4 383.3,909.7 380.0,909.5 C376.7,909.3 373.5,909.8 370.0,910.0 C366.5,910.2 360.8,910.8 359.0,911.0 Z" fill="url(#gut_cla)" fill-opacity="0.9"/>
<path d="M392,893 Q400,888 408,895 Q412,905 405,911 Q396,912 392,905 Z" fill="#2e2e2e" fill-opacity="0.6"/>
<path d="M360.0,856.0 C361.0,857.0 364.0,859.7 366.0,862.0 C368.0,864.3 371.0,868.7 372.0,870.0" fill="none" stroke="#1e1e1e" stroke-width="1.3" stroke-opacity="0.9" stroke-linecap="round"/>
<path d="M362.0,853.0 C362.7,853.8 364.7,858.0 366.0,858.0 C367.3,858.0 369.3,853.8 370.0,853.0" fill="none" stroke="#1e1e1e" stroke-width="1.0" stroke-opacity="0.9" stroke-linecap="round"/>
<path d="M378.0,853.0 C378.8,855.5 380.7,863.5 383.0,868.0 C385.3,872.5 389.2,876.3 392.0,880.0 C394.8,883.7 398.7,888.3 400.0,890.0" fill="none" stroke="#1a1a1a" stroke-width="1.2" stroke-opacity="0.9" stroke-linecap="round"/>
<path d="M372.0,866.0 C373.0,868.3 376.3,876.3 378.0,880.0 C379.7,883.7 381.3,886.7 382.0,888.0" fill="none" stroke="#333" stroke-width="0.8" stroke-opacity="0.9" stroke-linecap="round"/>
<path d="M421.0,853.0 C420.8,855.8 420.2,864.7 420.0,870.0 C419.8,875.3 420.0,882.5 420.0,885.0" fill="none" stroke="#262626" stroke-width="1.0" stroke-opacity="0.9" stroke-linecap="round"/>
<path d="M427.0,853.0 C427.2,855.8 427.5,864.3 428.0,870.0 C428.5,875.7 429.7,884.2 430.0,887.0" fill="none" stroke="#262626" stroke-width="1.0" stroke-opacity="0.9" stroke-linecap="round"/>
<path d="M384.0,912.0 C383.0,914.2 380.0,920.3 378.0,925.0 C376.0,929.7 373.7,935.3 372.0,940.0 C370.3,944.7 368.7,950.8 368.0,953.0" fill="none" stroke="#262626" stroke-width="1.1" stroke-opacity="0.9" stroke-linecap="round"/>
<path d="M390.0,914.0 C389.3,915.3 387.7,918.5 386.0,922.0 C384.3,925.5 381.0,932.8 380.0,935.0" fill="none" stroke="#262626" stroke-width="0.8" stroke-opacity="0.9" stroke-linecap="round"/>
<path d="M430.0,912.0 C430.5,914.2 431.7,921.2 433.0,925.0 C434.3,928.8 436.0,932.5 438.0,935.0 C440.0,937.5 443.8,939.2 445.0,940.0" fill="none" stroke="#111" stroke-width="0.8" stroke-opacity="0.9" stroke-linecap="round"/>
<line x1="372.5" y1="853.0" x2="372.5" y2="953.0" stroke="#222" stroke-width="1.2" stroke-opacity="0.6"/>
<ellipse cx="443.5" cy="949" rx="4" ry="5" fill="#e0e0e0" fill-opacity="0.7"/>
<rect x="359" y="852.8" width="100.3" height="100.7" fill="#000" filter="url(#grain)" opacity="0.3"/>
<path d="M359.0,882.5 C360.8,882.9 366.5,884.1 370.0,885.0 C373.5,885.9 376.3,887.0 380.0,888.0 C383.7,889.0 388.7,890.2 392.0,891.0 C395.3,891.8 396.5,892.3 400.0,893.0 C403.5,893.7 409.3,895.3 413.0,895.0 C416.7,894.7 419.0,892.1 422.0,891.0 C425.0,889.9 427.2,888.8 431.0,888.2 C434.8,887.6 440.2,887.6 445.0,887.5 C449.8,887.4 457.5,887.4 460.0,887.4" fill="none" stroke="#f4f4f4" stroke-width="1.5" stroke-dasharray="3.2 2.2"/>
<path d="M359.0,911.0 C360.8,910.8 366.5,910.2 370.0,910.0 C373.5,909.8 376.7,909.3 380.0,909.5 C383.3,909.7 387.0,910.4 390.0,911.0 C393.0,911.6 395.5,912.6 398.0,913.0 C400.5,913.4 403.0,913.7 405.0,913.5 C407.0,913.3 407.5,912.1 410.0,912.0 C412.5,911.9 416.7,913.0 420.0,913.0 C423.3,913.0 426.7,912.7 430.0,912.0 C433.3,911.3 436.7,909.8 440.0,909.0 C443.3,908.2 446.7,907.5 450.0,907.0 C453.3,906.5 458.3,906.2 460.0,906.0" fill="none" stroke="#f4f4f4" stroke-width="1.5" stroke-dasharray="3.2 2.2"/>
<circle cx="406.1" cy="869.7" r="0.8" fill="#ff5050" fill-opacity="0.48"/>
<circle cx="415.1" cy="882.4" r="0.9" fill="#ff5050" fill-opacity="0.46"/>
<circle cx="404.3" cy="866.5" r="0.6" fill="#ff5050" fill-opacity="0.78"/>
<circle cx="421.9" cy="857.4" r="1.0" fill="#ff5050" fill-opacity="0.64"/>
<circle cx="399.1" cy="865.1" r="0.9" fill="#ff5050" fill-opacity="0.58"/>
<circle cx="410.4" cy="877.2" r="0.6" fill="#ff5050" fill-opacity="0.71"/>
<circle cx="421.3" cy="887.0" r="0.9" fill="#ff5050" fill-opacity="0.42"/>
<circle cx="385.2" cy="860.3" r="1.1" fill="#ff5050" fill-opacity="0.52"/>
<circle cx="398.5" cy="884.7" r="0.7" fill="#ff5050" fill-opacity="0.62"/>
<circle cx="401.1" cy="858.1" r="0.9" fill="#ff5050" fill-opacity="0.74"/>
<circle cx="390.8" cy="863.2" r="0.7" fill="#ff5050" fill-opacity="0.41"/>
<circle cx="403.4" cy="882.2" r="0.9" fill="#ff5050" fill-opacity="0.61"/>
<circle cx="416.6" cy="860.8" r="0.8" fill="#ff5050" fill-opacity="0.55"/>
<circle cx="407.2" cy="859.6" r="1.0" fill="#ff5050" fill-opacity="0.44"/>
<circle cx="391.2" cy="881.8" r="1.1" fill="#ff5050" fill-opacity="0.57"/>
<circle cx="400.3" cy="863.9" r="0.7" fill="#ff5050" fill-opacity="0.65"/>
<circle cx="391.6" cy="859.8" r="0.8" fill="#ff5050" fill-opacity="0.47"/>
<circle cx="409.0" cy="882.3" r="1.0" fill="#ff5050" fill-opacity="0.59"/>
<circle cx="397.9" cy="869.9" r="0.5" fill="#ff5050" fill-opacity="0.69"/>
<circle cx="397.3" cy="866.2" r="0.5" fill="#ff5050" fill-opacity="0.58"/>
<circle cx="406.6" cy="868.5" r="1.0" fill="#ff5050" fill-opacity="0.67"/>
<circle cx="393.9" cy="872.8" r="1.0" fill="#ff5050" fill-opacity="0.61"/>
<circle cx="407.3" cy="858.0" r="0.8" fill="#ff5050" fill-opacity="0.58"/>
<circle cx="399.8" cy="869.5" r="0.9" fill="#ff5050" fill-opacity="0.62"/>
<circle cx="403.1" cy="861.3" r="0.8" fill="#ff5050" fill-opacity="0.79"/>
<circle cx="400.4" cy="857.1" r="0.5" fill="#ff5050" fill-opacity="0.61"/>
<circle cx="386.9" cy="859.0" r="0.6" fill="#ff5050" fill-opacity="0.58"/>
<circle cx="421.7" cy="871.5" r="0.8" fill="#ff5050" fill-opacity="0.57"/>
<circle cx="403.5" cy="870.3" r="0.9" fill="#ff5050" fill-opacity="0.76"/>
<circle cx="410.8" cy="869.5" r="0.9" fill="#ff5050" fill-opacity="0.76"/>
<circle cx="390.7" cy="863.6" r="0.9" fill="#ff5050" fill-opacity="0.67"/>
<circle cx="408.8" cy="874.8" r="1.0" fill="#ff5050" fill-opacity="0.59"/>
<circle cx="414.9" cy="886.8" r="0.8" fill="#ff5050" fill-opacity="0.74"/>
<circle cx="411.6" cy="884.4" r="0.5" fill="#ff5050" fill-opacity="0.77"/>
<circle cx="413.4" cy="886.8" r="1.1" fill="#ff5050" fill-opacity="0.51"/>
<circle cx="409.8" cy="860.5" r="0.9" fill="#ff5050" fill-opacity="0.77"/>
<circle cx="392.1" cy="867.2" r="0.5" fill="#ff5050" fill-opacity="0.48"/>
<circle cx="392.7" cy="859.1" r="1.1" fill="#ff5050" fill-opacity="0.76"/>
<circle cx="402.2" cy="879.8" r="0.9" fill="#ff5050" fill-opacity="0.61"/>
<circle cx="400.7" cy="877.3" r="0.8" fill="#ff5050" fill-opacity="0.51"/>
<circle cx="398.5" cy="876.1" r="0.9" fill="#ff5050" fill-opacity="0.48"/>
<circle cx="407.6" cy="884.0" r="1.0" fill="#ff5050" fill-opacity="0.66"/>
<circle cx="387.6" cy="869.6" r="0.6" fill="#ff5050" fill-opacity="0.42"/>
<circle cx="394.4" cy="870.6" r="1.0" fill="#ff5050" fill-opacity="0.65"/>
<circle cx="395.5" cy="878.2" r="0.8" fill="#ff5050" fill-opacity="0.60"/>
<circle cx="394.8" cy="870.1" r="0.7" fill="#ff5050" fill-opacity="0.69"/>
<circle cx="402.9" cy="870.3" r="0.8" fill="#ff5050" fill-opacity="0.59"/>
<circle cx="410.5" cy="879.0" r="1.0" fill="#ff5050" fill-opacity="0.56"/>
<circle cx="414.4" cy="886.9" r="1.1" fill="#ff5050" fill-opacity="0.69"/>
<circle cx="387.4" cy="883.1" r="1.0" fill="#ff5050" fill-opacity="0.41"/>
<circle cx="404.1" cy="908.6" r="1.0" fill="#ff3030" fill-opacity="0.69"/>
<circle cx="409.2" cy="911.2" r="0.6" fill="#ff3030" fill-opacity="0.70"/>
<circle cx="420.6" cy="930.5" r="0.5" fill="#ff3030" fill-opacity="0.62"/>
<circle cx="370.4" cy="932.1" r="0.8" fill="#ff3030" fill-opacity="0.52"/>
<circle cx="453.3" cy="946.7" r="0.8" fill="#ff3030" fill-opacity="0.75"/>
<circle cx="376.6" cy="857.4" r="0.8" fill="#ff3030" fill-opacity="0.52"/>
<circle cx="379.7" cy="878.7" r="0.5" fill="#ff3030" fill-opacity="0.69"/>
<circle cx="403.0" cy="935.2" r="0.8" fill="#ff3030" fill-opacity="0.76"/>
<circle cx="408.5" cy="918.3" r="0.7" fill="#ff3030" fill-opacity="0.61"/>
<circle cx="454.8" cy="949.6" r="0.9" fill="#ff3030" fill-opacity="0.78"/>
<circle cx="391.3" cy="877.6" r="0.6" fill="#ff3030" fill-opacity="0.53"/>
<circle cx="433.3" cy="893.6" r="0.9" fill="#ff3030" fill-opacity="0.65"/>
<circle cx="451.1" cy="935.6" r="0.5" fill="#ff3030" fill-opacity="0.58"/>
<circle cx="446.7" cy="900.2" r="1.0" fill="#ff3030" fill-opacity="0.66"/>
<circle cx="368.8" cy="915.2" r="0.9" fill="#ff3030" fill-opacity="0.61"/>
<circle cx="370.1" cy="887.3" r="1.0" fill="#ff3030" fill-opacity="0.80"/>
<circle cx="363.1" cy="874.1" r="1.1" fill="#ff3030" fill-opacity="0.88"/>
<circle cx="364.7" cy="865.1" r="1.2" fill="#ff3030" fill-opacity="0.76"/>
<circle cx="365.0" cy="873.7" r="0.9" fill="#ff3030" fill-opacity="0.81"/>
<circle cx="363.2" cy="864.5" r="1.3" fill="#ff3030" fill-opacity="0.64"/>
<circle cx="364.6" cy="876.1" r="1.1" fill="#ff3030" fill-opacity="0.56"/>
<circle cx="367.5" cy="873.3" r="0.7" fill="#ff3030" fill-opacity="0.76"/>
<circle cx="409.1" cy="920.2" r="0.9" fill="#ff3030" fill-opacity="0.56"/>
<circle cx="409.7" cy="920.3" r="0.9" fill="#ff3030" fill-opacity="0.77"/>
<circle cx="406.4" cy="940.0" r="0.6" fill="#ff3030" fill-opacity="0.64"/>
<circle cx="402.7" cy="925.6" r="0.6" fill="#ff3030" fill-opacity="0.59"/>
<circle cx="406.4" cy="937.5" r="0.9" fill="#ff3030" fill-opacity="0.59"/>
<circle cx="408.1" cy="930.2" r="0.6" fill="#ff3030" fill-opacity="0.68"/>
<circle cx="395.5" cy="921.6" r="0.8" fill="#ff3030" fill-opacity="0.64"/>
<circle cx="399.2" cy="938.6" r="0.8" fill="#ff3030" fill-opacity="0.66"/>
<circle cx="406.6" cy="939.9" r="0.7" fill="#ff3030" fill-opacity="0.88"/>
<circle cx="385.5" cy="922.8" r="0.6" fill="#ff3030" fill-opacity="0.88"/>
<circle cx="402.3" cy="934.4" r="0.6" fill="#ff3030" fill-opacity="0.70"/>
<circle cx="407.2" cy="922.0" r="0.6" fill="#ff3030" fill-opacity="0.52"/>
<text x="457.3" y="951.3" font-size="4.2" text-anchor="end" fill="#e6e6e6">μm 250</text>
</g>
<g clip-path="url(#clip_bua)">
<rect x="462.5" y="853.5" width="102.5" height="100.0" fill="url(#g_bua)" stroke="none" stroke-width="1" />
<rect x="462.5" y="900.0" width="102.5" height="53.5" fill="url(#v_bua)" stroke="none" stroke-width="1" />
<ellipse cx="475" cy="940" rx="18" ry="22" fill="url(#b_bua1)"/>
<ellipse cx="556" cy="942" rx="16" ry="18" fill="url(#b_bua2)"/>
<path d="M462.0,900.0 C465.0,899.7 473.7,899.2 480.0,898.0 C486.3,896.8 493.3,893.8 500.0,893.0 C506.7,892.2 513.3,891.5 520.0,893.0 C526.7,894.5 532.3,899.2 540.0,902.0 C547.7,904.8 561.7,908.7 566.0,910.0 L566.0,927.0 C561.7,925.8 547.7,922.3 540.0,920.0 C532.3,917.7 526.7,914.5 520.0,913.0 C513.3,911.5 506.7,910.5 500.0,911.0 C493.3,911.5 486.3,914.2 480.0,916.0 C473.7,917.8 465.0,921.0 462.0,922.0 Z" fill="url(#gut_bua)" fill-opacity="0.9"/>
<path d="M466.0,853.0 C466.2,860.8 466.7,883.3 467.0,900.0 C467.3,916.7 467.8,944.2 468.0,953.0" fill="none" stroke="#222" stroke-width="1.6" stroke-opacity="0.9" stroke-linecap="round"/>
<path d="M475.0,853.0 C475.5,855.8 477.2,863.8 478.0,870.0 C478.8,876.2 479.7,886.7 480.0,890.0" fill="none" stroke="#262626" stroke-width="1.0" stroke-opacity="0.9" stroke-linecap="round"/>
<path d="M478.0,925.0 C479.2,927.5 483.5,935.3 485.0,940.0 C486.5,944.7 486.7,950.8 487.0,953.0" fill="none" stroke="#262626" stroke-width="1.0" stroke-opacity="0.9" stroke-linecap="round"/>
<path d="M505.0,915.0 C503.3,918.3 497.0,928.7 495.0,935.0 C493.0,941.3 493.3,950.0 493.0,953.0" fill="none" stroke="#262626" stroke-width="1.0" stroke-opacity="0.9" stroke-linecap="round"/>
<path d="M540.0,925.0 C540.5,927.5 541.7,935.3 543.0,940.0 C544.3,944.7 547.2,950.8 548.0,953.0" fill="none" stroke="#262626" stroke-width="1.0" stroke-opacity="0.9" stroke-linecap="round"/>
<path d="M565.0,895.0 C563.5,895.8 557.7,897.5 556.0,900.0 C554.3,902.5 555.2,908.3 555.0,910.0" fill="none" stroke="#262626" stroke-width="1.2" stroke-opacity="0.9" stroke-linecap="round"/>
<path d="M490.0,925.0 C491.7,926.2 495.8,930.3 500.0,932.0 C504.2,933.7 510.0,935.3 515.0,935.0 C520.0,934.7 527.5,930.8 530.0,930.0" fill="none" stroke="#333" stroke-width="0.8" stroke-opacity="0.9" stroke-linecap="round"/>
<path d="M520.0,930.0 C520.3,932.0 522.3,938.2 522.0,942.0 C521.7,945.8 518.7,951.2 518.0,953.0" fill="none" stroke="#333" stroke-width="0.8" stroke-opacity="0.9" stroke-linecap="round"/>
<path d="M548.0,930.0 C549.2,931.7 552.7,937.5 555.0,940.0 C557.3,942.5 560.8,944.2 562.0,945.0" fill="none" stroke="#333" stroke-width="0.8" stroke-opacity="0.9" stroke-linecap="round"/>
<path d="M470.0,870.0 C471.3,871.7 474.7,877.3 478.0,880.0 C481.3,882.7 488.0,885.0 490.0,886.0" fill="none" stroke="#444" stroke-width="0.7" stroke-opacity="0.9" stroke-linecap="round"/>
<rect x="462.5" y="853.5" width="102.5" height="100.0" fill="#000" filter="url(#grain)" opacity="0.3"/>
<path d="M462.0,900.0 C463.7,899.9 469.0,899.8 472.0,899.5 C475.0,899.2 477.0,898.8 480.0,898.0 C483.0,897.2 486.7,895.8 490.0,895.0 C493.3,894.2 496.7,893.4 500.0,893.0 C503.3,892.6 506.7,892.5 510.0,892.5 C513.3,892.5 516.7,892.2 520.0,893.0 C523.3,893.8 526.7,895.5 530.0,897.0 C533.3,898.5 536.3,900.5 540.0,902.0 C543.7,903.5 547.7,904.7 552.0,906.0 C556.3,907.3 563.7,909.3 566.0,910.0" fill="none" stroke="#f4f4f4" stroke-width="1.5" stroke-dasharray="3.2 2.2"/>
<path d="M462.0,921.0 C463.3,920.7 467.0,919.8 470.0,919.0 C473.0,918.2 476.7,917.0 480.0,916.0 C483.3,915.0 486.7,913.8 490.0,913.0 C493.3,912.2 496.7,911.2 500.0,911.0 C503.3,910.8 506.7,911.2 510.0,911.5 C513.3,911.8 516.7,912.2 520.0,913.0 C523.3,913.8 526.7,914.8 530.0,916.0 C533.3,917.2 536.3,918.7 540.0,920.0 C543.7,921.3 547.7,922.8 552.0,924.0 C556.3,925.2 563.7,926.5 566.0,927.0" fill="none" stroke="#f4f4f4" stroke-width="1.5" stroke-dasharray="3.2 2.2"/>
<circle cx="512.6" cy="917.8" r="0.8" fill="#ff3030" fill-opacity="0.56"/>
<circle cx="469.0" cy="891.2" r="0.6" fill="#ff3030" fill-opacity="0.82"/>
<circle cx="532.9" cy="912.5" r="0.8" fill="#ff3030" fill-opacity="0.76"/>
<circle cx="481.7" cy="897.4" r="0.6" fill="#ff3030" fill-opacity="0.86"/>
<circle cx="473.5" cy="933.0" r="0.5" fill="#ff3030" fill-opacity="0.77"/>
<circle cx="499.7" cy="894.0" r="0.9" fill="#ff3030" fill-opacity="0.51"/>
<circle cx="473.7" cy="942.0" r="0.8" fill="#ff3030" fill-opacity="0.54"/>
<circle cx="560.8" cy="945.0" r="0.6" fill="#ff3030" fill-opacity="0.67"/>
<circle cx="480.7" cy="885.4" r="0.8" fill="#ff3030" fill-opacity="0.57"/>
<circle cx="533.5" cy="860.8" r="0.6" fill="#ff3030" fill-opacity="0.83"/>
<circle cx="505.6" cy="895.4" r="0.8" fill="#ff3030" fill-opacity="0.69"/>
<circle cx="504.2" cy="858.9" r="0.9" fill="#ff3030" fill-opacity="0.89"/>
<circle cx="559.8" cy="918.4" r="0.7" fill="#ff3030" fill-opacity="0.65"/>
<circle cx="532.9" cy="919.3" r="0.6" fill="#ff3030" fill-opacity="0.59"/>
<circle cx="502.2" cy="904.1" r="0.9" fill="#ff3030" fill-opacity="0.70"/>
<circle cx="470.6" cy="933.3" r="0.7" fill="#ff3030" fill-opacity="0.71"/>
<circle cx="488.9" cy="896.2" r="0.7" fill="#ff3030" fill-opacity="0.81"/>
<circle cx="477.6" cy="907.7" r="0.6" fill="#ff3030" fill-opacity="0.78"/>
<circle cx="471.5" cy="882.0" r="0.7" fill="#ff3030" fill-opacity="0.75"/>
<circle cx="472.9" cy="899.2" r="0.6" fill="#ff3030" fill-opacity="0.61"/>
<circle cx="512.8" cy="946.1" r="0.7" fill="#ff3030" fill-opacity="0.88"/>
<circle cx="483.8" cy="942.9" r="0.7" fill="#ff3030" fill-opacity="0.58"/>
<circle cx="538.4" cy="941.7" r="0.5" fill="#ff3030" fill-opacity="0.61"/>
<circle cx="540.4" cy="888.1" r="0.6" fill="#ff3030" fill-opacity="0.50"/>
<circle cx="471.8" cy="914.2" r="1.0" fill="#ff3030" fill-opacity="0.90"/>
<circle cx="515.3" cy="858.2" r="0.7" fill="#ff3030" fill-opacity="0.81"/>
<circle cx="546.2" cy="916.1" r="0.6" fill="#ff3030" fill-opacity="0.71"/>
<circle cx="512.9" cy="914.9" r="0.6" fill="#ff3030" fill-opacity="0.88"/>
<circle cx="552.1" cy="871.2" r="0.6" fill="#ff3030" fill-opacity="0.85"/>
<circle cx="494.2" cy="944.7" r="0.8" fill="#ff3030" fill-opacity="0.78"/>
<circle cx="534.2" cy="876.1" r="0.6" fill="#ff3030" fill-opacity="0.60"/>
<circle cx="532.2" cy="921.2" r="0.6" fill="#ff3030" fill-opacity="0.85"/>
<circle cx="507.5" cy="878.7" r="0.7" fill="#ff3030" fill-opacity="0.89"/>
<circle cx="520.6" cy="914.7" r="1.0" fill="#ff3030" fill-opacity="0.88"/>
<circle cx="539.5" cy="895.3" r="0.8" fill="#ff3030" fill-opacity="0.86"/>
<circle cx="542.2" cy="910.5" r="0.7" fill="#ff3030" fill-opacity="0.65"/>
<circle cx="537.2" cy="909.0" r="0.5" fill="#ff3030" fill-opacity="0.78"/>
<circle cx="553.0" cy="931.0" r="0.9" fill="#ff3030" fill-opacity="0.86"/>
<circle cx="518.3" cy="930.2" r="0.7" fill="#ff3030" fill-opacity="0.54"/>
<circle cx="501.2" cy="885.3" r="1.0" fill="#ff3030" fill-opacity="0.78"/>
<circle cx="518.9" cy="914.5" r="0.6" fill="#ff3030" fill-opacity="0.71"/>
<circle cx="533.9" cy="893.1" r="0.6" fill="#ff3030" fill-opacity="0.66"/>
<circle cx="498.4" cy="920.4" r="0.6" fill="#ff3030" fill-opacity="0.54"/>
<circle cx="497.4" cy="921.4" r="0.9" fill="#ff3030" fill-opacity="0.76"/>
<circle cx="555.9" cy="890.4" r="0.5" fill="#ff3030" fill-opacity="0.70"/>
<circle cx="509.7" cy="872.9" r="0.8" fill="#ff3030" fill-opacity="0.64"/>
<circle cx="490.4" cy="886.8" r="1.0" fill="#ff3030" fill-opacity="0.50"/>
<circle cx="501.9" cy="882.3" r="0.6" fill="#ff3030" fill-opacity="0.67"/>
<circle cx="488.7" cy="942.4" r="0.8" fill="#ff3030" fill-opacity="0.78"/>
<circle cx="483.3" cy="899.7" r="0.8" fill="#ff3030" fill-opacity="0.84"/>
<circle cx="550.2" cy="927.6" r="1.1" fill="#ff3030" fill-opacity="0.84"/>
<circle cx="548.7" cy="921.2" r="0.7" fill="#ff3030" fill-opacity="0.59"/>
<circle cx="559.7" cy="919.8" r="1.0" fill="#ff3030" fill-opacity="0.59"/>
<circle cx="550.9" cy="924.0" r="1.3" fill="#ff3030" fill-opacity="0.74"/>
<circle cx="545.3" cy="921.9" r="0.7" fill="#ff3030" fill-opacity="0.85"/>
<circle cx="561.2" cy="929.3" r="1.3" fill="#ff3030" fill-opacity="0.80"/>
<circle cx="564.0" cy="929.1" r="0.8" fill="#ff3030" fill-opacity="0.84"/>
<circle cx="554.7" cy="928.6" r="1.1" fill="#ff3030" fill-opacity="0.67"/>
<circle cx="552.3" cy="924.0" r="0.9" fill="#ff3030" fill-opacity="0.55"/>
<circle cx="561.4" cy="929.2" r="1.4" fill="#ff3030" fill-opacity="0.78"/>
<text x="563.0" y="951.3" font-size="4.2" text-anchor="end" fill="#e6e6e6">μm 250</text>
</g>
</svg></body></html>
